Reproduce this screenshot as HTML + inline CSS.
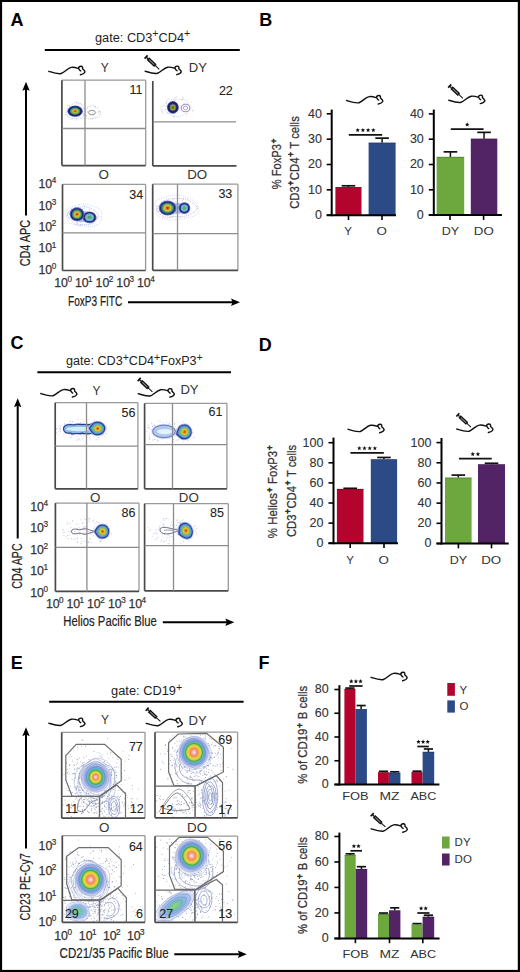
<!DOCTYPE html>
<html><head><meta charset="utf-8"><style>html,body{margin:0;padding:0;background:#fff;overflow:hidden;}svg{display:block;}</style></head>
<body><svg width="520" height="972" viewBox="0 0 520 972" font-family="'Liberation Sans', sans-serif">
<rect x="0" y="0" width="520" height="972" fill="#fff" />
<rect x="0" y="0" width="520" height="2" fill="#000" />
<rect x="0" y="0" width="2.1" height="972" fill="#000" />
<rect x="517.8" y="0" width="2.2" height="972" fill="#000" />
<rect x="0" y="969.9" width="520" height="2.1" fill="#000" />
<text x="10.6" y="25.8" font-size="18" text-anchor="start" fill="#000" font-weight="bold" >A</text>
<text x="259.2" y="25.8" font-size="18" text-anchor="start" fill="#000" font-weight="bold" >B</text>
<text x="10.6" y="349.2" font-size="18" text-anchor="start" fill="#000" font-weight="bold" >C</text>
<text x="258.8" y="351" font-size="18" text-anchor="start" fill="#000" font-weight="bold" >D</text>
<text x="10.8" y="669.3" font-size="18" text-anchor="start" fill="#000" font-weight="bold" >E</text>
<text x="258.6" y="669.3" font-size="18" text-anchor="start" fill="#000" font-weight="bold" >F</text>
<defs>
<radialGradient id="gE">
<stop offset="0" stop-color="#fff4f6"/>
<stop offset="0.08" stop-color="#f6b4c0"/>
<stop offset="0.16" stop-color="#f08c50"/>
<stop offset="0.27" stop-color="#eed448"/>
<stop offset="0.35" stop-color="#b4d040"/>
<stop offset="0.41" stop-color="#48a848"/>
<stop offset="0.49" stop-color="#58c0c8"/>
<stop offset="0.58" stop-color="#7898d8"/>
<stop offset="0.72" stop-color="#b0bee8"/>
<stop offset="0.88" stop-color="#d8def4"/>
<stop offset="1" stop-color="#eef0fa" stop-opacity="0"/>
</radialGradient>
<radialGradient id="gE2">
<stop offset="0" stop-color="#fff4f6"/>
<stop offset="0.1" stop-color="#f6b4c0"/>
<stop offset="0.22" stop-color="#f08c50"/>
<stop offset="0.37" stop-color="#eed448"/>
<stop offset="0.45" stop-color="#b4d040"/>
<stop offset="0.51" stop-color="#48a848"/>
<stop offset="0.59" stop-color="#58c0c8"/>
<stop offset="0.67" stop-color="#7898d8"/>
<stop offset="0.8" stop-color="#b0bee8"/>
<stop offset="0.92" stop-color="#d8def4"/>
<stop offset="1" stop-color="#eef0fa" stop-opacity="0"/>
</radialGradient>
<radialGradient id="gEc">
<stop offset="0" stop-color="#a8d060"/>
<stop offset="0.25" stop-color="#70c4a8"/>
<stop offset="0.5" stop-color="#88b8e0"/>
<stop offset="0.75" stop-color="#b8c8ee"/>
<stop offset="1" stop-color="#e0e4f6" stop-opacity="0"/>
</radialGradient>
</defs>
<circle cx="84.7" cy="115.2" r="0.6" fill="#f0d8e0"/><circle cx="69.5" cy="105.8" r="0.6" fill="#c8d0f0"/><circle cx="78.1" cy="104.9" r="0.6" fill="#c8e8f0"/><circle cx="79.6" cy="116.5" r="0.6" fill="#d0d0d0"/><circle cx="87.7" cy="111.8" r="0.6" fill="#c8e8f0"/><circle cx="76.1" cy="118.2" r="0.6" fill="#c8d0f0"/><circle cx="72.5" cy="118.8" r="0.6" fill="#c8e8f0"/><circle cx="74.0" cy="117.9" r="0.6" fill="#e0f0d0"/><circle cx="77.6" cy="106.3" r="0.6" fill="#c8d0f0"/><circle cx="67.6" cy="105.1" r="0.6" fill="#d0d0d0"/><circle cx="76.3" cy="120.0" r="0.6" fill="#d0d0d0"/><circle cx="83.7" cy="115.2" r="0.6" fill="#f0d8e0"/><circle cx="83.5" cy="108.4" r="0.6" fill="#c8e8f0"/><circle cx="67.2" cy="115.6" r="0.6" fill="#c8e8f0"/><circle cx="80.0" cy="106.5" r="0.6" fill="#f0d8e0"/><circle cx="87.0" cy="111.0" r="0.6" fill="#f0d8e0"/><circle cx="80.2" cy="110.2" r="0.6" fill="#c8e8f0"/><circle cx="72.1" cy="115.1" r="0.6" fill="#d0d0d0"/><circle cx="81.8" cy="110.8" r="0.6" fill="#e0f0d0"/><circle cx="79.0" cy="115.9" r="0.6" fill="#c8e8f0"/><circle cx="71.0" cy="119.2" r="0.6" fill="#d0d0d0"/><circle cx="77.6" cy="111.1" r="0.6" fill="#d0d0d0"/><circle cx="78.3" cy="107.6" r="0.6" fill="#e0f0d0"/><circle cx="75.7" cy="108.6" r="0.6" fill="#d0d0d0"/><circle cx="85.9" cy="116.1" r="0.6" fill="#f0d8e0"/><circle cx="81.9" cy="118.3" r="0.6" fill="#e0f0d0"/><circle cx="77.9" cy="102.9" r="0.6" fill="#d0d0d0"/><circle cx="68.9" cy="117.8" r="0.6" fill="#c8d0f0"/><circle cx="82.6" cy="104.5" r="0.6" fill="#f0d8e0"/><circle cx="69.4" cy="105.8" r="0.6" fill="#c8d0f0"/><circle cx="74.0" cy="114.9" r="0.6" fill="#c8d0f0"/><circle cx="64.5" cy="108.5" r="0.6" fill="#e0f0d0"/><circle cx="80.5" cy="103.5" r="0.6" fill="#c8d0f0"/><circle cx="84.1" cy="104.8" r="0.6" fill="#e0f0d0"/><circle cx="76.6" cy="102.0" r="0.6" fill="#d0d0d0"/><circle cx="71.9" cy="113.1" r="0.6" fill="#c8d0f0"/><circle cx="70.4" cy="110.8" r="0.6" fill="#f0d8e0"/><circle cx="74.7" cy="115.8" r="0.6" fill="#c8d0f0"/><circle cx="86.5" cy="115.6" r="0.6" fill="#d0d0d0"/><circle cx="81.3" cy="110.5" r="0.6" fill="#e0f0d0"/><circle cx="65.4" cy="114.4" r="0.6" fill="#c8d0f0"/><circle cx="87.7" cy="111.3" r="0.6" fill="#c8e8f0"/><circle cx="75.7" cy="107.9" r="0.6" fill="#f0d8e0"/><circle cx="69.7" cy="112.9" r="0.6" fill="#c8e8f0"/><circle cx="80.0" cy="114.6" r="0.6" fill="#e0f0d0"/>
<circle cx="87.3" cy="112.6" r="0.5" fill="#d0d0e0"/><circle cx="99.5" cy="111.6" r="0.5" fill="#c8c8d0"/><circle cx="93.9" cy="117.7" r="0.5" fill="#d0d0e0"/><circle cx="87.7" cy="108.3" r="0.5" fill="#d0d0e0"/><circle cx="92.7" cy="112.7" r="0.5" fill="#d0d0e0"/><circle cx="94.5" cy="107.1" r="0.5" fill="#c8c8d0"/><circle cx="98.6" cy="112.3" r="0.5" fill="#c8c8d0"/><circle cx="95.1" cy="105.9" r="0.5" fill="#c8c8d0"/><circle cx="98.6" cy="111.6" r="0.5" fill="#d0d0e0"/><circle cx="95.9" cy="117.9" r="0.5" fill="#d0d0e0"/><circle cx="96.1" cy="113.1" r="0.5" fill="#c8c8d0"/><circle cx="85.4" cy="108.0" r="0.5" fill="#d0d0e0"/><circle cx="97.0" cy="117.0" r="0.5" fill="#d0d0e0"/><circle cx="92.1" cy="110.4" r="0.5" fill="#d0d0e0"/><circle cx="92.6" cy="110.7" r="0.5" fill="#c8c8d0"/><circle cx="99.3" cy="114.5" r="0.5" fill="#c8c8d0"/><circle cx="95.1" cy="107.3" r="0.5" fill="#d0d0e0"/><circle cx="93.2" cy="115.0" r="0.5" fill="#c8c8d0"/><circle cx="87.8" cy="106.7" r="0.5" fill="#d0d0e0"/><circle cx="90.4" cy="107.1" r="0.5" fill="#d0d0e0"/><circle cx="90.7" cy="110.8" r="0.5" fill="#c8c8d0"/><circle cx="83.8" cy="113.6" r="0.5" fill="#c8c8d0"/><circle cx="89.8" cy="113.2" r="0.5" fill="#d0d0e0"/><circle cx="92.1" cy="119.0" r="0.5" fill="#d0d0e0"/><circle cx="92.6" cy="118.3" r="0.5" fill="#d0d0e0"/>
<path d="M85.35,111.50 C85.55,112.79 86.15,114.55 85.43,115.65 C84.70,116.74 82.56,117.54 80.99,118.08 C79.41,118.62 77.64,118.92 76.00,118.89 C74.36,118.87 72.62,118.50 71.14,117.92 C69.66,117.34 67.89,116.47 67.12,115.40 C66.36,114.33 66.50,112.78 66.55,111.50 C66.61,110.22 66.70,108.83 67.45,107.74 C68.21,106.65 69.64,105.82 71.06,104.98 C72.49,104.15 74.33,102.78 76.00,102.75 C77.67,102.72 79.71,103.94 81.08,104.79 C82.45,105.65 83.49,106.78 84.20,107.89 C84.91,109.01 85.14,110.21 85.35,111.50 Z" fill="none" stroke="#a0a8e0" stroke-width="0.7" opacity="0.9" stroke-dasharray="0.8 1.1"/>
<ellipse cx="75.1" cy="111.2" rx="7.7" ry="5.6" fill="#4850b8" />
<ellipse cx="75.1" cy="111.2" rx="6.776" ry="4.928" fill="#1c2264" />
<ellipse cx="75.1" cy="111.2" rx="5.082000000000001" ry="3.6959999999999997" fill="#3e8a86" />
<ellipse cx="75.1" cy="111.2" rx="3.85" ry="2.8" fill="#88b848" />
<ellipse cx="75.1" cy="111.2" rx="2.6180000000000003" ry="1.904" fill="#d0b030" />
<ellipse cx="75.1" cy="111.2" rx="1.386" ry="1.008" fill="#c85a22" />
<path d="M100.51,112.40 C100.65,113.55 100.56,115.17 99.77,116.04 C98.97,116.92 97.03,117.22 95.74,117.66 C94.45,118.11 93.37,118.52 92.00,118.70 C90.63,118.87 88.84,119.14 87.52,118.71 C86.19,118.28 84.76,117.18 84.05,116.13 C83.33,115.08 82.89,113.49 83.21,112.40 C83.54,111.31 85.20,110.52 86.00,109.58 C86.80,108.65 87.01,107.56 88.01,106.79 C89.01,106.02 90.67,104.98 92.00,104.97 C93.33,104.97 94.86,106.06 96.01,106.75 C97.16,107.45 98.16,108.22 98.91,109.16 C99.66,110.10 100.37,111.25 100.51,112.40 Z" fill="none" stroke="#a0a0a8" stroke-width="0.6" opacity="0.9" stroke-dasharray="0.8 1.1"/>
<ellipse cx="92" cy="112.6" rx="3.4" ry="2.3" fill="none" stroke="#8a8a8a" stroke-width="0.9"/>
<circle cx="168.0" cy="98.3" r="0.6" fill="#c8e8f0"/><circle cx="176.3" cy="98.0" r="0.6" fill="#c8d0f0"/><circle cx="173.7" cy="116.2" r="0.6" fill="#c8d0f0"/><circle cx="167.5" cy="107.8" r="0.6" fill="#f0d8e0"/><circle cx="186.5" cy="114.2" r="0.6" fill="#f0d8e0"/><circle cx="188.2" cy="113.7" r="0.6" fill="#f0d8e0"/><circle cx="166.6" cy="102.8" r="0.6" fill="#c0c0d0"/><circle cx="188.8" cy="104.2" r="0.6" fill="#d0d0d0"/><circle cx="171.5" cy="104.5" r="0.6" fill="#e0f0d0"/><circle cx="166.0" cy="106.4" r="0.6" fill="#c8d0f0"/><circle cx="184.0" cy="102.9" r="0.6" fill="#d0d0d0"/><circle cx="166.6" cy="105.3" r="0.6" fill="#f0d8e0"/><circle cx="174.7" cy="99.5" r="0.6" fill="#f0d8e0"/><circle cx="168.8" cy="113.5" r="0.6" fill="#c8d0f0"/><circle cx="161.6" cy="109.8" r="0.6" fill="#f0d8e0"/><circle cx="177.6" cy="110.3" r="0.6" fill="#c0c0d0"/><circle cx="166.6" cy="105.1" r="0.6" fill="#e0f0d0"/><circle cx="181.6" cy="105.7" r="0.6" fill="#e0f0d0"/><circle cx="172.1" cy="112.4" r="0.6" fill="#f0d8e0"/><circle cx="181.6" cy="100.4" r="0.6" fill="#f0d8e0"/><circle cx="167.8" cy="112.8" r="0.6" fill="#d0d0d0"/><circle cx="191.8" cy="102.4" r="0.6" fill="#c8d0f0"/><circle cx="161.5" cy="111.3" r="0.6" fill="#f0d8e0"/><circle cx="174.0" cy="116.8" r="0.6" fill="#d0d0d0"/><circle cx="183.1" cy="97.7" r="0.6" fill="#d0d0d0"/><circle cx="166.5" cy="105.8" r="0.6" fill="#e0f0d0"/><circle cx="168.5" cy="109.2" r="0.6" fill="#e0f0d0"/><circle cx="186.6" cy="104.0" r="0.6" fill="#f0d8e0"/><circle cx="179.4" cy="105.7" r="0.6" fill="#e0f0d0"/><circle cx="174.4" cy="100.6" r="0.6" fill="#c8d0f0"/><circle cx="162.1" cy="112.2" r="0.6" fill="#d0d0d0"/><circle cx="183.0" cy="99.3" r="0.6" fill="#c8d0f0"/><circle cx="178.6" cy="108.8" r="0.6" fill="#f0d8e0"/><circle cx="178.0" cy="113.0" r="0.6" fill="#c8e8f0"/><circle cx="182.2" cy="100.4" r="0.6" fill="#e0f0d0"/><circle cx="168.2" cy="105.0" r="0.6" fill="#c8d0f0"/><circle cx="167.4" cy="105.8" r="0.6" fill="#c0c0d0"/><circle cx="177.0" cy="96.7" r="0.6" fill="#f0d8e0"/><circle cx="168.6" cy="107.6" r="0.6" fill="#e0f0d0"/><circle cx="174.2" cy="101.8" r="0.6" fill="#f0d8e0"/><circle cx="179.2" cy="117.8" r="0.6" fill="#c8e8f0"/><circle cx="192.7" cy="110.4" r="0.6" fill="#c0c0d0"/><circle cx="185.3" cy="106.9" r="0.6" fill="#c8d0f0"/><circle cx="174.6" cy="116.5" r="0.6" fill="#d0d0d0"/><circle cx="171.4" cy="110.5" r="0.6" fill="#c0c0d0"/><circle cx="170.7" cy="105.2" r="0.6" fill="#e0f0d0"/><circle cx="182.3" cy="111.1" r="0.6" fill="#f0d8e0"/><circle cx="171.5" cy="104.6" r="0.6" fill="#c8e8f0"/><circle cx="192.7" cy="110.7" r="0.6" fill="#c8d0f0"/><circle cx="173.4" cy="109.6" r="0.6" fill="#f0d8e0"/><circle cx="182.7" cy="97.3" r="0.6" fill="#e0f0d0"/><circle cx="183.4" cy="106.2" r="0.6" fill="#c8e8f0"/><circle cx="185.4" cy="116.4" r="0.6" fill="#e0f0d0"/><circle cx="187.1" cy="100.6" r="0.6" fill="#e0f0d0"/><circle cx="163.9" cy="113.8" r="0.6" fill="#c8e8f0"/><circle cx="189.8" cy="108.1" r="0.6" fill="#e0f0d0"/><circle cx="165.5" cy="109.4" r="0.6" fill="#d0d0d0"/><circle cx="186.3" cy="106.4" r="0.6" fill="#d0d0d0"/><circle cx="174.9" cy="97.7" r="0.6" fill="#c0c0d0"/><circle cx="180.2" cy="106.8" r="0.6" fill="#f0d8e0"/>
<path d="M190.77,107.80 C190.64,109.20 188.85,110.61 187.57,111.85 C186.29,113.10 185.01,114.45 183.08,115.25 C181.15,116.04 178.22,116.75 176.00,116.60 C173.78,116.46 171.57,115.19 169.76,114.36 C167.96,113.52 166.78,112.68 165.19,111.59 C163.59,110.50 160.13,109.04 160.20,107.80 C160.26,106.56 164.22,105.51 165.55,104.14 C166.88,102.77 166.44,100.32 168.18,99.58 C169.93,98.84 173.38,99.70 176.00,99.69 C178.62,99.68 181.82,98.89 183.88,99.51 C185.94,100.14 187.23,102.08 188.38,103.46 C189.53,104.84 190.91,106.40 190.77,107.80 Z" fill="none" stroke="#a8a8c8" stroke-width="0.6" opacity="0.9" stroke-dasharray="0.8 1.1"/>
<ellipse cx="172.9" cy="107.4" rx="5.9" ry="6.3" fill="#5050b8" />
<ellipse cx="172.9" cy="107.4" rx="5.192" ry="5.544" fill="#1c2060" />
<ellipse cx="172.9" cy="107.4" rx="3.54" ry="3.78" fill="#2c4a8a" />
<ellipse cx="172.9" cy="107.4" rx="2.6550000000000002" ry="2.835" fill="#a8a830" />
<ellipse cx="172.9" cy="107.4" rx="1.475" ry="1.575" fill="#706818" />
<ellipse cx="185.5" cy="108" rx="4.3" ry="3.8" fill="none" stroke="#9a90c8" stroke-width="1.1"/>
<ellipse cx="185.5" cy="108" rx="2.2" ry="1.8" fill="none" stroke="#a8a0d0" stroke-width="0.9"/>
<circle cx="85.9" cy="220.8" r="0.6" fill="#c0c0d0"/><circle cx="80.9" cy="224.9" r="0.6" fill="#c0c0d0"/><circle cx="77.9" cy="223.4" r="0.6" fill="#c8e8f0"/><circle cx="83.4" cy="217.5" r="0.6" fill="#c8d0f0"/><circle cx="89.4" cy="214.2" r="0.6" fill="#e0f0d0"/><circle cx="95.3" cy="221.3" r="0.6" fill="#e0f0d0"/><circle cx="85.8" cy="214.9" r="0.6" fill="#e0f0d0"/><circle cx="72.7" cy="210.3" r="0.6" fill="#e0f0d0"/><circle cx="93.9" cy="211.8" r="0.6" fill="#e0f0d0"/><circle cx="83.3" cy="219.6" r="0.6" fill="#e0f0d0"/><circle cx="78.3" cy="206.4" r="0.6" fill="#c8e8f0"/><circle cx="71.3" cy="208.9" r="0.6" fill="#c8d0f0"/><circle cx="76.6" cy="222.3" r="0.6" fill="#d0d0d0"/><circle cx="76.8" cy="212.2" r="0.6" fill="#f0d8e0"/><circle cx="81.4" cy="212.3" r="0.6" fill="#c8e8f0"/><circle cx="81.1" cy="209.5" r="0.6" fill="#f0d8e0"/><circle cx="90.0" cy="222.9" r="0.6" fill="#c8d0f0"/><circle cx="83.6" cy="214.4" r="0.6" fill="#c8e8f0"/><circle cx="84.5" cy="206.2" r="0.6" fill="#c8d0f0"/><circle cx="88.6" cy="218.5" r="0.6" fill="#e0f0d0"/><circle cx="69.8" cy="210.9" r="0.6" fill="#c8e8f0"/><circle cx="77.0" cy="213.1" r="0.6" fill="#d0d0d0"/><circle cx="74.0" cy="215.3" r="0.6" fill="#d0d0d0"/><circle cx="89.9" cy="221.9" r="0.6" fill="#f0d8e0"/><circle cx="68.9" cy="212.8" r="0.6" fill="#d0d0d0"/><circle cx="77.6" cy="209.0" r="0.6" fill="#f0d8e0"/><circle cx="95.6" cy="216.9" r="0.6" fill="#f0d8e0"/><circle cx="88.0" cy="212.1" r="0.6" fill="#c8d0f0"/><circle cx="86.1" cy="220.4" r="0.6" fill="#f0d8e0"/><circle cx="83.1" cy="214.1" r="0.6" fill="#e0f0d0"/><circle cx="89.7" cy="212.9" r="0.6" fill="#f0d8e0"/><circle cx="80.6" cy="214.4" r="0.6" fill="#c8d0f0"/><circle cx="97.3" cy="218.8" r="0.6" fill="#c8e8f0"/><circle cx="76.7" cy="210.1" r="0.6" fill="#c0c0d0"/><circle cx="84.0" cy="208.7" r="0.6" fill="#c8e8f0"/><circle cx="69.4" cy="214.7" r="0.6" fill="#e0f0d0"/><circle cx="67.9" cy="214.4" r="0.6" fill="#e0f0d0"/><circle cx="80.5" cy="215.8" r="0.6" fill="#c0c0d0"/><circle cx="76.2" cy="211.5" r="0.6" fill="#c8e8f0"/><circle cx="78.9" cy="208.9" r="0.6" fill="#c8e8f0"/><circle cx="92.3" cy="216.6" r="0.6" fill="#e0f0d0"/><circle cx="86.1" cy="216.0" r="0.6" fill="#f0d8e0"/><circle cx="71.8" cy="215.8" r="0.6" fill="#d0d0d0"/><circle cx="91.0" cy="223.3" r="0.6" fill="#f0d8e0"/><circle cx="77.4" cy="217.7" r="0.6" fill="#c8d0f0"/><circle cx="90.3" cy="213.3" r="0.6" fill="#c0c0d0"/><circle cx="87.4" cy="222.7" r="0.6" fill="#f0d8e0"/><circle cx="90.6" cy="219.8" r="0.6" fill="#f0d8e0"/><circle cx="96.6" cy="212.8" r="0.6" fill="#e0f0d0"/><circle cx="84.6" cy="206.2" r="0.6" fill="#d0d0d0"/><circle cx="90.8" cy="212.5" r="0.6" fill="#f0d8e0"/><circle cx="80.8" cy="222.3" r="0.6" fill="#c0c0d0"/><circle cx="87.6" cy="213.1" r="0.6" fill="#f0d8e0"/><circle cx="86.6" cy="220.8" r="0.6" fill="#c8e8f0"/><circle cx="77.2" cy="222.9" r="0.6" fill="#c0c0d0"/><circle cx="80.4" cy="213.3" r="0.6" fill="#f0d8e0"/><circle cx="82.6" cy="216.6" r="0.6" fill="#e0f0d0"/><circle cx="72.4" cy="213.2" r="0.6" fill="#c8e8f0"/><circle cx="75.1" cy="207.6" r="0.6" fill="#c0c0d0"/><circle cx="89.4" cy="209.4" r="0.6" fill="#d0d0d0"/>
<path d="M98.25,216.00 C98.19,217.45 97.03,218.95 95.85,220.28 C94.67,221.60 93.21,223.20 91.15,223.95 C89.09,224.70 86.10,224.70 83.50,224.75 C80.90,224.81 77.58,225.03 75.53,224.28 C73.49,223.53 72.54,221.63 71.24,220.25 C69.94,218.87 68.10,217.54 67.73,216.00 C67.37,214.46 67.62,212.24 69.05,210.99 C70.48,209.75 73.91,209.26 76.32,208.54 C78.73,207.83 81.09,206.72 83.50,206.70 C85.91,206.68 88.68,207.60 90.80,208.41 C92.92,209.23 94.97,210.33 96.21,211.60 C97.45,212.86 98.31,214.55 98.25,216.00 Z" fill="none" stroke="#8890d0" stroke-width="0.8" opacity="0.9" stroke-dasharray="0.8 1.1"/>
<path d="M101.32,216.00 C101.32,218.01 101.97,220.32 100.63,222.04 C99.29,223.77 96.15,225.70 93.29,226.36 C90.44,227.03 86.51,226.29 83.50,226.03 C80.49,225.77 77.81,225.54 75.20,224.78 C72.59,224.03 69.27,222.99 67.84,221.52 C66.42,220.06 66.81,217.90 66.65,216.00 C66.49,214.10 65.63,211.79 66.87,210.13 C68.11,208.48 71.33,207.09 74.10,206.05 C76.88,205.02 80.42,203.90 83.50,203.95 C86.58,204.00 89.76,205.35 92.61,206.36 C95.46,207.36 99.17,208.35 100.62,209.96 C102.07,211.57 101.31,213.99 101.32,216.00 Z" fill="none" stroke="#b0b8e0" stroke-width="0.7" opacity="0.9" stroke-dasharray="0.8 1.1"/>
<ellipse cx="83" cy="216.5" rx="11" ry="5.5" fill="#a8c0ec" />
<ellipse cx="89.5" cy="217.3" rx="7.0" ry="5.9" fill="#5a5ac8" />
<ellipse cx="89.5" cy="217.3" rx="6.02" ry="5.074" fill="#1c2264" />
<ellipse cx="89.5" cy="217.3" rx="4.760000000000001" ry="4.0120000000000005" fill="#6a98d8" />
<ellipse cx="89.5" cy="217.3" rx="3.5" ry="2.95" fill="#70c8c8" />
<ellipse cx="89.5" cy="217.3" rx="2.1" ry="1.77" fill="#5aa860" />
<ellipse cx="77" cy="214.3" rx="7.3" ry="7.0" fill="#5a5ac8" />
<ellipse cx="77" cy="214.3" rx="6.351" ry="6.09" fill="#1c2264" />
<ellipse cx="77" cy="214.3" rx="5.255999999999999" ry="5.04" fill="#2a7a88" />
<ellipse cx="77" cy="214.3" rx="4.088" ry="3.9200000000000004" fill="#7ab850" />
<ellipse cx="77" cy="214.3" rx="2.92" ry="2.8000000000000003" fill="#d8c030" />
<ellipse cx="77" cy="214.3" rx="1.752" ry="1.68" fill="#e07020" />
<ellipse cx="77" cy="214.3" rx="0.73" ry="0.7000000000000001" fill="#c02a18" />
<circle cx="185.6" cy="214.4" r="0.6" fill="#c8e8f0"/><circle cx="162.2" cy="209.7" r="0.6" fill="#c0c0d0"/><circle cx="170.4" cy="213.4" r="0.6" fill="#f0d8e0"/><circle cx="174.6" cy="202.0" r="0.6" fill="#c8e8f0"/><circle cx="189.8" cy="208.8" r="0.6" fill="#c8d0f0"/><circle cx="163.9" cy="209.1" r="0.6" fill="#c0c0d0"/><circle cx="166.6" cy="214.1" r="0.6" fill="#c0c0d0"/><circle cx="160.2" cy="206.5" r="0.6" fill="#c8d0f0"/><circle cx="170.0" cy="206.2" r="0.6" fill="#f0d8e0"/><circle cx="173.0" cy="199.9" r="0.6" fill="#e0f0d0"/><circle cx="182.2" cy="213.9" r="0.6" fill="#c8d0f0"/><circle cx="191.2" cy="209.8" r="0.6" fill="#e0f0d0"/><circle cx="174.5" cy="214.7" r="0.6" fill="#e0f0d0"/><circle cx="175.5" cy="210.9" r="0.6" fill="#c0c0d0"/><circle cx="189.1" cy="208.1" r="0.6" fill="#c8d0f0"/><circle cx="179.8" cy="202.9" r="0.6" fill="#c8e8f0"/><circle cx="168.0" cy="209.8" r="0.6" fill="#c8d0f0"/><circle cx="175.0" cy="211.6" r="0.6" fill="#e0f0d0"/><circle cx="161.2" cy="211.3" r="0.6" fill="#f0d8e0"/><circle cx="182.9" cy="205.6" r="0.6" fill="#e0f0d0"/><circle cx="162.0" cy="202.2" r="0.6" fill="#c0c0d0"/><circle cx="175.8" cy="201.8" r="0.6" fill="#e0f0d0"/><circle cx="189.6" cy="210.4" r="0.6" fill="#f0d8e0"/><circle cx="170.5" cy="208.5" r="0.6" fill="#f0d8e0"/><circle cx="158.9" cy="206.5" r="0.6" fill="#c0c0d0"/><circle cx="172.9" cy="214.1" r="0.6" fill="#c8d0f0"/><circle cx="189.1" cy="211.4" r="0.6" fill="#c8e8f0"/><circle cx="173.1" cy="214.6" r="0.6" fill="#c8d0f0"/><circle cx="175.6" cy="207.4" r="0.6" fill="#c0c0d0"/><circle cx="163.9" cy="211.6" r="0.6" fill="#c8e8f0"/><circle cx="174.6" cy="213.7" r="0.6" fill="#e0f0d0"/><circle cx="157.7" cy="208.8" r="0.6" fill="#f0d8e0"/><circle cx="178.2" cy="205.2" r="0.6" fill="#f0d8e0"/><circle cx="175.1" cy="204.6" r="0.6" fill="#d0d0d0"/><circle cx="166.2" cy="206.2" r="0.6" fill="#c8e8f0"/><circle cx="179.0" cy="203.4" r="0.6" fill="#c8e8f0"/><circle cx="180.6" cy="207.8" r="0.6" fill="#c0c0d0"/><circle cx="170.6" cy="204.1" r="0.6" fill="#c8e8f0"/><circle cx="168.6" cy="211.2" r="0.6" fill="#d0d0d0"/><circle cx="170.5" cy="210.1" r="0.6" fill="#f0d8e0"/><circle cx="180.3" cy="217.5" r="0.6" fill="#c0c0d0"/><circle cx="173.2" cy="199.1" r="0.6" fill="#c8d0f0"/><circle cx="179.0" cy="209.4" r="0.6" fill="#c0c0d0"/><circle cx="182.9" cy="205.2" r="0.6" fill="#c8e8f0"/><circle cx="179.1" cy="206.4" r="0.6" fill="#d0d0d0"/><circle cx="174.7" cy="207.4" r="0.6" fill="#c8d0f0"/><circle cx="170.4" cy="217.2" r="0.6" fill="#c0c0d0"/><circle cx="179.5" cy="210.1" r="0.6" fill="#e0f0d0"/><circle cx="158.4" cy="211.4" r="0.6" fill="#c0c0d0"/><circle cx="160.8" cy="210.9" r="0.6" fill="#c8e8f0"/><circle cx="183.1" cy="199.4" r="0.6" fill="#c8d0f0"/><circle cx="182.2" cy="200.5" r="0.6" fill="#c8d0f0"/><circle cx="162.8" cy="210.6" r="0.6" fill="#f0d8e0"/><circle cx="173.3" cy="211.9" r="0.6" fill="#c0c0d0"/><circle cx="189.7" cy="206.8" r="0.6" fill="#c8e8f0"/><circle cx="173.1" cy="203.5" r="0.6" fill="#c0c0d0"/><circle cx="177.9" cy="214.6" r="0.6" fill="#f0d8e0"/><circle cx="187.9" cy="203.6" r="0.6" fill="#c8e8f0"/><circle cx="172.5" cy="216.4" r="0.6" fill="#c8d0f0"/><circle cx="182.7" cy="203.0" r="0.6" fill="#d0d0d0"/>
<path d="M197.21,208.00 C197.25,209.63 195.02,211.58 193.03,212.92 C191.04,214.26 188.11,215.43 185.27,216.03 C182.43,216.63 179.29,216.34 176.00,216.51 C172.71,216.68 168.40,217.65 165.54,217.06 C162.68,216.47 160.28,214.47 158.83,212.96 C157.39,211.45 156.54,209.56 156.85,208.00 C157.17,206.44 159.14,204.97 160.74,203.60 C162.34,202.22 163.91,200.59 166.45,199.73 C169.00,198.88 172.73,198.55 176.00,198.47 C179.27,198.39 183.28,198.48 186.09,199.26 C188.90,200.04 190.99,201.68 192.84,203.14 C194.70,204.59 197.18,206.37 197.21,208.00 Z" fill="none" stroke="#8890d0" stroke-width="0.8" opacity="0.9" stroke-dasharray="0.8 1.1"/>
<path d="M198.14,208.00 C198.40,210.10 198.77,212.91 196.83,214.56 C194.89,216.21 189.97,216.98 186.50,217.92 C183.03,218.86 179.64,220.04 176.00,220.17 C172.36,220.31 167.83,219.76 164.63,218.74 C161.43,217.72 158.16,215.84 156.80,214.05 C155.45,212.26 156.71,210.08 156.51,208.00 C156.30,205.92 154.22,203.35 155.58,201.57 C156.94,199.79 161.27,198.41 164.67,197.30 C168.07,196.18 172.27,194.82 176.00,194.86 C179.73,194.91 183.84,196.38 187.05,197.56 C190.26,198.74 193.41,200.20 195.26,201.94 C197.11,203.68 197.88,205.90 198.14,208.00 Z" fill="none" stroke="#b0b8e0" stroke-width="0.7" opacity="0.9" stroke-dasharray="0.8 1.1"/>
<ellipse cx="176" cy="208.3" rx="10" ry="5.5" fill="#a8c0ec" />
<ellipse cx="184.4" cy="208.1" rx="5.9" ry="5.9" fill="#5a5ac8" />
<ellipse cx="184.4" cy="208.1" rx="4.956" ry="4.956" fill="#1c2264" />
<ellipse cx="184.4" cy="208.1" rx="3.7760000000000002" ry="3.7760000000000002" fill="#6a98d8" />
<ellipse cx="184.4" cy="208.1" rx="2.7140000000000004" ry="2.7140000000000004" fill="#70c8c8" />
<ellipse cx="184.4" cy="208.1" rx="1.6520000000000004" ry="1.6520000000000004" fill="#5aa860" />
<ellipse cx="167.6" cy="208" rx="8.9" ry="7.5" fill="#7060c8" />
<ellipse cx="167.6" cy="208" rx="7.832000000000001" ry="6.6" fill="#1c2a70" />
<ellipse cx="167.6" cy="208" rx="6.586" ry="5.55" fill="#2a7a88" />
<ellipse cx="167.6" cy="208" rx="5.162" ry="4.35" fill="#7ab850" />
<ellipse cx="167.6" cy="208" rx="3.738" ry="3.15" fill="#d8c030" />
<ellipse cx="167.6" cy="208" rx="2.314" ry="1.9500000000000002" fill="#e07020" />
<ellipse cx="167.6" cy="208" rx="1.068" ry="0.8999999999999999" fill="#c02a18" />
<circle cx="72.5" cy="421.6" r="0.55" fill="#b8c0e8"/><circle cx="58.9" cy="430.9" r="0.55" fill="#d8d8ec"/><circle cx="86.5" cy="439.8" r="0.55" fill="#c8d0f0"/><circle cx="57.0" cy="428.4" r="0.55" fill="#b8c0e8"/><circle cx="68.0" cy="431.2" r="0.55" fill="#b8c0e8"/><circle cx="99.7" cy="421.0" r="0.55" fill="#c8d0f0"/><circle cx="89.1" cy="432.0" r="0.55" fill="#b8c0e8"/><circle cx="86.2" cy="427.5" r="0.55" fill="#c8d0f0"/><circle cx="70.6" cy="421.5" r="0.55" fill="#b8c0e8"/><circle cx="85.8" cy="431.4" r="0.55" fill="#c8d0f0"/><circle cx="60.6" cy="431.7" r="0.55" fill="#c8d0f0"/><circle cx="75.1" cy="431.1" r="0.55" fill="#b8c0e8"/><circle cx="85.5" cy="432.9" r="0.55" fill="#b8d0ec"/><circle cx="91.7" cy="428.3" r="0.55" fill="#d8d8ec"/><circle cx="80.1" cy="440.2" r="0.55" fill="#d8d8ec"/><circle cx="71.2" cy="437.1" r="0.55" fill="#c8d0f0"/><circle cx="59.4" cy="425.2" r="0.55" fill="#b8d0ec"/><circle cx="102.3" cy="435.5" r="0.55" fill="#d8d8ec"/><circle cx="87.9" cy="419.8" r="0.55" fill="#e0c8e0"/><circle cx="77.6" cy="436.2" r="0.55" fill="#c8d0f0"/><circle cx="105.4" cy="428.1" r="0.55" fill="#b8c0e8"/><circle cx="96.3" cy="431.8" r="0.55" fill="#d8d8ec"/><circle cx="73.4" cy="426.4" r="0.55" fill="#b8d0ec"/><circle cx="86.3" cy="428.9" r="0.55" fill="#b8c0e8"/><circle cx="106.0" cy="429.4" r="0.55" fill="#b8c0e8"/><circle cx="58.3" cy="434.8" r="0.55" fill="#e0c8e0"/><circle cx="70.4" cy="427.3" r="0.55" fill="#d8d8ec"/><circle cx="56.2" cy="429.1" r="0.55" fill="#c8d0f0"/><circle cx="88.0" cy="429.8" r="0.55" fill="#c8d0f0"/><circle cx="96.5" cy="421.1" r="0.55" fill="#c8d0f0"/><circle cx="76.5" cy="440.0" r="0.55" fill="#b8d0ec"/><circle cx="59.4" cy="428.8" r="0.55" fill="#e0c8e0"/><circle cx="70.0" cy="421.3" r="0.55" fill="#b8d0ec"/><circle cx="101.7" cy="424.7" r="0.55" fill="#b8d0ec"/><circle cx="75.5" cy="423.5" r="0.55" fill="#b8c0e8"/><circle cx="64.5" cy="423.6" r="0.55" fill="#c8d0f0"/><circle cx="64.8" cy="424.8" r="0.55" fill="#c8d0f0"/><circle cx="77.6" cy="426.9" r="0.55" fill="#e0c8e0"/><circle cx="72.2" cy="421.0" r="0.55" fill="#e0c8e0"/><circle cx="106.3" cy="433.7" r="0.55" fill="#b8c0e8"/><circle cx="79.7" cy="438.9" r="0.55" fill="#e0c8e0"/><circle cx="76.2" cy="427.6" r="0.55" fill="#b8c0e8"/><circle cx="81.0" cy="427.6" r="0.55" fill="#c8d0f0"/><circle cx="63.8" cy="426.2" r="0.55" fill="#b8c0e8"/><circle cx="60.5" cy="431.6" r="0.55" fill="#e0c8e0"/><circle cx="60.5" cy="426.7" r="0.55" fill="#b8c0e8"/><circle cx="75.3" cy="433.2" r="0.55" fill="#d8d8ec"/><circle cx="87.5" cy="429.4" r="0.55" fill="#b8c0e8"/><circle cx="80.2" cy="429.6" r="0.55" fill="#b8c0e8"/><circle cx="62.8" cy="436.0" r="0.55" fill="#d8d8ec"/><circle cx="80.8" cy="434.6" r="0.55" fill="#e0c8e0"/><circle cx="83.5" cy="421.5" r="0.55" fill="#e0c8e0"/><circle cx="104.4" cy="436.2" r="0.55" fill="#d8d8ec"/><circle cx="92.6" cy="424.3" r="0.55" fill="#d8d8ec"/><circle cx="104.0" cy="426.5" r="0.55" fill="#c8d0f0"/><circle cx="83.8" cy="436.7" r="0.55" fill="#d8d8ec"/><circle cx="89.4" cy="432.7" r="0.55" fill="#c8d0f0"/><circle cx="98.5" cy="437.6" r="0.55" fill="#c8d0f0"/><circle cx="65.8" cy="429.8" r="0.55" fill="#b8c0e8"/><circle cx="80.5" cy="422.6" r="0.55" fill="#e0c8e0"/><circle cx="106.7" cy="428.7" r="0.55" fill="#d8d8ec"/><circle cx="106.6" cy="426.8" r="0.55" fill="#c8d0f0"/><circle cx="60.5" cy="429.3" r="0.55" fill="#d8d8ec"/><circle cx="66.0" cy="433.0" r="0.55" fill="#e0c8e0"/><circle cx="100.4" cy="429.5" r="0.55" fill="#d8d8ec"/><circle cx="90.7" cy="439.8" r="0.55" fill="#c8d0f0"/><circle cx="80.8" cy="422.3" r="0.55" fill="#d8d8ec"/><circle cx="94.0" cy="429.1" r="0.55" fill="#b8c0e8"/><circle cx="94.1" cy="422.1" r="0.55" fill="#c8d0f0"/><circle cx="56.5" cy="432.2" r="0.55" fill="#b8d0ec"/><circle cx="98.6" cy="421.5" r="0.55" fill="#e0c8e0"/><circle cx="73.9" cy="431.2" r="0.55" fill="#c8d0f0"/><circle cx="94.2" cy="420.5" r="0.55" fill="#c8d0f0"/><circle cx="78.4" cy="438.9" r="0.55" fill="#c8d0f0"/><circle cx="82.1" cy="436.3" r="0.55" fill="#d8d8ec"/><circle cx="69.0" cy="428.1" r="0.55" fill="#c8d0f0"/><circle cx="103.5" cy="433.9" r="0.55" fill="#e0c8e0"/><circle cx="77.7" cy="440.0" r="0.55" fill="#e0c8e0"/><circle cx="82.6" cy="438.9" r="0.55" fill="#c8d0f0"/><circle cx="87.9" cy="436.6" r="0.55" fill="#c8d0f0"/><circle cx="64.3" cy="429.4" r="0.55" fill="#b8c0e8"/><circle cx="85.0" cy="425.8" r="0.55" fill="#e0c8e0"/><circle cx="83.7" cy="429.6" r="0.55" fill="#b8c0e8"/><circle cx="60.3" cy="428.9" r="0.55" fill="#b8c0e8"/><circle cx="96.0" cy="439.9" r="0.55" fill="#b8d0ec"/><circle cx="87.7" cy="422.8" r="0.55" fill="#d8d8ec"/><circle cx="79.4" cy="430.8" r="0.55" fill="#b8d0ec"/><circle cx="82.4" cy="423.9" r="0.55" fill="#e0c8e0"/><circle cx="69.0" cy="431.4" r="0.55" fill="#c8d0f0"/><circle cx="100.4" cy="421.3" r="0.55" fill="#b8c0e8"/><circle cx="76.2" cy="425.6" r="0.55" fill="#c8d0f0"/><circle cx="78.1" cy="423.1" r="0.55" fill="#d8d8ec"/><circle cx="97.3" cy="439.5" r="0.55" fill="#c8d0f0"/><circle cx="105.7" cy="433.4" r="0.55" fill="#d8d8ec"/><circle cx="106.4" cy="427.6" r="0.55" fill="#b8d0ec"/><circle cx="63.8" cy="434.0" r="0.55" fill="#c8d0f0"/><circle cx="63.7" cy="428.4" r="0.55" fill="#e0c8e0"/><circle cx="76.8" cy="428.1" r="0.55" fill="#d8d8ec"/><circle cx="72.2" cy="435.3" r="0.55" fill="#b8c0e8"/><circle cx="73.3" cy="429.0" r="0.55" fill="#b8c0e8"/><circle cx="75.8" cy="430.4" r="0.55" fill="#d8d8ec"/><circle cx="82.7" cy="419.5" r="0.55" fill="#c8d0f0"/><circle cx="97.1" cy="424.5" r="0.55" fill="#c8d0f0"/><circle cx="99.3" cy="438.4" r="0.55" fill="#d8d8ec"/><circle cx="76.9" cy="430.9" r="0.55" fill="#e0c8e0"/><circle cx="85.8" cy="434.8" r="0.55" fill="#b8c0e8"/><circle cx="70.1" cy="437.2" r="0.55" fill="#c8d0f0"/><circle cx="78.0" cy="419.7" r="0.55" fill="#b8c0e8"/><circle cx="89.3" cy="437.2" r="0.55" fill="#b8c0e8"/><circle cx="87.8" cy="423.3" r="0.55" fill="#d8d8ec"/>
<path d="M63.50,429.00 C63.50,424.68 66.50,423.60 70.50,423.60 Q72.89,423.74 75.28,423.91 Q77.66,422.98 80.05,423.55 Q82.44,423.31 84.82,423.67 Q87.21,423.12 89.60,423.87 C91.40,422.64 93.80,422.00 95.00,422.00 C98.60,422.00 101.00,424.88 101.00,428.40 C101.00,431.92 98.60,434.80 95.00,434.80 C93.80,434.80 91.40,434.16 89.60,434.40 Q87.21,434.21 84.82,434.02 Q82.44,435.10 80.05,434.26 Q77.66,435.01 75.28,434.00 Q72.89,434.63 70.50,434.43 C66.50,434.40 63.50,433.32 63.50,429.00 Z" fill="#b8c4ee"/>
<path d="M63.50,429.00 C63.50,425.40 66.50,424.50 70.50,424.50 Q72.50,424.64 74.50,424.81 Q76.50,423.88 78.50,424.45 Q80.50,424.21 82.50,424.57 Q84.50,424.02 86.50,424.77 Q88.50,424.69 90.50,424.32 C92.00,423.45 94.00,422.90 95.00,422.90 C98.00,422.90 100.00,425.38 100.00,428.40 C100.00,431.42 98.00,433.90 95.00,433.90 C94.00,433.90 92.00,433.35 90.50,433.50 Q88.50,434.20 86.50,433.36 Q84.50,434.11 82.50,433.10 Q80.50,433.73 78.50,433.53 Q76.50,433.47 74.50,433.67 Q72.50,434.28 70.50,433.12 C66.50,433.50 63.50,432.60 63.50,429.00 Z" fill="#8cbce6" stroke="#2c3e88" stroke-width="1.2"/>
<ellipse cx="79" cy="429" rx="13" ry="2.2" fill="#d4eef6" />
<path transform="translate(97.8,428.5) rotate(0)" d="M-10.08,0 C-5.54,-7.13 -3.73,-7.50 0,-7.50 A8.29,7.50 0 1 1 0,7.50 C-3.73,7.50 -5.54,7.13 -10.08,0 Z" fill="#a8b4ec"/>
<path transform="translate(97.8,428.5) rotate(0)" d="M-9.00,0 C-4.95,-6.37 -3.33,-6.70 0,-6.70 A7.40,6.70 0 1 1 0,6.70 C-3.33,6.70 -4.95,6.37 -9.00,0 Z" fill="#24358c"/>
<path transform="translate(97.8,428.5) rotate(0)" d="M-7.83,0 C-4.31,-5.54 -2.90,-5.83 0,-5.83 A6.44,5.83 0 1 1 0,5.83 C-2.90,5.83 -4.31,5.54 -7.83,0 Z" fill="#5a86cc"/>
<path transform="translate(97.8,428.5) rotate(0)" d="M-6.48,0 C-3.56,-4.58 -2.40,-4.82 0,-4.82 A5.33,4.82 0 1 1 0,4.82 C-2.40,4.82 -3.56,4.58 -6.48,0 Z" fill="#5cb4c8"/>
<path transform="translate(97.8,428.5) rotate(0)" d="M-5.13,0 C-2.82,-3.63 -1.90,-3.82 0,-3.82 A4.22,3.82 0 1 1 0,3.82 C-1.90,3.82 -2.82,3.63 -5.13,0 Z" fill="#84be50"/>
<path transform="translate(97.8,428.5) rotate(0)" d="M-3.78,0 C-2.08,-2.67 -1.40,-2.81 0,-2.81 A3.11,2.81 0 1 1 0,2.81 C-1.40,2.81 -2.08,2.67 -3.78,0 Z" fill="#e6c830"/>
<path transform="translate(97.8,428.5) rotate(0)" d="M-2.34,0 C-1.29,-1.65 -0.87,-1.74 0,-1.74 A1.92,1.74 0 1 1 0,1.74 C-0.87,1.74 -1.29,1.65 -2.34,0 Z" fill="#e88020"/>
<path transform="translate(97.8,428.5) rotate(0)" d="M-0.99,0 C-0.54,-0.70 -0.37,-0.74 0,-0.74 A0.81,0.74 0 1 1 0,0.74 C-0.37,0.74 -0.54,0.70 -0.99,0 Z" fill="#d04818"/>
<circle cx="149.1" cy="436.9" r="0.55" fill="#b8c0e8"/><circle cx="149.7" cy="439.5" r="0.55" fill="#e0c8e0"/><circle cx="153.7" cy="435.4" r="0.55" fill="#b8d0ec"/><circle cx="169.3" cy="429.4" r="0.55" fill="#e0c8e0"/><circle cx="152.8" cy="439.9" r="0.55" fill="#b8c0e8"/><circle cx="169.2" cy="438.2" r="0.55" fill="#d8d8ec"/><circle cx="171.1" cy="431.4" r="0.55" fill="#b8d0ec"/><circle cx="182.7" cy="435.9" r="0.55" fill="#b8c0e8"/><circle cx="176.7" cy="429.1" r="0.55" fill="#b8c0e8"/><circle cx="161.0" cy="436.6" r="0.55" fill="#b8d0ec"/><circle cx="192.6" cy="432.4" r="0.55" fill="#c8d0f0"/><circle cx="174.6" cy="423.4" r="0.55" fill="#b8c0e8"/><circle cx="172.2" cy="420.9" r="0.55" fill="#c8d0f0"/><circle cx="167.6" cy="434.0" r="0.55" fill="#b8d0ec"/><circle cx="158.0" cy="428.6" r="0.55" fill="#b8d0ec"/><circle cx="149.6" cy="438.3" r="0.55" fill="#b8c0e8"/><circle cx="171.8" cy="427.5" r="0.55" fill="#d8d8ec"/><circle cx="170.2" cy="424.7" r="0.55" fill="#c8d0f0"/><circle cx="161.9" cy="426.8" r="0.55" fill="#b8c0e8"/><circle cx="187.3" cy="440.6" r="0.55" fill="#e0c8e0"/><circle cx="154.3" cy="425.9" r="0.55" fill="#b8c0e8"/><circle cx="158.6" cy="425.3" r="0.55" fill="#b8c0e8"/><circle cx="165.7" cy="429.0" r="0.55" fill="#b8d0ec"/><circle cx="151.8" cy="429.5" r="0.55" fill="#c8d0f0"/><circle cx="186.6" cy="429.1" r="0.55" fill="#c8d0f0"/><circle cx="173.9" cy="441.7" r="0.55" fill="#c8d0f0"/><circle cx="165.0" cy="430.7" r="0.55" fill="#b8d0ec"/><circle cx="179.1" cy="438.3" r="0.55" fill="#e0c8e0"/><circle cx="162.2" cy="439.4" r="0.55" fill="#e0c8e0"/><circle cx="169.3" cy="423.6" r="0.55" fill="#e0c8e0"/><circle cx="149.9" cy="429.3" r="0.55" fill="#e0c8e0"/><circle cx="148.8" cy="427.2" r="0.55" fill="#d8d8ec"/><circle cx="188.8" cy="425.0" r="0.55" fill="#e0c8e0"/><circle cx="174.5" cy="424.3" r="0.55" fill="#b8d0ec"/><circle cx="166.7" cy="422.0" r="0.55" fill="#e0c8e0"/><circle cx="154.5" cy="439.5" r="0.55" fill="#c8d0f0"/><circle cx="163.3" cy="422.6" r="0.55" fill="#b8d0ec"/><circle cx="178.3" cy="437.3" r="0.55" fill="#e0c8e0"/><circle cx="182.6" cy="437.2" r="0.55" fill="#b8d0ec"/><circle cx="173.6" cy="439.6" r="0.55" fill="#b8d0ec"/><circle cx="154.6" cy="424.7" r="0.55" fill="#b8d0ec"/><circle cx="148.2" cy="425.1" r="0.55" fill="#b8c0e8"/><circle cx="181.7" cy="434.7" r="0.55" fill="#b8c0e8"/><circle cx="178.7" cy="439.9" r="0.55" fill="#e0c8e0"/><circle cx="184.3" cy="432.1" r="0.55" fill="#e0c8e0"/><circle cx="153.2" cy="425.5" r="0.55" fill="#e0c8e0"/><circle cx="163.5" cy="432.5" r="0.55" fill="#c8d0f0"/><circle cx="192.9" cy="437.8" r="0.55" fill="#b8d0ec"/><circle cx="154.5" cy="427.1" r="0.55" fill="#e0c8e0"/><circle cx="165.5" cy="437.9" r="0.55" fill="#d8d8ec"/><circle cx="170.9" cy="435.0" r="0.55" fill="#d8d8ec"/><circle cx="185.9" cy="427.1" r="0.55" fill="#b8c0e8"/><circle cx="153.0" cy="428.9" r="0.55" fill="#e0c8e0"/><circle cx="189.4" cy="427.5" r="0.55" fill="#d8d8ec"/><circle cx="164.2" cy="429.2" r="0.55" fill="#e0c8e0"/><circle cx="194.4" cy="437.5" r="0.55" fill="#e0c8e0"/><circle cx="174.8" cy="436.2" r="0.55" fill="#c8d0f0"/><circle cx="169.4" cy="432.7" r="0.55" fill="#b8c0e8"/><circle cx="157.1" cy="421.6" r="0.55" fill="#d8d8ec"/><circle cx="177.0" cy="439.8" r="0.55" fill="#d8d8ec"/><circle cx="157.3" cy="439.8" r="0.55" fill="#d8d8ec"/><circle cx="157.5" cy="441.3" r="0.55" fill="#b8d0ec"/><circle cx="155.7" cy="425.9" r="0.55" fill="#c8d0f0"/><circle cx="186.2" cy="437.9" r="0.55" fill="#c8d0f0"/><circle cx="155.1" cy="439.5" r="0.55" fill="#e0c8e0"/><circle cx="188.5" cy="428.8" r="0.55" fill="#b8c0e8"/><circle cx="186.4" cy="429.3" r="0.55" fill="#c8d0f0"/><circle cx="149.7" cy="434.6" r="0.55" fill="#d8d8ec"/><circle cx="146.9" cy="431.1" r="0.55" fill="#d8d8ec"/><circle cx="176.0" cy="440.8" r="0.55" fill="#b8c0e8"/><circle cx="159.9" cy="420.9" r="0.55" fill="#b8c0e8"/><circle cx="190.1" cy="435.7" r="0.55" fill="#d8d8ec"/><circle cx="186.3" cy="425.3" r="0.55" fill="#d8d8ec"/><circle cx="176.1" cy="430.4" r="0.55" fill="#c8d0f0"/><circle cx="156.3" cy="429.3" r="0.55" fill="#b8d0ec"/><circle cx="182.8" cy="421.6" r="0.55" fill="#e0c8e0"/><circle cx="154.5" cy="427.0" r="0.55" fill="#c8d0f0"/><circle cx="160.9" cy="424.8" r="0.55" fill="#b8c0e8"/><circle cx="152.0" cy="424.1" r="0.55" fill="#d8d8ec"/><circle cx="158.5" cy="425.8" r="0.55" fill="#e0c8e0"/><circle cx="168.8" cy="433.5" r="0.55" fill="#b8c0e8"/><circle cx="149.4" cy="427.8" r="0.55" fill="#b8d0ec"/><circle cx="151.7" cy="423.2" r="0.55" fill="#b8d0ec"/><circle cx="174.8" cy="434.7" r="0.55" fill="#b8d0ec"/><circle cx="187.6" cy="430.5" r="0.55" fill="#d8d8ec"/><circle cx="169.4" cy="428.8" r="0.55" fill="#e0c8e0"/><circle cx="152.5" cy="426.4" r="0.55" fill="#b8d0ec"/><circle cx="188.6" cy="440.1" r="0.55" fill="#d8d8ec"/><circle cx="170.0" cy="443.3" r="0.55" fill="#e0c8e0"/><circle cx="186.2" cy="432.3" r="0.55" fill="#c8d0f0"/><circle cx="173.8" cy="429.4" r="0.55" fill="#c8d0f0"/><circle cx="188.2" cy="435.5" r="0.55" fill="#b8c0e8"/><circle cx="190.7" cy="432.2" r="0.55" fill="#d8d8ec"/><circle cx="161.4" cy="436.8" r="0.55" fill="#e0c8e0"/><circle cx="167.1" cy="442.7" r="0.55" fill="#b8d0ec"/><circle cx="173.6" cy="433.9" r="0.55" fill="#b8c0e8"/><circle cx="162.9" cy="432.1" r="0.55" fill="#e0c8e0"/><circle cx="182.1" cy="428.8" r="0.55" fill="#d8d8ec"/><circle cx="148.0" cy="427.7" r="0.55" fill="#b8c0e8"/><circle cx="168.7" cy="424.1" r="0.55" fill="#c8d0f0"/><circle cx="168.7" cy="433.8" r="0.55" fill="#d8d8ec"/><circle cx="184.2" cy="430.3" r="0.55" fill="#b8c0e8"/><circle cx="183.1" cy="442.3" r="0.55" fill="#d8d8ec"/><circle cx="170.6" cy="431.6" r="0.55" fill="#b8d0ec"/><circle cx="173.4" cy="427.2" r="0.55" fill="#d8d8ec"/><circle cx="186.0" cy="438.8" r="0.55" fill="#d8d8ec"/><circle cx="174.7" cy="426.3" r="0.55" fill="#d8d8ec"/><circle cx="158.2" cy="440.6" r="0.55" fill="#b8d0ec"/><circle cx="178.8" cy="422.1" r="0.55" fill="#b8d0ec"/><circle cx="161.1" cy="433.9" r="0.55" fill="#b8c0e8"/>
<ellipse cx="164" cy="431.4" rx="12.5" ry="7.4" fill="#c4ccf0" />
<ellipse cx="164" cy="431.4" rx="11.3" ry="6.2" fill="#b0c8ec" stroke="#6878c0" stroke-width="1.0"/>
<ellipse cx="165" cy="431.6" rx="8" ry="2.6" fill="#e0f2fa" />
<path transform="translate(184.8,431.8) rotate(-15)" d="M-10.08,0 C-5.54,-7.87 -3.43,-8.29 0,-8.29 A7.62,8.29 0 1 1 0,8.29 C-3.43,8.29 -5.54,7.87 -10.08,0 Z" fill="#a8b4ec"/>
<path transform="translate(184.8,431.8) rotate(-15)" d="M-9.00,0 C-4.95,-7.03 -3.06,-7.40 0,-7.40 A6.80,7.40 0 1 1 0,7.40 C-3.06,7.40 -4.95,7.03 -9.00,0 Z" fill="#24358c"/>
<path transform="translate(184.8,431.8) rotate(-15)" d="M-7.83,0 C-4.31,-6.12 -2.66,-6.44 0,-6.44 A5.92,6.44 0 1 1 0,6.44 C-2.66,6.44 -4.31,6.12 -7.83,0 Z" fill="#5a86cc"/>
<path transform="translate(184.8,431.8) rotate(-15)" d="M-6.48,0 C-3.56,-5.06 -2.20,-5.33 0,-5.33 A4.90,5.33 0 1 1 0,5.33 C-2.20,5.33 -3.56,5.06 -6.48,0 Z" fill="#5cb4c8"/>
<path transform="translate(184.8,431.8) rotate(-15)" d="M-5.13,0 C-2.82,-4.01 -1.74,-4.22 0,-4.22 A3.88,4.22 0 1 1 0,4.22 C-1.74,4.22 -2.82,4.01 -5.13,0 Z" fill="#84be50"/>
<path transform="translate(184.8,431.8) rotate(-15)" d="M-3.78,0 C-2.08,-2.95 -1.29,-3.11 0,-3.11 A2.86,3.11 0 1 1 0,3.11 C-1.29,3.11 -2.08,2.95 -3.78,0 Z" fill="#e6c830"/>
<path transform="translate(184.8,431.8) rotate(-15)" d="M-2.34,0 C-1.29,-1.83 -0.80,-1.92 0,-1.92 A1.77,1.92 0 1 1 0,1.92 C-0.80,1.92 -1.29,1.83 -2.34,0 Z" fill="#e88020"/>
<path transform="translate(184.8,431.8) rotate(-15)" d="M-0.99,0 C-0.54,-0.77 -0.34,-0.81 0,-0.81 A0.75,0.81 0 1 1 0,0.81 C-0.34,0.81 -0.54,0.77 -0.99,0 Z" fill="#d04818"/>
<circle cx="84.1" cy="527.7" r="0.55" fill="#c8d0f0"/><circle cx="69.7" cy="535.6" r="0.55" fill="#d8d8e0"/><circle cx="86.1" cy="541.4" r="0.55" fill="#b8c0e8"/><circle cx="77.4" cy="542.3" r="0.55" fill="#b8c0e8"/><circle cx="97.9" cy="522.4" r="0.55" fill="#c0c8e0"/><circle cx="109.5" cy="529.0" r="0.55" fill="#c8d0f0"/><circle cx="72.4" cy="520.9" r="0.55" fill="#b8c0e8"/><circle cx="100.3" cy="528.0" r="0.55" fill="#b8c0e8"/><circle cx="71.7" cy="538.6" r="0.55" fill="#b8c0e8"/><circle cx="100.2" cy="541.7" r="0.55" fill="#c0c8e0"/><circle cx="74.6" cy="539.0" r="0.55" fill="#c8d0f0"/><circle cx="81.4" cy="541.3" r="0.55" fill="#c0c8e0"/><circle cx="67.2" cy="524.2" r="0.55" fill="#b8c0e8"/><circle cx="99.7" cy="523.1" r="0.55" fill="#c8d0f0"/><circle cx="77.2" cy="541.2" r="0.55" fill="#c8d0f0"/><circle cx="88.1" cy="518.5" r="0.55" fill="#b8c0e8"/><circle cx="89.8" cy="532.0" r="0.55" fill="#c8d0f0"/><circle cx="81.8" cy="528.4" r="0.55" fill="#b8c0e8"/><circle cx="96.4" cy="521.8" r="0.55" fill="#b8c0e8"/><circle cx="62.8" cy="532.4" r="0.55" fill="#c8d0f0"/><circle cx="98.7" cy="537.2" r="0.55" fill="#b8c0e8"/><circle cx="66.3" cy="536.3" r="0.55" fill="#c8d0f0"/><circle cx="68.4" cy="531.1" r="0.55" fill="#d8d8e0"/><circle cx="104.0" cy="531.6" r="0.55" fill="#b8c0e8"/><circle cx="105.8" cy="527.5" r="0.55" fill="#c8d0f0"/><circle cx="80.9" cy="543.6" r="0.55" fill="#b8c0e8"/><circle cx="79.7" cy="533.8" r="0.55" fill="#b8c0e8"/><circle cx="82.5" cy="523.5" r="0.55" fill="#c0c8e0"/><circle cx="74.0" cy="539.2" r="0.55" fill="#d8d8e0"/><circle cx="92.7" cy="520.7" r="0.55" fill="#b8c0e8"/><circle cx="102.0" cy="530.9" r="0.55" fill="#c8d0f0"/><circle cx="89.4" cy="519.7" r="0.55" fill="#c8d0f0"/><circle cx="65.0" cy="537.8" r="0.55" fill="#d8d8e0"/><circle cx="109.7" cy="532.6" r="0.55" fill="#c8d0f0"/><circle cx="94.7" cy="522.4" r="0.55" fill="#d8d8e0"/><circle cx="102.1" cy="524.8" r="0.55" fill="#c8d0f0"/><circle cx="111.3" cy="533.8" r="0.55" fill="#b8c0e8"/><circle cx="62.5" cy="529.7" r="0.55" fill="#c0c8e0"/><circle cx="101.5" cy="525.4" r="0.55" fill="#c0c8e0"/><circle cx="89.2" cy="521.6" r="0.55" fill="#b8c0e8"/><circle cx="98.9" cy="525.7" r="0.55" fill="#b8c0e8"/><circle cx="63.4" cy="529.7" r="0.55" fill="#c0c8e0"/><circle cx="90.6" cy="538.9" r="0.55" fill="#d8d8e0"/><circle cx="100.1" cy="540.9" r="0.55" fill="#c0c8e0"/><circle cx="78.1" cy="542.0" r="0.55" fill="#d8d8e0"/><circle cx="87.5" cy="522.5" r="0.55" fill="#b8c0e8"/><circle cx="68.4" cy="538.5" r="0.55" fill="#b8c0e8"/><circle cx="70.6" cy="530.3" r="0.55" fill="#c0c8e0"/><circle cx="64.3" cy="532.3" r="0.55" fill="#d8d8e0"/><circle cx="87.8" cy="542.5" r="0.55" fill="#b8c0e8"/><circle cx="90.2" cy="533.2" r="0.55" fill="#c0c8e0"/><circle cx="88.3" cy="531.6" r="0.55" fill="#b8c0e8"/><circle cx="105.6" cy="532.9" r="0.55" fill="#d8d8e0"/><circle cx="85.6" cy="519.6" r="0.55" fill="#b8c0e8"/><circle cx="72.7" cy="529.9" r="0.55" fill="#d8d8e0"/><circle cx="102.8" cy="537.0" r="0.55" fill="#c0c8e0"/><circle cx="91.0" cy="533.9" r="0.55" fill="#c0c8e0"/><circle cx="81.1" cy="519.8" r="0.55" fill="#c8d0f0"/><circle cx="92.5" cy="532.2" r="0.55" fill="#c0c8e0"/><circle cx="77.4" cy="538.4" r="0.55" fill="#b8c0e8"/><circle cx="84.1" cy="529.7" r="0.55" fill="#c8d0f0"/><circle cx="78.1" cy="524.0" r="0.55" fill="#c8d0f0"/><circle cx="70.0" cy="523.8" r="0.55" fill="#b8c0e8"/><circle cx="93.6" cy="520.1" r="0.55" fill="#b8c0e8"/><circle cx="98.5" cy="530.2" r="0.55" fill="#c8d0f0"/><circle cx="79.2" cy="534.5" r="0.55" fill="#c8d0f0"/><circle cx="73.2" cy="533.9" r="0.55" fill="#b8c0e8"/><circle cx="87.0" cy="528.8" r="0.55" fill="#d8d8e0"/><circle cx="84.7" cy="526.2" r="0.55" fill="#c8d0f0"/><circle cx="93.2" cy="535.7" r="0.55" fill="#c8d0f0"/><circle cx="75.6" cy="538.8" r="0.55" fill="#d8d8e0"/><circle cx="100.9" cy="541.4" r="0.55" fill="#b8c0e8"/><circle cx="76.5" cy="524.4" r="0.55" fill="#d8d8e0"/><circle cx="85.6" cy="527.0" r="0.55" fill="#c0c8e0"/><circle cx="82.4" cy="520.0" r="0.55" fill="#d8d8e0"/><circle cx="84.0" cy="533.9" r="0.55" fill="#c0c8e0"/><circle cx="82.9" cy="522.8" r="0.55" fill="#c0c8e0"/><circle cx="71.0" cy="527.5" r="0.55" fill="#c8d0f0"/><circle cx="91.2" cy="542.5" r="0.55" fill="#c0c8e0"/><circle cx="71.0" cy="532.1" r="0.55" fill="#d8d8e0"/><circle cx="63.9" cy="535.4" r="0.55" fill="#c0c8e0"/><circle cx="84.5" cy="540.5" r="0.55" fill="#d8d8e0"/><circle cx="99.7" cy="538.8" r="0.55" fill="#b8c0e8"/><circle cx="84.1" cy="518.1" r="0.55" fill="#c8d0f0"/><circle cx="67.8" cy="522.2" r="0.55" fill="#b8c0e8"/><circle cx="86.5" cy="538.5" r="0.55" fill="#c0c8e0"/><circle cx="93.8" cy="528.3" r="0.55" fill="#c8d0f0"/><circle cx="86.5" cy="527.3" r="0.55" fill="#d8d8e0"/><circle cx="89.5" cy="538.8" r="0.55" fill="#c8d0f0"/><circle cx="89.7" cy="518.2" r="0.55" fill="#b8c0e8"/><circle cx="74.5" cy="531.6" r="0.55" fill="#c0c8e0"/><circle cx="107.2" cy="537.6" r="0.55" fill="#d8d8e0"/><circle cx="74.8" cy="531.4" r="0.55" fill="#c0c8e0"/><circle cx="95.3" cy="524.0" r="0.55" fill="#d8d8e0"/><circle cx="67.6" cy="535.6" r="0.55" fill="#b8c0e8"/><circle cx="88.4" cy="542.2" r="0.55" fill="#b8c0e8"/><circle cx="90.1" cy="532.0" r="0.55" fill="#b8c0e8"/><circle cx="83.6" cy="526.9" r="0.55" fill="#c8d0f0"/><circle cx="106.9" cy="523.6" r="0.55" fill="#c8d0f0"/><circle cx="103.6" cy="532.8" r="0.55" fill="#b8c0e8"/><circle cx="108.7" cy="536.6" r="0.55" fill="#c0c8e0"/><circle cx="79.3" cy="527.7" r="0.55" fill="#c0c8e0"/><circle cx="106.1" cy="529.4" r="0.55" fill="#c8d0f0"/><circle cx="88.9" cy="541.9" r="0.55" fill="#b8c0e8"/><circle cx="106.3" cy="524.8" r="0.55" fill="#c8d0f0"/><circle cx="69.7" cy="531.8" r="0.55" fill="#d8d8e0"/><circle cx="104.4" cy="533.1" r="0.55" fill="#c8d0f0"/><circle cx="94.2" cy="526.8" r="0.55" fill="#c8d0f0"/><circle cx="77.2" cy="528.3" r="0.55" fill="#b8c0e8"/><circle cx="81.1" cy="538.3" r="0.55" fill="#c0c8e0"/>
<path d="M71.5,531.5 C71.5,529 75,528.6 78,529.6 C80.5,530.4 82,528.8 85,528.8 C88,528.8 90,530.6 96,531.4 C90,532.3 88,534.2 85,534.2 C82,534.2 80.5,532.5 78,533.3 C75,534.3 71.5,534 71.5,531.5 Z" fill="none" stroke="#5a5a6a" stroke-width="0.9"/>
<path transform="translate(102.7,531.5) rotate(0)" d="M-9.52,0 C-5.24,-7.45 -3.28,-7.84 0,-7.84 A7.28,7.84 0 1 1 0,7.84 C-3.28,7.84 -5.24,7.45 -9.52,0 Z" fill="#a8b4ec"/>
<path transform="translate(102.7,531.5) rotate(0)" d="M-8.50,0 C-4.68,-6.65 -2.93,-7.00 0,-7.00 A6.50,7.00 0 1 1 0,7.00 C-2.93,7.00 -4.68,6.65 -8.50,0 Z" fill="#24358c"/>
<path transform="translate(102.7,531.5) rotate(0)" d="M-7.39,0 C-4.07,-5.79 -2.54,-6.09 0,-6.09 A5.66,6.09 0 1 1 0,6.09 C-2.54,6.09 -4.07,5.79 -7.39,0 Z" fill="#5a86cc"/>
<path transform="translate(102.7,531.5) rotate(0)" d="M-6.12,0 C-3.37,-4.79 -2.11,-5.04 0,-5.04 A4.68,5.04 0 1 1 0,5.04 C-2.11,5.04 -3.37,4.79 -6.12,0 Z" fill="#5cb4c8"/>
<path transform="translate(102.7,531.5) rotate(0)" d="M-4.84,0 C-2.66,-3.79 -1.67,-3.99 0,-3.99 A3.70,3.99 0 1 1 0,3.99 C-1.67,3.99 -2.66,3.79 -4.84,0 Z" fill="#84be50"/>
<path transform="translate(102.7,531.5) rotate(0)" d="M-3.57,0 C-1.96,-2.79 -1.23,-2.94 0,-2.94 A2.73,2.94 0 1 1 0,2.94 C-1.23,2.94 -1.96,2.79 -3.57,0 Z" fill="#e6c830"/>
<path transform="translate(102.7,531.5) rotate(0)" d="M-2.21,0 C-1.22,-1.73 -0.76,-1.82 0,-1.82 A1.69,1.82 0 1 1 0,1.82 C-0.76,1.82 -1.22,1.73 -2.21,0 Z" fill="#e88020"/>
<path transform="translate(102.7,531.5) rotate(0)" d="M-0.94,0 C-0.51,-0.73 -0.32,-0.77 0,-0.77 A0.71,0.77 0 1 1 0,0.77 C-0.32,0.77 -0.51,0.73 -0.94,0 Z" fill="#d04818"/>
<circle cx="175.7" cy="529.2" r="0.55" fill="#b8c0e8"/><circle cx="156.7" cy="539.1" r="0.55" fill="#d8d8e0"/><circle cx="180.0" cy="522.2" r="0.55" fill="#c0c8e0"/><circle cx="163.0" cy="524.5" r="0.55" fill="#d8d8e0"/><circle cx="177.4" cy="527.9" r="0.55" fill="#d8d8e0"/><circle cx="189.0" cy="524.8" r="0.55" fill="#c8d0f0"/><circle cx="181.7" cy="535.2" r="0.55" fill="#c8d0f0"/><circle cx="169.8" cy="540.4" r="0.55" fill="#c8d0f0"/><circle cx="196.4" cy="533.9" r="0.55" fill="#b8c0e8"/><circle cx="176.3" cy="524.1" r="0.55" fill="#c8d0f0"/><circle cx="194.9" cy="525.9" r="0.55" fill="#d8d8e0"/><circle cx="186.1" cy="524.2" r="0.55" fill="#c0c8e0"/><circle cx="168.7" cy="519.7" r="0.55" fill="#d8d8e0"/><circle cx="189.9" cy="522.1" r="0.55" fill="#c8d0f0"/><circle cx="177.5" cy="519.9" r="0.55" fill="#b8c0e8"/><circle cx="153.8" cy="532.7" r="0.55" fill="#d8d8e0"/><circle cx="169.0" cy="543.5" r="0.55" fill="#c8d0f0"/><circle cx="195.3" cy="529.3" r="0.55" fill="#c0c8e0"/><circle cx="169.2" cy="535.7" r="0.55" fill="#c8d0f0"/><circle cx="178.1" cy="522.6" r="0.55" fill="#b8c0e8"/><circle cx="159.9" cy="525.9" r="0.55" fill="#c8d0f0"/><circle cx="186.4" cy="530.5" r="0.55" fill="#d8d8e0"/><circle cx="163.1" cy="523.8" r="0.55" fill="#b8c0e8"/><circle cx="163.2" cy="526.3" r="0.55" fill="#b8c0e8"/><circle cx="159.6" cy="528.5" r="0.55" fill="#c8d0f0"/><circle cx="166.3" cy="540.6" r="0.55" fill="#c8d0f0"/><circle cx="160.1" cy="530.5" r="0.55" fill="#c0c8e0"/><circle cx="149.3" cy="530.7" r="0.55" fill="#c0c8e0"/><circle cx="174.1" cy="527.1" r="0.55" fill="#c0c8e0"/><circle cx="171.5" cy="522.3" r="0.55" fill="#c0c8e0"/><circle cx="189.1" cy="540.7" r="0.55" fill="#c0c8e0"/><circle cx="173.8" cy="519.3" r="0.55" fill="#b8c0e8"/><circle cx="153.9" cy="533.8" r="0.55" fill="#c0c8e0"/><circle cx="163.8" cy="524.7" r="0.55" fill="#c0c8e0"/><circle cx="168.0" cy="534.9" r="0.55" fill="#c8d0f0"/><circle cx="184.5" cy="526.4" r="0.55" fill="#b8c0e8"/><circle cx="181.7" cy="534.7" r="0.55" fill="#c0c8e0"/><circle cx="161.4" cy="540.1" r="0.55" fill="#c8d0f0"/><circle cx="183.3" cy="541.1" r="0.55" fill="#b8c0e8"/><circle cx="177.1" cy="532.3" r="0.55" fill="#b8c0e8"/><circle cx="180.8" cy="521.7" r="0.55" fill="#c0c8e0"/><circle cx="164.2" cy="520.1" r="0.55" fill="#c8d0f0"/><circle cx="168.2" cy="543.6" r="0.55" fill="#d8d8e0"/><circle cx="192.2" cy="530.1" r="0.55" fill="#c0c8e0"/><circle cx="169.3" cy="537.3" r="0.55" fill="#c8d0f0"/><circle cx="159.8" cy="527.5" r="0.55" fill="#b8c0e8"/><circle cx="156.9" cy="533.9" r="0.55" fill="#c0c8e0"/><circle cx="191.3" cy="535.0" r="0.55" fill="#b8c0e8"/><circle cx="186.2" cy="538.7" r="0.55" fill="#b8c0e8"/><circle cx="164.1" cy="527.4" r="0.55" fill="#c0c8e0"/><circle cx="185.5" cy="534.3" r="0.55" fill="#d8d8e0"/><circle cx="170.3" cy="525.6" r="0.55" fill="#c0c8e0"/><circle cx="172.4" cy="524.9" r="0.55" fill="#c0c8e0"/><circle cx="179.3" cy="527.1" r="0.55" fill="#d8d8e0"/><circle cx="171.1" cy="529.6" r="0.55" fill="#c0c8e0"/><circle cx="176.5" cy="520.2" r="0.55" fill="#d8d8e0"/><circle cx="187.7" cy="528.5" r="0.55" fill="#c8d0f0"/><circle cx="183.5" cy="519.7" r="0.55" fill="#d8d8e0"/><circle cx="162.7" cy="537.3" r="0.55" fill="#d8d8e0"/><circle cx="160.7" cy="522.8" r="0.55" fill="#c8d0f0"/><circle cx="162.0" cy="532.5" r="0.55" fill="#b8c0e8"/><circle cx="157.4" cy="537.4" r="0.55" fill="#c0c8e0"/><circle cx="156.0" cy="532.9" r="0.55" fill="#c0c8e0"/><circle cx="176.9" cy="528.2" r="0.55" fill="#d8d8e0"/><circle cx="190.1" cy="532.9" r="0.55" fill="#d8d8e0"/><circle cx="191.3" cy="535.1" r="0.55" fill="#b8c0e8"/><circle cx="147.9" cy="527.5" r="0.55" fill="#c0c8e0"/><circle cx="162.9" cy="534.6" r="0.55" fill="#c8d0f0"/><circle cx="152.1" cy="538.5" r="0.55" fill="#d8d8e0"/><circle cx="193.9" cy="531.3" r="0.55" fill="#d8d8e0"/><circle cx="150.6" cy="529.4" r="0.55" fill="#d8d8e0"/><circle cx="169.1" cy="530.2" r="0.55" fill="#c0c8e0"/><circle cx="155.1" cy="539.4" r="0.55" fill="#d8d8e0"/><circle cx="195.7" cy="531.3" r="0.55" fill="#c0c8e0"/><circle cx="156.1" cy="529.3" r="0.55" fill="#c8d0f0"/><circle cx="179.3" cy="522.9" r="0.55" fill="#c0c8e0"/><circle cx="164.7" cy="527.8" r="0.55" fill="#b8c0e8"/><circle cx="177.5" cy="522.3" r="0.55" fill="#c8d0f0"/><circle cx="179.1" cy="527.4" r="0.55" fill="#c8d0f0"/><circle cx="161.7" cy="540.1" r="0.55" fill="#c0c8e0"/><circle cx="177.1" cy="529.1" r="0.55" fill="#d8d8e0"/><circle cx="185.5" cy="530.8" r="0.55" fill="#c8d0f0"/><circle cx="167.1" cy="537.6" r="0.55" fill="#c0c8e0"/><circle cx="194.9" cy="526.5" r="0.55" fill="#b8c0e8"/><circle cx="176.2" cy="528.9" r="0.55" fill="#c0c8e0"/><circle cx="196.4" cy="528.3" r="0.55" fill="#b8c0e8"/><circle cx="158.2" cy="529.0" r="0.55" fill="#d8d8e0"/><circle cx="183.6" cy="531.9" r="0.55" fill="#b8c0e8"/><circle cx="164.0" cy="541.6" r="0.55" fill="#c0c8e0"/><circle cx="177.6" cy="531.8" r="0.55" fill="#b8c0e8"/><circle cx="180.6" cy="543.1" r="0.55" fill="#c0c8e0"/><circle cx="182.1" cy="520.5" r="0.55" fill="#c0c8e0"/><circle cx="176.3" cy="525.5" r="0.55" fill="#b8c0e8"/><circle cx="190.8" cy="531.8" r="0.55" fill="#b8c0e8"/><circle cx="166.8" cy="518.8" r="0.55" fill="#c0c8e0"/><circle cx="163.6" cy="541.9" r="0.55" fill="#b8c0e8"/><circle cx="164.6" cy="534.3" r="0.55" fill="#c8d0f0"/><circle cx="193.1" cy="528.0" r="0.55" fill="#c0c8e0"/><circle cx="191.4" cy="537.8" r="0.55" fill="#c8d0f0"/><circle cx="166.0" cy="518.4" r="0.55" fill="#c0c8e0"/><circle cx="184.4" cy="522.8" r="0.55" fill="#c0c8e0"/><circle cx="192.9" cy="532.3" r="0.55" fill="#b8c0e8"/><circle cx="182.5" cy="533.0" r="0.55" fill="#c0c8e0"/><circle cx="163.5" cy="518.9" r="0.55" fill="#c0c8e0"/><circle cx="171.4" cy="536.4" r="0.55" fill="#d8d8e0"/><circle cx="180.6" cy="521.6" r="0.55" fill="#d8d8e0"/><circle cx="155.2" cy="530.0" r="0.55" fill="#c8d0f0"/><circle cx="160.5" cy="541.7" r="0.55" fill="#d8d8e0"/><circle cx="152.3" cy="536.3" r="0.55" fill="#d8d8e0"/><circle cx="188.1" cy="533.0" r="0.55" fill="#c0c8e0"/>
<path d="M160,530 C160,527.3 164,526.8 168,527.8 C172,528.8 175,529.3 180,530.5 C175,531.6 172,533.6 168,533.9 C164,534.1 160,533 160,530 Z" fill="none" stroke="#5a5a7a" stroke-width="0.9"/>
<path d="M164,530.5 C166,529.5 170,530 174,531" fill="none" stroke="#8a8aa8" stroke-width="0.8"/>
<path transform="translate(186.1,530.6) rotate(-25)" d="M-9.52,0 C-5.24,-8.72 -3.23,-9.18 0,-9.18 A7.17,9.18 0 1 1 0,9.18 C-3.23,9.18 -5.24,8.72 -9.52,0 Z" fill="#a8b4ec"/>
<path transform="translate(186.1,530.6) rotate(-25)" d="M-8.50,0 C-4.68,-7.79 -2.88,-8.20 0,-8.20 A6.40,8.20 0 1 1 0,8.20 C-2.88,8.20 -4.68,7.79 -8.50,0 Z" fill="#24358c"/>
<path transform="translate(186.1,530.6) rotate(-25)" d="M-7.39,0 C-4.07,-6.78 -2.51,-7.13 0,-7.13 A5.57,7.13 0 1 1 0,7.13 C-2.51,7.13 -4.07,6.78 -7.39,0 Z" fill="#5a86cc"/>
<path transform="translate(186.1,530.6) rotate(-25)" d="M-6.12,0 C-3.37,-5.61 -2.07,-5.90 0,-5.90 A4.61,5.90 0 1 1 0,5.90 C-2.07,5.90 -3.37,5.61 -6.12,0 Z" fill="#5cb4c8"/>
<path transform="translate(186.1,530.6) rotate(-25)" d="M-4.84,0 C-2.66,-4.44 -1.64,-4.67 0,-4.67 A3.65,4.67 0 1 1 0,4.67 C-1.64,4.67 -2.66,4.44 -4.84,0 Z" fill="#84be50"/>
<path transform="translate(186.1,530.6) rotate(-25)" d="M-3.57,0 C-1.96,-3.27 -1.21,-3.44 0,-3.44 A2.69,3.44 0 1 1 0,3.44 C-1.21,3.44 -1.96,3.27 -3.57,0 Z" fill="#e6c830"/>
<path transform="translate(186.1,530.6) rotate(-25)" d="M-2.21,0 C-1.22,-2.03 -0.75,-2.13 0,-2.13 A1.66,2.13 0 1 1 0,2.13 C-0.75,2.13 -1.22,2.03 -2.21,0 Z" fill="#e88020"/>
<path transform="translate(186.1,530.6) rotate(-25)" d="M-0.94,0 C-0.51,-0.86 -0.32,-0.90 0,-0.90 A0.70,0.90 0 1 1 0,0.90 C-0.32,0.90 -0.51,0.86 -0.94,0 Z" fill="#d04818"/>
<circle cx="76.6" cy="785.7" r="0.5" fill="#b4b8d0"/><circle cx="66.9" cy="788.8" r="0.5" fill="#a0a8d0"/><circle cx="102.2" cy="796.5" r="0.5" fill="#a8a8b8"/><circle cx="87.7" cy="773.7" r="0.5" fill="#b4b8d0"/><circle cx="92.8" cy="786.2" r="0.5" fill="#a8a8b8"/><circle cx="81.6" cy="764.9" r="0.5" fill="#b4b8d0"/><circle cx="116.3" cy="775.2" r="0.5" fill="#8088b8"/><circle cx="82.7" cy="763.0" r="0.5" fill="#8088b8"/><circle cx="98.7" cy="781.6" r="0.5" fill="#a0a8d0"/><circle cx="73.9" cy="764.8" r="0.5" fill="#9a9ab0"/><circle cx="68.2" cy="790.5" r="0.5" fill="#8088b8"/><circle cx="96.3" cy="792.5" r="0.5" fill="#8c94c4"/><circle cx="86.3" cy="765.9" r="0.5" fill="#9a9ab0"/><circle cx="79.2" cy="790.5" r="0.5" fill="#8c94c4"/><circle cx="91.6" cy="767.4" r="0.5" fill="#a0a8d0"/><circle cx="91.3" cy="779.7" r="0.5" fill="#8088b8"/><circle cx="96.5" cy="764.9" r="0.5" fill="#9a9ab0"/><circle cx="66.4" cy="804.7" r="0.5" fill="#a8a8b8"/><circle cx="105.3" cy="780.0" r="0.5" fill="#8c94c4"/><circle cx="90.3" cy="783.5" r="0.5" fill="#a8a8b8"/><circle cx="102.2" cy="801.3" r="0.5" fill="#9a9ab0"/><circle cx="106.5" cy="787.0" r="0.5" fill="#b4b8d0"/><circle cx="95.4" cy="772.5" r="0.5" fill="#a0a8d0"/><circle cx="94.4" cy="777.9" r="0.5" fill="#b4b8d0"/><circle cx="97.7" cy="771.0" r="0.5" fill="#8088b8"/><circle cx="101.8" cy="796.6" r="0.5" fill="#a8a8b8"/><circle cx="96.9" cy="764.5" r="0.5" fill="#b4b8d0"/><circle cx="106.7" cy="790.5" r="0.5" fill="#a0a8d0"/><circle cx="125.0" cy="780.1" r="0.5" fill="#8088b8"/><circle cx="84.6" cy="809.4" r="0.5" fill="#a0a8d0"/><circle cx="79.2" cy="768.2" r="0.5" fill="#8c94c4"/><circle cx="105.4" cy="779.3" r="0.5" fill="#9a9ab0"/><circle cx="115.6" cy="781.2" r="0.5" fill="#9a9ab0"/><circle cx="90.6" cy="783.9" r="0.5" fill="#a0a8d0"/><circle cx="85.3" cy="774.4" r="0.5" fill="#8088b8"/><circle cx="80.8" cy="795.4" r="0.5" fill="#a0a8d0"/><circle cx="111.7" cy="775.6" r="0.5" fill="#8088b8"/><circle cx="104.7" cy="791.2" r="0.5" fill="#a8a8b8"/><circle cx="113.6" cy="807.0" r="0.5" fill="#8088b8"/><circle cx="95.0" cy="789.7" r="0.5" fill="#a8a8b8"/><circle cx="81.9" cy="766.2" r="0.5" fill="#a8a8b8"/><circle cx="124.5" cy="770.4" r="0.5" fill="#8088b8"/><circle cx="99.1" cy="782.2" r="0.5" fill="#8c94c4"/><circle cx="132.3" cy="789.3" r="0.5" fill="#a0a8d0"/><circle cx="94.0" cy="765.1" r="0.5" fill="#b4b8d0"/><circle cx="104.0" cy="761.9" r="0.5" fill="#9a9ab0"/><circle cx="102.7" cy="778.9" r="0.5" fill="#b4b8d0"/><circle cx="67.7" cy="769.3" r="0.5" fill="#8088b8"/><circle cx="104.3" cy="784.7" r="0.5" fill="#a0a8d0"/><circle cx="95.0" cy="774.3" r="0.5" fill="#b4b8d0"/><circle cx="90.0" cy="781.8" r="0.5" fill="#a0a8d0"/><circle cx="91.3" cy="798.1" r="0.5" fill="#a0a8d0"/><circle cx="101.9" cy="784.5" r="0.5" fill="#b4b8d0"/><circle cx="116.8" cy="777.3" r="0.5" fill="#a8a8b8"/><circle cx="66.3" cy="761.8" r="0.5" fill="#b4b8d0"/><circle cx="114.7" cy="767.5" r="0.5" fill="#8c94c4"/><circle cx="116.1" cy="782.8" r="0.5" fill="#b4b8d0"/><circle cx="106.8" cy="785.3" r="0.5" fill="#a0a8d0"/><circle cx="100.9" cy="780.0" r="0.5" fill="#8088b8"/><circle cx="91.9" cy="783.3" r="0.5" fill="#a8a8b8"/><circle cx="94.4" cy="772.1" r="0.5" fill="#9a9ab0"/><circle cx="81.4" cy="798.3" r="0.5" fill="#8c94c4"/><circle cx="105.7" cy="768.7" r="0.5" fill="#8c94c4"/><circle cx="107.8" cy="765.2" r="0.5" fill="#8088b8"/><circle cx="87.3" cy="767.5" r="0.5" fill="#8c94c4"/><circle cx="90.2" cy="776.1" r="0.5" fill="#a8a8b8"/><circle cx="103.6" cy="787.7" r="0.5" fill="#b4b8d0"/><circle cx="93.0" cy="765.3" r="0.5" fill="#a8a8b8"/><circle cx="89.3" cy="764.4" r="0.5" fill="#b4b8d0"/><circle cx="98.3" cy="774.7" r="0.5" fill="#8088b8"/><circle cx="115.0" cy="783.8" r="0.5" fill="#b4b8d0"/><circle cx="132.3" cy="785.3" r="0.5" fill="#8c94c4"/><circle cx="74.3" cy="780.4" r="0.5" fill="#b4b8d0"/><circle cx="94.9" cy="782.3" r="0.5" fill="#9a9ab0"/><circle cx="107.8" cy="796.2" r="0.5" fill="#8088b8"/><circle cx="110.8" cy="808.5" r="0.5" fill="#a8a8b8"/><circle cx="111.0" cy="772.5" r="0.5" fill="#a0a8d0"/><circle cx="84.7" cy="799.7" r="0.5" fill="#a0a8d0"/><circle cx="77.0" cy="759.8" r="0.5" fill="#a0a8d0"/><circle cx="105.8" cy="769.9" r="0.5" fill="#8088b8"/><circle cx="104.0" cy="775.1" r="0.5" fill="#a0a8d0"/><circle cx="66.4" cy="780.6" r="0.5" fill="#8c94c4"/><circle cx="86.1" cy="744.4" r="0.5" fill="#9a9ab0"/><circle cx="98.2" cy="773.4" r="0.5" fill="#b4b8d0"/><circle cx="93.4" cy="790.3" r="0.5" fill="#b4b8d0"/><circle cx="81.6" cy="792.2" r="0.5" fill="#a8a8b8"/><circle cx="83.6" cy="806.3" r="0.5" fill="#8088b8"/><circle cx="89.4" cy="781.7" r="0.5" fill="#8c94c4"/><circle cx="91.4" cy="800.2" r="0.5" fill="#a8a8b8"/><circle cx="90.0" cy="761.2" r="0.5" fill="#9a9ab0"/><circle cx="83.6" cy="764.4" r="0.5" fill="#a8a8b8"/><circle cx="105.9" cy="792.5" r="0.5" fill="#8c94c4"/><circle cx="96.4" cy="768.3" r="0.5" fill="#a0a8d0"/><circle cx="107.5" cy="738.7" r="0.5" fill="#8c94c4"/><circle cx="75.0" cy="787.0" r="0.5" fill="#a8a8b8"/><circle cx="85.8" cy="768.9" r="0.5" fill="#8c94c4"/><circle cx="91.0" cy="770.8" r="0.5" fill="#b4b8d0"/><circle cx="94.1" cy="803.7" r="0.5" fill="#b4b8d0"/><circle cx="91.0" cy="779.1" r="0.5" fill="#a0a8d0"/><circle cx="93.1" cy="793.7" r="0.5" fill="#a8a8b8"/><circle cx="111.7" cy="774.2" r="0.5" fill="#a0a8d0"/><circle cx="74.2" cy="796.5" r="0.5" fill="#a0a8d0"/><circle cx="124.7" cy="798.1" r="0.5" fill="#a8a8b8"/><circle cx="82.5" cy="790.6" r="0.5" fill="#a0a8d0"/><circle cx="71.8" cy="756.6" r="0.5" fill="#b4b8d0"/><circle cx="74.3" cy="773.3" r="0.5" fill="#8088b8"/><circle cx="105.4" cy="745.5" r="0.5" fill="#b4b8d0"/><circle cx="119.5" cy="797.5" r="0.5" fill="#a8a8b8"/><circle cx="101.8" cy="776.5" r="0.5" fill="#a0a8d0"/><circle cx="129.0" cy="755.3" r="0.5" fill="#9a9ab0"/><circle cx="69.2" cy="773.9" r="0.5" fill="#9a9ab0"/><circle cx="93.2" cy="803.8" r="0.5" fill="#8c94c4"/><circle cx="91.4" cy="785.1" r="0.5" fill="#b4b8d0"/><circle cx="86.4" cy="793.1" r="0.5" fill="#9a9ab0"/><circle cx="91.4" cy="780.3" r="0.5" fill="#8c94c4"/><circle cx="91.4" cy="781.7" r="0.5" fill="#8088b8"/><circle cx="81.6" cy="802.7" r="0.5" fill="#a0a8d0"/><circle cx="109.7" cy="769.4" r="0.5" fill="#a8a8b8"/><circle cx="81.5" cy="746.4" r="0.5" fill="#b4b8d0"/><circle cx="74.8" cy="769.1" r="0.5" fill="#a0a8d0"/><circle cx="77.2" cy="787.1" r="0.5" fill="#a8a8b8"/><circle cx="86.7" cy="776.6" r="0.5" fill="#8088b8"/><circle cx="105.7" cy="764.0" r="0.5" fill="#9a9ab0"/><circle cx="77.3" cy="747.1" r="0.5" fill="#8088b8"/><circle cx="102.6" cy="808.3" r="0.5" fill="#8088b8"/><circle cx="75.7" cy="777.0" r="0.5" fill="#a0a8d0"/><circle cx="88.7" cy="783.9" r="0.5" fill="#8c94c4"/><circle cx="92.2" cy="777.8" r="0.5" fill="#8c94c4"/><circle cx="79.9" cy="778.5" r="0.5" fill="#8088b8"/><circle cx="99.8" cy="784.6" r="0.5" fill="#a0a8d0"/><circle cx="112.1" cy="787.5" r="0.5" fill="#b4b8d0"/><circle cx="118.7" cy="767.1" r="0.5" fill="#b4b8d0"/><circle cx="93.0" cy="796.9" r="0.5" fill="#a0a8d0"/><circle cx="77.8" cy="807.3" r="0.5" fill="#b4b8d0"/><circle cx="87.9" cy="778.9" r="0.5" fill="#b4b8d0"/><circle cx="69.8" cy="756.9" r="0.5" fill="#a0a8d0"/><circle cx="82.8" cy="740.6" r="0.5" fill="#8c94c4"/><circle cx="98.7" cy="790.1" r="0.5" fill="#a8a8b8"/><circle cx="89.9" cy="803.5" r="0.5" fill="#a0a8d0"/><circle cx="89.8" cy="775.2" r="0.5" fill="#a8a8b8"/><circle cx="69.5" cy="765.5" r="0.5" fill="#8088b8"/><circle cx="95.0" cy="790.0" r="0.5" fill="#8088b8"/><circle cx="97.4" cy="777.8" r="0.5" fill="#a8a8b8"/><circle cx="79.2" cy="789.5" r="0.5" fill="#a0a8d0"/><circle cx="65.9" cy="772.9" r="0.5" fill="#8088b8"/><circle cx="83.1" cy="765.9" r="0.5" fill="#8088b8"/><circle cx="72.4" cy="760.9" r="0.5" fill="#a0a8d0"/><circle cx="113.1" cy="769.2" r="0.5" fill="#9a9ab0"/><circle cx="105.7" cy="772.5" r="0.5" fill="#9a9ab0"/><circle cx="102.6" cy="773.7" r="0.5" fill="#a0a8d0"/><circle cx="101.1" cy="774.8" r="0.5" fill="#a0a8d0"/><circle cx="99.3" cy="784.8" r="0.5" fill="#b4b8d0"/><circle cx="118.2" cy="796.2" r="0.5" fill="#b4b8d0"/><circle cx="72.4" cy="773.7" r="0.5" fill="#a0a8d0"/><circle cx="76.3" cy="793.1" r="0.5" fill="#8c94c4"/><circle cx="111.0" cy="791.1" r="0.5" fill="#9a9ab0"/><circle cx="128.5" cy="759.2" r="0.5" fill="#8c94c4"/><circle cx="89.0" cy="759.6" r="0.5" fill="#9a9ab0"/><circle cx="72.2" cy="779.6" r="0.5" fill="#a0a8d0"/><circle cx="100.6" cy="763.7" r="0.5" fill="#8c94c4"/><circle cx="113.5" cy="784.4" r="0.5" fill="#8088b8"/><circle cx="109.2" cy="770.3" r="0.5" fill="#a0a8d0"/><circle cx="99.1" cy="789.3" r="0.5" fill="#a0a8d0"/><circle cx="129.2" cy="777.9" r="0.5" fill="#8c94c4"/><circle cx="87.9" cy="776.1" r="0.5" fill="#a8a8b8"/><circle cx="70.2" cy="786.0" r="0.5" fill="#9a9ab0"/><circle cx="82.8" cy="790.0" r="0.5" fill="#9a9ab0"/><circle cx="76.6" cy="788.6" r="0.5" fill="#8c94c4"/><circle cx="92.1" cy="776.8" r="0.5" fill="#a0a8d0"/><circle cx="101.9" cy="795.0" r="0.5" fill="#a8a8b8"/><circle cx="71.8" cy="804.7" r="0.5" fill="#8088b8"/><circle cx="104.1" cy="795.5" r="0.5" fill="#8c94c4"/><circle cx="92.2" cy="785.7" r="0.5" fill="#a8a8b8"/><circle cx="118.3" cy="756.9" r="0.5" fill="#b4b8d0"/><circle cx="86.2" cy="775.9" r="0.5" fill="#8088b8"/><circle cx="122.0" cy="777.1" r="0.5" fill="#9a9ab0"/><circle cx="93.6" cy="787.3" r="0.5" fill="#a8a8b8"/><circle cx="99.8" cy="752.9" r="0.5" fill="#b4b8d0"/><circle cx="104.0" cy="790.0" r="0.5" fill="#8088b8"/><circle cx="86.3" cy="755.9" r="0.5" fill="#a0a8d0"/><circle cx="75.1" cy="793.4" r="0.5" fill="#8c94c4"/><circle cx="98.7" cy="767.8" r="0.5" fill="#8c94c4"/><circle cx="109.0" cy="780.9" r="0.5" fill="#a8a8b8"/><circle cx="98.9" cy="777.3" r="0.5" fill="#9a9ab0"/><circle cx="115.9" cy="772.4" r="0.5" fill="#9a9ab0"/><circle cx="98.2" cy="795.0" r="0.5" fill="#a0a8d0"/><circle cx="80.4" cy="776.9" r="0.5" fill="#b4b8d0"/><circle cx="80.4" cy="761.8" r="0.5" fill="#b4b8d0"/><circle cx="98.2" cy="779.6" r="0.5" fill="#8088b8"/><circle cx="103.6" cy="786.9" r="0.5" fill="#b4b8d0"/><circle cx="91.1" cy="782.8" r="0.5" fill="#a0a8d0"/><circle cx="93.7" cy="778.2" r="0.5" fill="#9a9ab0"/><circle cx="94.8" cy="812.6" r="0.5" fill="#8088b8"/><circle cx="80.0" cy="776.1" r="0.5" fill="#8088b8"/><circle cx="77.3" cy="759.2" r="0.5" fill="#8c94c4"/><circle cx="73.8" cy="773.2" r="0.5" fill="#8c94c4"/><circle cx="68.2" cy="803.2" r="0.5" fill="#b4b8d0"/><circle cx="86.0" cy="781.6" r="0.5" fill="#b4b8d0"/><circle cx="75.5" cy="774.7" r="0.5" fill="#b4b8d0"/><circle cx="109.8" cy="774.7" r="0.5" fill="#8088b8"/><circle cx="84.6" cy="787.7" r="0.5" fill="#8088b8"/><circle cx="90.1" cy="801.3" r="0.5" fill="#8088b8"/><circle cx="115.0" cy="770.5" r="0.5" fill="#a8a8b8"/><circle cx="94.3" cy="782.4" r="0.5" fill="#a0a8d0"/><circle cx="76.8" cy="769.1" r="0.5" fill="#b4b8d0"/><circle cx="95.4" cy="765.1" r="0.5" fill="#9a9ab0"/><circle cx="95.0" cy="775.2" r="0.5" fill="#a8a8b8"/><circle cx="100.5" cy="778.0" r="0.5" fill="#a0a8d0"/><circle cx="79.6" cy="787.3" r="0.5" fill="#a0a8d0"/><circle cx="101.6" cy="781.9" r="0.5" fill="#a8a8b8"/><circle cx="102.1" cy="775.5" r="0.5" fill="#a0a8d0"/><circle cx="89.1" cy="775.5" r="0.5" fill="#8088b8"/><circle cx="88.5" cy="783.7" r="0.5" fill="#8c94c4"/><circle cx="89.6" cy="786.8" r="0.5" fill="#9a9ab0"/><circle cx="74.1" cy="787.8" r="0.5" fill="#b4b8d0"/><circle cx="77.7" cy="767.3" r="0.5" fill="#a8a8b8"/><circle cx="72.2" cy="792.6" r="0.5" fill="#8088b8"/><circle cx="98.2" cy="772.5" r="0.5" fill="#9a9ab0"/><circle cx="93.9" cy="769.0" r="0.5" fill="#8c94c4"/><circle cx="82.1" cy="779.8" r="0.5" fill="#8088b8"/><circle cx="85.0" cy="770.0" r="0.5" fill="#9a9ab0"/><circle cx="76.4" cy="764.7" r="0.5" fill="#a8a8b8"/><circle cx="77.2" cy="768.4" r="0.5" fill="#a0a8d0"/><circle cx="99.2" cy="790.5" r="0.5" fill="#a8a8b8"/><circle cx="121.6" cy="764.4" r="0.5" fill="#8c94c4"/><circle cx="93.6" cy="778.5" r="0.5" fill="#9a9ab0"/><circle cx="76.3" cy="789.5" r="0.5" fill="#8c94c4"/><circle cx="97.1" cy="791.9" r="0.5" fill="#8c94c4"/><circle cx="102.6" cy="775.4" r="0.5" fill="#a0a8d0"/><circle cx="85.1" cy="769.4" r="0.5" fill="#b4b8d0"/><circle cx="86.7" cy="790.8" r="0.5" fill="#b4b8d0"/><circle cx="94.1" cy="751.4" r="0.5" fill="#8c94c4"/><circle cx="100.3" cy="764.5" r="0.5" fill="#8088b8"/><circle cx="108.5" cy="758.1" r="0.5" fill="#b4b8d0"/><circle cx="84.7" cy="785.3" r="0.5" fill="#a0a8d0"/><circle cx="80.2" cy="796.0" r="0.5" fill="#8088b8"/><circle cx="86.4" cy="796.8" r="0.5" fill="#a8a8b8"/><circle cx="99.4" cy="771.5" r="0.5" fill="#a8a8b8"/><circle cx="90.4" cy="785.0" r="0.5" fill="#9a9ab0"/><circle cx="100.5" cy="783.0" r="0.5" fill="#8088b8"/><circle cx="69.9" cy="768.6" r="0.5" fill="#b4b8d0"/><circle cx="87.2" cy="804.7" r="0.5" fill="#8c94c4"/><circle cx="82.8" cy="810.6" r="0.5" fill="#8088b8"/><circle cx="106.1" cy="786.3" r="0.5" fill="#a8a8b8"/><circle cx="96.2" cy="766.7" r="0.5" fill="#a0a8d0"/><circle cx="99.3" cy="801.5" r="0.5" fill="#9a9ab0"/><circle cx="90.0" cy="785.6" r="0.5" fill="#a8a8b8"/><circle cx="76.2" cy="787.3" r="0.5" fill="#a8a8b8"/><circle cx="108.8" cy="771.7" r="0.5" fill="#9a9ab0"/><circle cx="84.8" cy="782.7" r="0.5" fill="#a8a8b8"/><circle cx="103.9" cy="773.0" r="0.5" fill="#9a9ab0"/><circle cx="96.6" cy="777.1" r="0.5" fill="#a8a8b8"/><circle cx="83.2" cy="789.1" r="0.5" fill="#a0a8d0"/><circle cx="94.0" cy="765.7" r="0.5" fill="#b4b8d0"/><circle cx="67.4" cy="772.8" r="0.5" fill="#8088b8"/><circle cx="97.9" cy="785.8" r="0.5" fill="#b4b8d0"/><circle cx="103.9" cy="771.7" r="0.5" fill="#8c94c4"/><circle cx="95.9" cy="785.1" r="0.5" fill="#a0a8d0"/><circle cx="79.2" cy="758.0" r="0.5" fill="#8c94c4"/><circle cx="83.9" cy="773.7" r="0.5" fill="#8088b8"/><circle cx="100.3" cy="783.1" r="0.5" fill="#a8a8b8"/><circle cx="105.3" cy="788.0" r="0.5" fill="#8c94c4"/><circle cx="89.4" cy="773.8" r="0.5" fill="#a8a8b8"/><circle cx="101.4" cy="765.6" r="0.5" fill="#a8a8b8"/><circle cx="99.7" cy="805.1" r="0.5" fill="#8088b8"/><circle cx="86.3" cy="794.1" r="0.5" fill="#9a9ab0"/><circle cx="74.3" cy="813.6" r="0.5" fill="#a8a8b8"/><circle cx="106.3" cy="793.1" r="0.5" fill="#a8a8b8"/><circle cx="113.7" cy="789.2" r="0.5" fill="#8c94c4"/><circle cx="71.2" cy="794.9" r="0.5" fill="#a8a8b8"/><circle cx="94.2" cy="781.1" r="0.5" fill="#b4b8d0"/><circle cx="110.8" cy="752.8" r="0.5" fill="#8088b8"/><circle cx="83.4" cy="765.9" r="0.5" fill="#a8a8b8"/><circle cx="102.2" cy="780.5" r="0.5" fill="#b4b8d0"/><circle cx="104.7" cy="774.3" r="0.5" fill="#a0a8d0"/><circle cx="109.5" cy="779.2" r="0.5" fill="#a0a8d0"/><circle cx="88.6" cy="793.4" r="0.5" fill="#8088b8"/><circle cx="107.0" cy="784.7" r="0.5" fill="#8c94c4"/><circle cx="92.1" cy="788.2" r="0.5" fill="#a0a8d0"/><circle cx="116.4" cy="766.8" r="0.5" fill="#8c94c4"/><circle cx="66.6" cy="763.4" r="0.5" fill="#8c94c4"/><circle cx="91.2" cy="789.2" r="0.5" fill="#9a9ab0"/><circle cx="97.2" cy="790.8" r="0.5" fill="#a8a8b8"/><circle cx="77.4" cy="783.1" r="0.5" fill="#b4b8d0"/><circle cx="99.8" cy="791.2" r="0.5" fill="#a0a8d0"/><circle cx="124.9" cy="761.2" r="0.5" fill="#a8a8b8"/><circle cx="68.6" cy="771.7" r="0.5" fill="#b4b8d0"/><circle cx="105.4" cy="766.2" r="0.5" fill="#b4b8d0"/><circle cx="106.8" cy="773.0" r="0.5" fill="#8088b8"/><circle cx="95.9" cy="773.5" r="0.5" fill="#a0a8d0"/><circle cx="86.5" cy="786.2" r="0.5" fill="#a0a8d0"/><circle cx="99.7" cy="766.0" r="0.5" fill="#8088b8"/><circle cx="102.2" cy="755.1" r="0.5" fill="#8c94c4"/><circle cx="88.9" cy="770.8" r="0.5" fill="#8c94c4"/><circle cx="117.9" cy="756.8" r="0.5" fill="#b4b8d0"/><circle cx="101.9" cy="757.3" r="0.5" fill="#8088b8"/><circle cx="106.0" cy="769.0" r="0.5" fill="#9a9ab0"/><circle cx="115.1" cy="805.9" r="0.5" fill="#8088b8"/><circle cx="111.8" cy="798.1" r="0.5" fill="#8088b8"/><circle cx="93.1" cy="798.5" r="0.5" fill="#a0a8d0"/><circle cx="86.5" cy="775.9" r="0.5" fill="#a0a8d0"/><circle cx="107.6" cy="753.8" r="0.5" fill="#a0a8d0"/><circle cx="105.3" cy="785.9" r="0.5" fill="#a8a8b8"/><circle cx="64.0" cy="774.5" r="0.5" fill="#a8a8b8"/><circle cx="69.7" cy="764.7" r="0.5" fill="#9a9ab0"/><circle cx="104.6" cy="781.2" r="0.5" fill="#a0a8d0"/><circle cx="100.7" cy="776.7" r="0.5" fill="#b4b8d0"/><circle cx="99.9" cy="798.1" r="0.5" fill="#8088b8"/><circle cx="107.7" cy="777.1" r="0.5" fill="#b4b8d0"/><circle cx="106.4" cy="785.9" r="0.5" fill="#b4b8d0"/><circle cx="92.2" cy="775.2" r="0.5" fill="#8c94c4"/><circle cx="92.3" cy="773.5" r="0.5" fill="#b4b8d0"/><circle cx="83.8" cy="757.8" r="0.5" fill="#8c94c4"/><circle cx="93.7" cy="778.1" r="0.5" fill="#b4b8d0"/><circle cx="90.9" cy="763.5" r="0.5" fill="#9a9ab0"/><circle cx="79.7" cy="773.5" r="0.5" fill="#8c94c4"/><circle cx="112.9" cy="757.3" r="0.5" fill="#a8a8b8"/><circle cx="100.6" cy="800.0" r="0.5" fill="#9a9ab0"/><circle cx="70.5" cy="754.6" r="0.5" fill="#a8a8b8"/><circle cx="90.9" cy="793.0" r="0.5" fill="#b4b8d0"/><circle cx="89.0" cy="777.8" r="0.5" fill="#a0a8d0"/><circle cx="102.5" cy="803.1" r="0.5" fill="#9a9ab0"/><circle cx="90.6" cy="791.2" r="0.5" fill="#b4b8d0"/><circle cx="92.8" cy="766.7" r="0.5" fill="#b4b8d0"/><circle cx="101.9" cy="784.5" r="0.5" fill="#8c94c4"/><circle cx="109.3" cy="795.6" r="0.5" fill="#a0a8d0"/><circle cx="101.5" cy="793.8" r="0.5" fill="#b4b8d0"/><circle cx="89.6" cy="776.4" r="0.5" fill="#a0a8d0"/><circle cx="138.5" cy="789.0" r="0.5" fill="#b4b8d0"/><circle cx="90.1" cy="783.2" r="0.5" fill="#b4b8d0"/><circle cx="102.4" cy="776.4" r="0.5" fill="#a0a8d0"/><circle cx="97.9" cy="752.3" r="0.5" fill="#b4b8d0"/><circle cx="77.7" cy="763.1" r="0.5" fill="#8088b8"/><circle cx="81.8" cy="739.6" r="0.5" fill="#a0a8d0"/><circle cx="84.0" cy="762.6" r="0.5" fill="#8c94c4"/><circle cx="94.3" cy="789.7" r="0.5" fill="#9a9ab0"/><circle cx="90.8" cy="774.2" r="0.5" fill="#b4b8d0"/><circle cx="98.8" cy="793.0" r="0.5" fill="#9a9ab0"/><circle cx="104.4" cy="761.6" r="0.5" fill="#a0a8d0"/><circle cx="94.5" cy="798.7" r="0.5" fill="#9a9ab0"/><circle cx="81.7" cy="775.8" r="0.5" fill="#8088b8"/><circle cx="75.5" cy="778.3" r="0.5" fill="#a0a8d0"/><circle cx="113.0" cy="778.5" r="0.5" fill="#a8a8b8"/><circle cx="85.6" cy="746.1" r="0.5" fill="#8088b8"/><circle cx="114.8" cy="772.8" r="0.5" fill="#a0a8d0"/><circle cx="96.4" cy="772.0" r="0.5" fill="#b4b8d0"/><circle cx="74.4" cy="769.3" r="0.5" fill="#9a9ab0"/><circle cx="120.5" cy="796.6" r="0.5" fill="#9a9ab0"/><circle cx="87.5" cy="781.8" r="0.5" fill="#a8a8b8"/><circle cx="116.4" cy="804.4" r="0.5" fill="#8088b8"/><circle cx="89.8" cy="778.4" r="0.5" fill="#9a9ab0"/><circle cx="107.2" cy="801.6" r="0.5" fill="#9a9ab0"/><circle cx="88.8" cy="775.4" r="0.5" fill="#8c94c4"/><circle cx="87.3" cy="811.0" r="0.5" fill="#a0a8d0"/><circle cx="95.7" cy="765.8" r="0.5" fill="#a0a8d0"/><circle cx="102.4" cy="797.4" r="0.5" fill="#8c94c4"/><circle cx="80.4" cy="784.3" r="0.5" fill="#a8a8b8"/><circle cx="111.3" cy="799.2" r="0.5" fill="#a8a8b8"/><circle cx="112.3" cy="768.5" r="0.5" fill="#a8a8b8"/><circle cx="95.9" cy="777.4" r="0.5" fill="#a0a8d0"/><circle cx="91.7" cy="782.0" r="0.5" fill="#8088b8"/><circle cx="80.3" cy="792.8" r="0.5" fill="#a0a8d0"/><circle cx="90.9" cy="786.8" r="0.5" fill="#a0a8d0"/><circle cx="82.7" cy="774.4" r="0.5" fill="#a8a8b8"/><circle cx="100.1" cy="756.6" r="0.5" fill="#a0a8d0"/><circle cx="80.6" cy="790.1" r="0.5" fill="#8c94c4"/><circle cx="79.8" cy="782.9" r="0.5" fill="#8088b8"/><circle cx="111.5" cy="769.9" r="0.5" fill="#b4b8d0"/><circle cx="95.2" cy="762.7" r="0.5" fill="#b4b8d0"/><circle cx="110.5" cy="754.9" r="0.5" fill="#b4b8d0"/><circle cx="98.4" cy="773.3" r="0.5" fill="#8c94c4"/><circle cx="110.2" cy="769.7" r="0.5" fill="#8088b8"/><circle cx="79.5" cy="778.0" r="0.5" fill="#8c94c4"/><circle cx="92.8" cy="784.5" r="0.5" fill="#a8a8b8"/><circle cx="83.1" cy="769.3" r="0.5" fill="#b4b8d0"/><circle cx="74.5" cy="765.6" r="0.5" fill="#9a9ab0"/><circle cx="117.7" cy="759.3" r="0.5" fill="#a0a8d0"/><circle cx="106.6" cy="791.5" r="0.5" fill="#8088b8"/><circle cx="123.1" cy="751.2" r="0.5" fill="#b4b8d0"/><circle cx="88.8" cy="762.8" r="0.5" fill="#a0a8d0"/><circle cx="73.9" cy="773.9" r="0.5" fill="#a0a8d0"/><circle cx="136.5" cy="740.9" r="0.5" fill="#a8a8b8"/><circle cx="116.7" cy="775.4" r="0.5" fill="#8088b8"/><circle cx="71.1" cy="792.9" r="0.5" fill="#a0a8d0"/><circle cx="85.7" cy="767.3" r="0.5" fill="#8c94c4"/><circle cx="100.6" cy="776.1" r="0.5" fill="#a0a8d0"/><circle cx="108.3" cy="793.1" r="0.5" fill="#b4b8d0"/><circle cx="106.2" cy="780.0" r="0.5" fill="#9a9ab0"/><circle cx="104.1" cy="781.4" r="0.5" fill="#b4b8d0"/><circle cx="116.8" cy="763.1" r="0.5" fill="#b4b8d0"/><circle cx="109.5" cy="797.9" r="0.5" fill="#a0a8d0"/><circle cx="98.6" cy="781.1" r="0.5" fill="#9a9ab0"/><circle cx="88.7" cy="796.5" r="0.5" fill="#b4b8d0"/><circle cx="102.3" cy="773.0" r="0.5" fill="#a8a8b8"/><circle cx="102.9" cy="774.0" r="0.5" fill="#9a9ab0"/><circle cx="97.2" cy="778.4" r="0.5" fill="#a8a8b8"/><circle cx="130.8" cy="746.2" r="0.5" fill="#a0a8d0"/><circle cx="84.2" cy="777.7" r="0.5" fill="#8c94c4"/><circle cx="87.5" cy="769.6" r="0.5" fill="#9a9ab0"/><circle cx="106.6" cy="777.1" r="0.5" fill="#b4b8d0"/><circle cx="93.1" cy="772.1" r="0.5" fill="#a8a8b8"/><circle cx="120.1" cy="773.0" r="0.5" fill="#b4b8d0"/><circle cx="104.4" cy="785.1" r="0.5" fill="#9a9ab0"/><circle cx="111.7" cy="795.8" r="0.5" fill="#9a9ab0"/><circle cx="99.6" cy="790.0" r="0.5" fill="#a8a8b8"/><circle cx="91.6" cy="791.5" r="0.5" fill="#a8a8b8"/><circle cx="87.6" cy="778.9" r="0.5" fill="#8088b8"/><circle cx="96.7" cy="792.6" r="0.5" fill="#a0a8d0"/><circle cx="89.0" cy="769.5" r="0.5" fill="#a8a8b8"/><circle cx="86.7" cy="765.5" r="0.5" fill="#8c94c4"/><circle cx="77.9" cy="786.7" r="0.5" fill="#8088b8"/><circle cx="96.5" cy="779.0" r="0.5" fill="#8088b8"/><circle cx="92.5" cy="791.1" r="0.5" fill="#8088b8"/><circle cx="105.5" cy="786.4" r="0.5" fill="#a0a8d0"/><circle cx="95.3" cy="792.1" r="0.5" fill="#8088b8"/><circle cx="121.1" cy="784.8" r="0.5" fill="#a0a8d0"/><circle cx="98.9" cy="779.7" r="0.5" fill="#b4b8d0"/><circle cx="112.2" cy="770.0" r="0.5" fill="#8c94c4"/><circle cx="110.9" cy="772.4" r="0.5" fill="#a0a8d0"/><circle cx="118.9" cy="790.2" r="0.5" fill="#9a9ab0"/>
<circle cx="71.1" cy="807.9" r="0.5" fill="#a8a8b8"/><circle cx="88.5" cy="812.4" r="0.5" fill="#9a9ab0"/><circle cx="71.5" cy="807.3" r="0.5" fill="#b4b8d0"/><circle cx="90.1" cy="795.9" r="0.5" fill="#8088b8"/><circle cx="128.0" cy="806.1" r="0.5" fill="#b4b8d0"/><circle cx="87.7" cy="811.4" r="0.5" fill="#a0a8d0"/><circle cx="134.5" cy="811.3" r="0.5" fill="#8c94c4"/><circle cx="63.1" cy="804.7" r="0.5" fill="#a8a8b8"/><circle cx="68.3" cy="814.7" r="0.5" fill="#8c94c4"/><circle cx="132.3" cy="798.8" r="0.5" fill="#a8a8b8"/><circle cx="91.3" cy="805.8" r="0.5" fill="#b4b8d0"/><circle cx="109.2" cy="804.7" r="0.5" fill="#b4b8d0"/><circle cx="124.5" cy="804.2" r="0.5" fill="#8088b8"/><circle cx="119.2" cy="799.3" r="0.5" fill="#8088b8"/><circle cx="108.1" cy="798.6" r="0.5" fill="#b4b8d0"/><circle cx="88.9" cy="798.2" r="0.5" fill="#8088b8"/><circle cx="96.3" cy="807.3" r="0.5" fill="#a8a8b8"/><circle cx="111.3" cy="808.6" r="0.5" fill="#a8a8b8"/><circle cx="113.2" cy="800.1" r="0.5" fill="#9a9ab0"/><circle cx="111.1" cy="809.8" r="0.5" fill="#9a9ab0"/><circle cx="82.0" cy="813.6" r="0.5" fill="#8088b8"/><circle cx="108.4" cy="813.1" r="0.5" fill="#b4b8d0"/><circle cx="104.5" cy="806.4" r="0.5" fill="#a8a8b8"/><circle cx="82.2" cy="809.5" r="0.5" fill="#8088b8"/><circle cx="120.2" cy="812.1" r="0.5" fill="#a0a8d0"/><circle cx="114.1" cy="809.0" r="0.5" fill="#b4b8d0"/><circle cx="96.9" cy="813.2" r="0.5" fill="#a8a8b8"/><circle cx="96.4" cy="796.5" r="0.5" fill="#9a9ab0"/><circle cx="104.2" cy="812.3" r="0.5" fill="#b4b8d0"/><circle cx="87.1" cy="791.1" r="0.5" fill="#a0a8d0"/><circle cx="111.7" cy="804.7" r="0.5" fill="#8088b8"/><circle cx="91.5" cy="809.9" r="0.5" fill="#a8a8b8"/><circle cx="105.1" cy="816.7" r="0.5" fill="#9a9ab0"/><circle cx="131.0" cy="798.7" r="0.5" fill="#a0a8d0"/><circle cx="100.1" cy="807.1" r="0.5" fill="#8c94c4"/><circle cx="100.2" cy="810.0" r="0.5" fill="#9a9ab0"/><circle cx="123.7" cy="805.9" r="0.5" fill="#8c94c4"/><circle cx="137.1" cy="798.7" r="0.5" fill="#a8a8b8"/><circle cx="114.1" cy="796.1" r="0.5" fill="#a0a8d0"/><circle cx="105.0" cy="796.8" r="0.5" fill="#b4b8d0"/><circle cx="89.1" cy="801.5" r="0.5" fill="#b4b8d0"/><circle cx="109.4" cy="803.1" r="0.5" fill="#9a9ab0"/><circle cx="95.4" cy="804.4" r="0.5" fill="#9a9ab0"/><circle cx="122.6" cy="802.7" r="0.5" fill="#a8a8b8"/><circle cx="66.6" cy="810.8" r="0.5" fill="#a8a8b8"/><circle cx="96.7" cy="812.0" r="0.5" fill="#a8a8b8"/><circle cx="104.7" cy="806.0" r="0.5" fill="#8088b8"/><circle cx="115.8" cy="800.5" r="0.5" fill="#a0a8d0"/><circle cx="106.9" cy="814.6" r="0.5" fill="#8c94c4"/><circle cx="74.0" cy="801.9" r="0.5" fill="#9a9ab0"/><circle cx="101.4" cy="797.7" r="0.5" fill="#8088b8"/><circle cx="117.0" cy="810.5" r="0.5" fill="#a0a8d0"/><circle cx="83.8" cy="802.4" r="0.5" fill="#9a9ab0"/><circle cx="87.2" cy="800.0" r="0.5" fill="#a0a8d0"/><circle cx="131.3" cy="807.4" r="0.5" fill="#8c94c4"/><circle cx="112.6" cy="789.7" r="0.5" fill="#b4b8d0"/><circle cx="65.6" cy="802.9" r="0.5" fill="#b4b8d0"/><circle cx="108.3" cy="793.9" r="0.5" fill="#a0a8d0"/><circle cx="90.7" cy="796.7" r="0.5" fill="#8088b8"/><circle cx="89.4" cy="802.5" r="0.5" fill="#8088b8"/><circle cx="93.9" cy="798.4" r="0.5" fill="#a0a8d0"/><circle cx="116.9" cy="809.3" r="0.5" fill="#8c94c4"/><circle cx="95.6" cy="801.9" r="0.5" fill="#8c94c4"/><circle cx="96.8" cy="799.2" r="0.5" fill="#a0a8d0"/><circle cx="101.8" cy="794.3" r="0.5" fill="#b4b8d0"/><circle cx="96.7" cy="807.5" r="0.5" fill="#b4b8d0"/><circle cx="83.5" cy="799.6" r="0.5" fill="#8c94c4"/><circle cx="90.9" cy="799.7" r="0.5" fill="#a0a8d0"/><circle cx="106.7" cy="803.6" r="0.5" fill="#a0a8d0"/><circle cx="118.9" cy="806.4" r="0.5" fill="#9a9ab0"/><circle cx="117.8" cy="796.1" r="0.5" fill="#9a9ab0"/><circle cx="69.0" cy="805.9" r="0.5" fill="#a0a8d0"/><circle cx="80.2" cy="806.0" r="0.5" fill="#8088b8"/><circle cx="108.4" cy="800.9" r="0.5" fill="#b4b8d0"/><circle cx="101.4" cy="803.5" r="0.5" fill="#a0a8d0"/><circle cx="74.1" cy="812.8" r="0.5" fill="#b4b8d0"/><circle cx="78.7" cy="804.8" r="0.5" fill="#8c94c4"/><circle cx="125.0" cy="804.2" r="0.5" fill="#a8a8b8"/><circle cx="134.4" cy="807.5" r="0.5" fill="#9a9ab0"/><circle cx="91.8" cy="802.4" r="0.5" fill="#b4b8d0"/><circle cx="103.8" cy="815.9" r="0.5" fill="#9a9ab0"/><circle cx="78.8" cy="806.3" r="0.5" fill="#9a9ab0"/><circle cx="83.8" cy="801.4" r="0.5" fill="#8088b8"/><circle cx="95.5" cy="809.7" r="0.5" fill="#a8a8b8"/><circle cx="128.7" cy="808.4" r="0.5" fill="#b4b8d0"/><circle cx="76.4" cy="811.8" r="0.5" fill="#9a9ab0"/><circle cx="105.0" cy="801.3" r="0.5" fill="#a0a8d0"/><circle cx="104.9" cy="802.7" r="0.5" fill="#9a9ab0"/><circle cx="93.5" cy="805.6" r="0.5" fill="#a8a8b8"/><circle cx="126.0" cy="795.4" r="0.5" fill="#9a9ab0"/><circle cx="105.2" cy="790.3" r="0.5" fill="#9a9ab0"/><circle cx="106.9" cy="801.2" r="0.5" fill="#8c94c4"/><circle cx="94.5" cy="805.2" r="0.5" fill="#a0a8d0"/><circle cx="104.5" cy="811.0" r="0.5" fill="#9a9ab0"/><circle cx="103.7" cy="796.1" r="0.5" fill="#8c94c4"/><circle cx="92.7" cy="803.7" r="0.5" fill="#a8a8b8"/><circle cx="86.6" cy="806.1" r="0.5" fill="#8c94c4"/><circle cx="71.4" cy="804.0" r="0.5" fill="#b4b8d0"/><circle cx="71.6" cy="805.6" r="0.5" fill="#b4b8d0"/><circle cx="125.4" cy="792.5" r="0.5" fill="#8c94c4"/><circle cx="96.5" cy="799.7" r="0.5" fill="#a0a8d0"/><circle cx="81.7" cy="787.4" r="0.5" fill="#a8a8b8"/><circle cx="107.2" cy="796.3" r="0.5" fill="#8088b8"/><circle cx="94.5" cy="808.2" r="0.5" fill="#a0a8d0"/><circle cx="91.6" cy="810.7" r="0.5" fill="#b4b8d0"/><circle cx="105.9" cy="807.4" r="0.5" fill="#8c94c4"/><circle cx="104.6" cy="805.2" r="0.5" fill="#a8a8b8"/><circle cx="89.1" cy="795.8" r="0.5" fill="#a8a8b8"/><circle cx="132.1" cy="802.7" r="0.5" fill="#8c94c4"/><circle cx="77.8" cy="800.1" r="0.5" fill="#b4b8d0"/><circle cx="84.7" cy="799.5" r="0.5" fill="#9a9ab0"/><circle cx="77.8" cy="810.6" r="0.5" fill="#9a9ab0"/><circle cx="106.2" cy="798.4" r="0.5" fill="#a8a8b8"/><circle cx="133.9" cy="804.9" r="0.5" fill="#9a9ab0"/><circle cx="106.4" cy="809.2" r="0.5" fill="#b4b8d0"/><circle cx="75.9" cy="799.0" r="0.5" fill="#8c94c4"/><circle cx="103.3" cy="809.9" r="0.5" fill="#b4b8d0"/><circle cx="95.5" cy="791.2" r="0.5" fill="#9a9ab0"/><circle cx="89.5" cy="812.6" r="0.5" fill="#b4b8d0"/><circle cx="81.7" cy="797.6" r="0.5" fill="#8c94c4"/><circle cx="102.4" cy="813.8" r="0.5" fill="#8088b8"/><circle cx="64.9" cy="800.0" r="0.5" fill="#a8a8b8"/><circle cx="131.6" cy="802.1" r="0.5" fill="#9a9ab0"/><circle cx="119.5" cy="813.2" r="0.5" fill="#b4b8d0"/><circle cx="111.7" cy="814.9" r="0.5" fill="#8088b8"/><circle cx="88.3" cy="801.6" r="0.5" fill="#9a9ab0"/><circle cx="93.1" cy="813.0" r="0.5" fill="#9a9ab0"/><circle cx="125.3" cy="802.2" r="0.5" fill="#8c94c4"/><circle cx="109.4" cy="813.2" r="0.5" fill="#a0a8d0"/><circle cx="125.9" cy="801.9" r="0.5" fill="#8088b8"/><circle cx="94.8" cy="812.9" r="0.5" fill="#a8a8b8"/><circle cx="96.3" cy="804.2" r="0.5" fill="#9a9ab0"/><circle cx="95.3" cy="803.5" r="0.5" fill="#a8a8b8"/><circle cx="111.9" cy="813.9" r="0.5" fill="#8c94c4"/><circle cx="94.3" cy="801.6" r="0.5" fill="#b4b8d0"/><circle cx="101.0" cy="809.0" r="0.5" fill="#a8a8b8"/><circle cx="101.4" cy="811.3" r="0.5" fill="#a8a8b8"/><circle cx="109.9" cy="809.8" r="0.5" fill="#a0a8d0"/><circle cx="82.6" cy="811.6" r="0.5" fill="#9a9ab0"/><circle cx="108.8" cy="816.1" r="0.5" fill="#a8a8b8"/><circle cx="70.8" cy="807.1" r="0.5" fill="#a8a8b8"/><circle cx="76.4" cy="797.6" r="0.5" fill="#9a9ab0"/><circle cx="91.3" cy="808.6" r="0.5" fill="#8c94c4"/><circle cx="127.3" cy="797.0" r="0.5" fill="#b4b8d0"/><circle cx="92.2" cy="800.2" r="0.5" fill="#b4b8d0"/><circle cx="84.7" cy="809.3" r="0.5" fill="#9a9ab0"/><circle cx="66.7" cy="813.0" r="0.5" fill="#a0a8d0"/><circle cx="109.5" cy="807.2" r="0.5" fill="#9a9ab0"/><circle cx="100.4" cy="811.5" r="0.5" fill="#8088b8"/><circle cx="83.1" cy="812.4" r="0.5" fill="#8088b8"/><circle cx="110.9" cy="808.9" r="0.5" fill="#a0a8d0"/><circle cx="82.1" cy="812.7" r="0.5" fill="#9a9ab0"/><circle cx="122.3" cy="801.9" r="0.5" fill="#9a9ab0"/><circle cx="102.3" cy="802.0" r="0.5" fill="#a0a8d0"/><circle cx="102.4" cy="795.9" r="0.5" fill="#a0a8d0"/><circle cx="98.3" cy="815.9" r="0.5" fill="#b4b8d0"/><circle cx="121.5" cy="813.0" r="0.5" fill="#a0a8d0"/><circle cx="125.3" cy="803.7" r="0.5" fill="#a8a8b8"/><circle cx="115.8" cy="808.4" r="0.5" fill="#b4b8d0"/><circle cx="71.4" cy="816.2" r="0.5" fill="#8c94c4"/>
<ellipse cx="95.6" cy="777.2" rx="16" ry="16.8" fill="url(#gE)" />
<path d="M105.60,777.20 C105.67,778.66 105.09,780.31 104.46,781.68 C103.83,783.05 102.96,784.53 101.84,785.42 C100.72,786.31 99.15,786.61 97.73,787.00 C96.31,787.38 94.74,787.96 93.31,787.74 C91.88,787.51 90.31,786.65 89.17,785.66 C88.04,784.67 87.01,783.21 86.50,781.80 C85.98,780.39 86.06,778.72 86.08,777.20 C86.11,775.68 86.06,774.00 86.64,772.67 C87.22,771.34 88.41,770.11 89.54,769.22 C90.68,768.34 92.06,767.81 93.46,767.35 C94.86,766.89 96.48,766.29 97.93,766.49 C99.38,766.70 101.13,767.50 102.15,768.57 C103.17,769.64 103.47,771.49 104.05,772.93 C104.62,774.37 105.54,775.74 105.60,777.20 Z" fill="none" stroke="#7888c8" stroke-width="0.6" opacity="0.6"/>
<path d="M107.05,777.80 C107.00,779.59 106.70,781.43 106.05,783.09 C105.40,784.74 104.47,786.66 103.15,787.74 C101.83,788.81 99.84,789.23 98.15,789.54 C96.47,789.86 94.67,789.97 93.03,789.60 C91.40,789.24 89.58,788.48 88.34,787.36 C87.11,786.23 86.33,784.44 85.61,782.85 C84.90,781.26 84.16,779.53 84.06,777.80 C83.97,776.07 84.38,774.10 85.06,772.47 C85.74,770.84 86.81,768.99 88.16,768.01 C89.52,767.03 91.51,766.87 93.16,766.58 C94.82,766.29 96.56,765.91 98.10,766.29 C99.65,766.66 101.05,767.80 102.43,768.81 C103.81,769.82 105.59,770.86 106.36,772.36 C107.14,773.86 107.11,776.01 107.05,777.80 Z" fill="none" stroke="#7888c8" stroke-width="0.6" opacity="0.6"/>
<path d="M108.68,778.40 C108.73,780.40 108.43,782.66 107.64,784.49 C106.85,786.32 105.49,788.26 103.94,789.39 C102.40,790.51 100.24,790.98 98.39,791.25 C96.55,791.53 94.66,791.42 92.85,791.04 C91.04,790.67 89.00,790.15 87.54,789.01 C86.08,787.87 85.03,785.98 84.10,784.22 C83.17,782.45 82.09,780.39 81.99,778.40 C81.89,776.41 82.62,774.10 83.51,772.29 C84.40,770.47 85.80,768.73 87.32,767.50 C88.85,766.26 90.78,765.34 92.66,764.88 C94.54,764.41 96.78,764.17 98.58,764.71 C100.37,765.24 101.97,766.80 103.43,768.09 C104.89,769.38 106.46,770.75 107.34,772.47 C108.21,774.18 108.63,776.40 108.68,778.40 Z" fill="none" stroke="#7888c8" stroke-width="0.6" opacity="0.6"/>
<path d="M109.89,779.00 C109.96,781.25 109.98,783.80 109.16,785.86 C108.34,787.91 106.67,789.88 104.98,791.35 C103.29,792.83 101.10,794.34 99.01,794.70 C96.92,795.06 94.50,794.17 92.45,793.50 C90.40,792.83 88.31,792.04 86.72,790.69 C85.13,789.35 83.79,787.37 82.90,785.42 C82.01,783.47 81.52,781.22 81.37,779.00 C81.21,776.78 81.05,774.03 81.97,772.11 C82.88,770.18 85.11,768.82 86.83,767.45 C88.55,766.08 90.32,764.38 92.31,763.87 C94.30,763.37 96.72,763.89 98.76,764.45 C100.80,765.01 102.89,765.90 104.55,767.21 C106.22,768.53 107.86,770.38 108.75,772.35 C109.64,774.31 109.83,776.75 109.89,779.00 Z" fill="none" stroke="#7888c8" stroke-width="0.6" opacity="0.6"/>
<path d="M111.15,779.60 C111.29,782.07 111.53,784.94 110.66,787.22 C109.80,789.49 107.83,791.58 105.96,793.24 C104.09,794.90 101.74,796.75 99.42,797.19 C97.11,797.62 94.35,796.61 92.07,795.85 C89.78,795.08 87.65,794.04 85.72,792.60 C83.79,791.17 81.61,789.41 80.48,787.24 C79.36,785.08 78.84,782.08 78.97,779.60 C79.10,777.12 80.21,774.62 81.24,772.34 C82.28,770.06 83.40,767.45 85.20,765.91 C86.99,764.37 89.65,763.70 92.01,763.10 C94.37,762.51 97.14,761.72 99.35,762.34 C101.57,762.96 103.57,765.14 105.31,766.82 C107.05,768.50 108.84,770.28 109.82,772.41 C110.79,774.54 111.01,777.13 111.15,779.60 Z" fill="none" stroke="#7888c8" stroke-width="0.6" opacity="0.6"/>
<path d="M110.61,779.20 C110.38,782.38 110.54,785.50 109.46,788.30 C108.38,791.09 106.42,794.29 104.11,795.96 C101.80,797.63 98.43,798.34 95.60,798.31 C92.77,798.29 89.45,797.51 87.15,795.84 C84.85,794.16 83.24,791.03 81.80,788.26 C80.35,785.48 78.53,782.25 78.48,779.20 C78.43,776.15 79.90,772.39 81.52,769.96 C83.14,767.53 85.86,766.13 88.20,764.63 C90.55,763.14 93.14,760.98 95.60,761.00 C98.06,761.02 100.41,763.37 102.94,764.74 C105.48,766.11 109.52,766.81 110.80,769.23 C112.07,771.64 110.83,776.02 110.61,779.20 Z" fill="none" stroke="#7080b8" stroke-width="0.7" opacity="0.55"/>
<path d="M114.43,780.70 C114.01,784.27 112.11,787.26 110.66,790.59 C109.21,793.91 108.23,798.48 105.72,800.64 C103.21,802.80 98.82,803.85 95.60,803.55 C92.38,803.24 89.16,800.81 86.40,798.82 C83.64,796.82 80.41,794.59 79.03,791.57 C77.65,788.55 77.90,784.17 78.13,780.70 C78.37,777.23 79.02,773.67 80.45,770.76 C81.88,767.84 84.20,765.22 86.73,763.23 C89.25,761.25 92.67,758.78 95.60,758.83 C98.53,758.88 101.40,761.79 104.33,763.51 C107.26,765.24 111.47,766.31 113.15,769.18 C114.84,772.04 114.84,777.13 114.43,780.70 Z" fill="none" stroke="#7080b8" stroke-width="0.7" opacity="0.55"/>
<path d="M115.03,782.20 C115.09,786.21 115.73,791.15 114.12,794.36 C112.51,797.56 108.45,799.32 105.36,801.42 C102.27,803.52 99.01,806.67 95.60,806.97 C92.19,807.27 87.87,805.41 84.92,803.22 C81.98,801.03 79.70,797.31 77.92,793.81 C76.13,790.30 74.32,786.14 74.21,782.20 C74.10,778.26 75.28,773.28 77.26,770.16 C79.24,767.05 83.05,765.48 86.10,763.50 C89.16,761.53 92.23,758.69 95.60,758.30 C98.97,757.90 103.27,759.13 106.30,761.13 C109.33,763.13 112.32,766.76 113.77,770.27 C115.23,773.78 114.97,778.19 115.03,782.20 Z" fill="none" stroke="#7080b8" stroke-width="0.7" opacity="0.55"/>
<path d="M80.2,798.5 C78,802 76.5,808 78,810.6 C80,812 83,811.8 85,810 C87,808 88,805 91,802.5 C93.5,800.8 95.5,800 98,799.8" fill="none" stroke="#6a6a7a" stroke-width="0.8"/>
<path d="M119.69,806.50 C119.71,808.65 119.46,811.26 118.79,813.03 C118.13,814.81 116.86,816.55 115.72,817.14 C114.58,817.74 113.06,817.39 111.97,816.62 C110.89,815.84 109.82,814.20 109.20,812.51 C108.58,810.83 108.28,808.52 108.26,806.50 C108.25,804.48 108.47,801.95 109.11,800.37 C109.75,798.78 111.01,797.57 112.08,796.98 C113.16,796.39 114.45,796.31 115.55,796.83 C116.65,797.35 117.99,798.50 118.69,800.11 C119.38,801.72 119.67,804.35 119.69,806.50 Z" fill="none" stroke="#7a88c0" stroke-width="0.75" opacity="0.9"/>
<path d="M118.12,806.50 C118.18,807.99 117.88,809.89 117.39,811.19 C116.90,812.50 116.02,813.92 115.21,814.31 C114.40,814.71 113.31,814.15 112.52,813.57 C111.74,812.98 111.02,812.00 110.50,810.82 C109.97,809.64 109.38,807.96 109.36,806.50 C109.34,805.04 109.88,803.31 110.39,802.04 C110.90,800.77 111.62,799.43 112.42,798.87 C113.23,798.32 114.44,798.13 115.21,798.69 C115.98,799.25 116.56,800.95 117.05,802.25 C117.53,803.55 118.07,805.01 118.12,806.50 Z" fill="none" stroke="#7a88c0" stroke-width="0.75" opacity="0.9"/>
<path d="M116.46,806.50 C116.46,807.39 116.14,808.39 115.84,809.17 C115.54,809.95 115.12,810.90 114.65,811.18 C114.17,811.46 113.52,811.16 113.01,810.85 C112.51,810.54 111.93,810.07 111.62,809.35 C111.31,808.62 111.18,807.47 111.17,806.50 C111.16,805.53 111.24,804.28 111.55,803.55 C111.85,802.83 112.49,802.47 113.01,802.13 C113.54,801.79 114.23,801.25 114.70,801.53 C115.17,801.82 115.54,803.01 115.83,803.84 C116.13,804.67 116.45,805.61 116.46,806.50 Z" fill="none" stroke="#7a88c0" stroke-width="0.75" opacity="0.9"/>
<circle cx="192.7" cy="780.8" r="0.5" fill="#a8a8b8"/><circle cx="181.2" cy="739.9" r="0.5" fill="#a0a8d0"/><circle cx="187.9" cy="750.5" r="0.5" fill="#8c94c4"/><circle cx="183.8" cy="756.0" r="0.5" fill="#9a9ab0"/><circle cx="201.7" cy="759.5" r="0.5" fill="#a8a8b8"/><circle cx="192.0" cy="756.4" r="0.5" fill="#9a9ab0"/><circle cx="197.2" cy="752.5" r="0.5" fill="#9a9ab0"/><circle cx="205.4" cy="736.0" r="0.5" fill="#a0a8d0"/><circle cx="197.1" cy="746.9" r="0.5" fill="#a0a8d0"/><circle cx="168.9" cy="760.1" r="0.5" fill="#8088b8"/><circle cx="216.2" cy="755.4" r="0.5" fill="#b4b8d0"/><circle cx="179.9" cy="741.3" r="0.5" fill="#9a9ab0"/><circle cx="205.4" cy="733.7" r="0.5" fill="#9a9ab0"/><circle cx="187.1" cy="740.2" r="0.5" fill="#a8a8b8"/><circle cx="210.1" cy="756.7" r="0.5" fill="#a8a8b8"/><circle cx="185.2" cy="761.3" r="0.5" fill="#a0a8d0"/><circle cx="200.0" cy="770.7" r="0.5" fill="#9a9ab0"/><circle cx="174.2" cy="763.2" r="0.5" fill="#b4b8d0"/><circle cx="209.1" cy="745.4" r="0.5" fill="#8088b8"/><circle cx="195.0" cy="769.0" r="0.5" fill="#a0a8d0"/><circle cx="191.6" cy="750.4" r="0.5" fill="#b4b8d0"/><circle cx="175.6" cy="773.3" r="0.5" fill="#8c94c4"/><circle cx="196.8" cy="775.4" r="0.5" fill="#a8a8b8"/><circle cx="205.3" cy="739.8" r="0.5" fill="#a0a8d0"/><circle cx="191.4" cy="733.6" r="0.5" fill="#9a9ab0"/><circle cx="214.4" cy="740.3" r="0.5" fill="#a0a8d0"/><circle cx="188.1" cy="737.7" r="0.5" fill="#8088b8"/><circle cx="192.3" cy="750.0" r="0.5" fill="#a8a8b8"/><circle cx="174.9" cy="743.5" r="0.5" fill="#a0a8d0"/><circle cx="196.9" cy="754.6" r="0.5" fill="#a8a8b8"/><circle cx="182.1" cy="750.3" r="0.5" fill="#a8a8b8"/><circle cx="185.4" cy="754.0" r="0.5" fill="#a0a8d0"/><circle cx="205.7" cy="777.6" r="0.5" fill="#8c94c4"/><circle cx="201.4" cy="752.7" r="0.5" fill="#b4b8d0"/><circle cx="182.1" cy="743.0" r="0.5" fill="#8088b8"/><circle cx="203.8" cy="738.8" r="0.5" fill="#8088b8"/><circle cx="203.2" cy="766.8" r="0.5" fill="#9a9ab0"/><circle cx="172.7" cy="748.8" r="0.5" fill="#b4b8d0"/><circle cx="165.0" cy="754.0" r="0.5" fill="#8c94c4"/><circle cx="207.5" cy="758.5" r="0.5" fill="#b4b8d0"/><circle cx="176.8" cy="751.2" r="0.5" fill="#b4b8d0"/><circle cx="195.7" cy="768.1" r="0.5" fill="#8c94c4"/><circle cx="177.1" cy="774.7" r="0.5" fill="#a0a8d0"/><circle cx="193.2" cy="746.4" r="0.5" fill="#a8a8b8"/><circle cx="198.7" cy="748.7" r="0.5" fill="#b4b8d0"/><circle cx="182.0" cy="750.6" r="0.5" fill="#a0a8d0"/><circle cx="180.7" cy="749.3" r="0.5" fill="#a8a8b8"/><circle cx="191.5" cy="761.4" r="0.5" fill="#b4b8d0"/><circle cx="188.5" cy="759.4" r="0.5" fill="#8c94c4"/><circle cx="192.9" cy="757.2" r="0.5" fill="#9a9ab0"/><circle cx="200.3" cy="774.0" r="0.5" fill="#8088b8"/><circle cx="189.9" cy="761.4" r="0.5" fill="#8088b8"/><circle cx="186.5" cy="761.2" r="0.5" fill="#8c94c4"/><circle cx="215.3" cy="776.1" r="0.5" fill="#a0a8d0"/><circle cx="186.7" cy="777.1" r="0.5" fill="#9a9ab0"/><circle cx="201.7" cy="759.6" r="0.5" fill="#9a9ab0"/><circle cx="174.1" cy="759.1" r="0.5" fill="#8088b8"/><circle cx="198.5" cy="757.7" r="0.5" fill="#8088b8"/><circle cx="182.9" cy="795.7" r="0.5" fill="#8c94c4"/><circle cx="180.0" cy="786.5" r="0.5" fill="#8088b8"/><circle cx="220.1" cy="737.6" r="0.5" fill="#a8a8b8"/><circle cx="204.1" cy="771.8" r="0.5" fill="#9a9ab0"/><circle cx="204.6" cy="763.0" r="0.5" fill="#a0a8d0"/><circle cx="204.6" cy="761.2" r="0.5" fill="#a0a8d0"/><circle cx="160.5" cy="753.8" r="0.5" fill="#b4b8d0"/><circle cx="199.1" cy="772.1" r="0.5" fill="#8c94c4"/><circle cx="200.1" cy="763.4" r="0.5" fill="#8088b8"/><circle cx="194.9" cy="743.6" r="0.5" fill="#b4b8d0"/><circle cx="182.3" cy="794.5" r="0.5" fill="#9a9ab0"/><circle cx="193.0" cy="772.5" r="0.5" fill="#8c94c4"/><circle cx="195.3" cy="760.3" r="0.5" fill="#8088b8"/><circle cx="221.3" cy="757.9" r="0.5" fill="#b4b8d0"/><circle cx="216.2" cy="793.3" r="0.5" fill="#a8a8b8"/><circle cx="191.4" cy="745.9" r="0.5" fill="#8c94c4"/><circle cx="204.0" cy="766.2" r="0.5" fill="#b4b8d0"/><circle cx="182.4" cy="760.1" r="0.5" fill="#a0a8d0"/><circle cx="192.8" cy="758.4" r="0.5" fill="#8c94c4"/><circle cx="182.2" cy="755.6" r="0.5" fill="#a0a8d0"/><circle cx="204.4" cy="753.7" r="0.5" fill="#9a9ab0"/><circle cx="195.3" cy="740.8" r="0.5" fill="#9a9ab0"/><circle cx="205.1" cy="774.3" r="0.5" fill="#8088b8"/><circle cx="169.1" cy="763.9" r="0.5" fill="#a8a8b8"/><circle cx="184.4" cy="759.5" r="0.5" fill="#8088b8"/><circle cx="208.3" cy="748.4" r="0.5" fill="#8088b8"/><circle cx="197.0" cy="764.3" r="0.5" fill="#8088b8"/><circle cx="198.1" cy="762.6" r="0.5" fill="#b4b8d0"/><circle cx="172.3" cy="747.6" r="0.5" fill="#8c94c4"/><circle cx="199.5" cy="782.2" r="0.5" fill="#a8a8b8"/><circle cx="192.7" cy="754.7" r="0.5" fill="#8088b8"/><circle cx="223.6" cy="762.1" r="0.5" fill="#a0a8d0"/><circle cx="187.8" cy="777.9" r="0.5" fill="#a8a8b8"/><circle cx="210.7" cy="763.8" r="0.5" fill="#9a9ab0"/><circle cx="194.5" cy="761.1" r="0.5" fill="#8c94c4"/><circle cx="194.7" cy="776.4" r="0.5" fill="#8c94c4"/><circle cx="165.5" cy="744.3" r="0.5" fill="#9a9ab0"/><circle cx="182.2" cy="741.2" r="0.5" fill="#8088b8"/><circle cx="189.2" cy="742.9" r="0.5" fill="#8088b8"/><circle cx="193.6" cy="751.1" r="0.5" fill="#a0a8d0"/><circle cx="219.1" cy="746.5" r="0.5" fill="#a0a8d0"/><circle cx="184.0" cy="736.2" r="0.5" fill="#a8a8b8"/><circle cx="192.6" cy="764.5" r="0.5" fill="#a8a8b8"/><circle cx="210.1" cy="776.0" r="0.5" fill="#8088b8"/><circle cx="208.9" cy="769.5" r="0.5" fill="#a0a8d0"/><circle cx="180.2" cy="746.5" r="0.5" fill="#b4b8d0"/><circle cx="204.5" cy="747.7" r="0.5" fill="#8088b8"/><circle cx="174.5" cy="758.1" r="0.5" fill="#b4b8d0"/><circle cx="221.1" cy="770.2" r="0.5" fill="#8088b8"/><circle cx="207.0" cy="754.0" r="0.5" fill="#a8a8b8"/><circle cx="201.2" cy="765.2" r="0.5" fill="#9a9ab0"/><circle cx="189.7" cy="762.3" r="0.5" fill="#b4b8d0"/><circle cx="205.5" cy="752.7" r="0.5" fill="#8c94c4"/><circle cx="210.3" cy="756.6" r="0.5" fill="#b4b8d0"/><circle cx="162.4" cy="761.7" r="0.5" fill="#8c94c4"/><circle cx="203.2" cy="763.0" r="0.5" fill="#a0a8d0"/><circle cx="203.9" cy="742.4" r="0.5" fill="#b4b8d0"/><circle cx="205.5" cy="752.9" r="0.5" fill="#a0a8d0"/><circle cx="172.9" cy="735.8" r="0.5" fill="#a8a8b8"/><circle cx="200.0" cy="763.1" r="0.5" fill="#8c94c4"/><circle cx="174.1" cy="750.9" r="0.5" fill="#9a9ab0"/><circle cx="195.4" cy="760.2" r="0.5" fill="#a8a8b8"/><circle cx="196.0" cy="762.7" r="0.5" fill="#b4b8d0"/><circle cx="165.5" cy="745.6" r="0.5" fill="#a8a8b8"/><circle cx="195.9" cy="742.7" r="0.5" fill="#8c94c4"/><circle cx="196.8" cy="762.1" r="0.5" fill="#8088b8"/><circle cx="220.3" cy="766.9" r="0.5" fill="#a8a8b8"/><circle cx="204.8" cy="778.9" r="0.5" fill="#b4b8d0"/><circle cx="189.7" cy="769.9" r="0.5" fill="#9a9ab0"/><circle cx="190.1" cy="777.3" r="0.5" fill="#8088b8"/><circle cx="183.4" cy="764.0" r="0.5" fill="#a8a8b8"/><circle cx="192.5" cy="751.4" r="0.5" fill="#a8a8b8"/><circle cx="198.0" cy="760.4" r="0.5" fill="#8c94c4"/><circle cx="205.2" cy="755.5" r="0.5" fill="#a0a8d0"/><circle cx="189.1" cy="753.1" r="0.5" fill="#b4b8d0"/><circle cx="187.4" cy="760.5" r="0.5" fill="#a8a8b8"/><circle cx="208.9" cy="746.5" r="0.5" fill="#a0a8d0"/><circle cx="191.3" cy="747.4" r="0.5" fill="#9a9ab0"/><circle cx="198.2" cy="751.5" r="0.5" fill="#a8a8b8"/><circle cx="198.9" cy="753.8" r="0.5" fill="#8c94c4"/><circle cx="193.7" cy="760.6" r="0.5" fill="#a0a8d0"/><circle cx="188.2" cy="737.6" r="0.5" fill="#a0a8d0"/><circle cx="194.3" cy="766.6" r="0.5" fill="#b4b8d0"/><circle cx="208.1" cy="759.7" r="0.5" fill="#9a9ab0"/><circle cx="193.9" cy="750.9" r="0.5" fill="#a8a8b8"/><circle cx="198.9" cy="765.7" r="0.5" fill="#b4b8d0"/><circle cx="219.2" cy="748.6" r="0.5" fill="#8088b8"/><circle cx="187.0" cy="761.2" r="0.5" fill="#b4b8d0"/><circle cx="167.8" cy="749.2" r="0.5" fill="#8088b8"/><circle cx="219.6" cy="749.7" r="0.5" fill="#b4b8d0"/><circle cx="197.4" cy="744.7" r="0.5" fill="#b4b8d0"/><circle cx="189.0" cy="761.6" r="0.5" fill="#a0a8d0"/><circle cx="170.9" cy="774.6" r="0.5" fill="#8088b8"/><circle cx="194.0" cy="753.2" r="0.5" fill="#b4b8d0"/><circle cx="176.7" cy="764.8" r="0.5" fill="#8088b8"/><circle cx="189.7" cy="733.6" r="0.5" fill="#8088b8"/><circle cx="217.1" cy="764.5" r="0.5" fill="#8c94c4"/><circle cx="194.9" cy="774.0" r="0.5" fill="#b4b8d0"/><circle cx="191.7" cy="773.6" r="0.5" fill="#9a9ab0"/><circle cx="205.9" cy="788.5" r="0.5" fill="#b4b8d0"/><circle cx="199.1" cy="750.8" r="0.5" fill="#a0a8d0"/><circle cx="176.4" cy="766.1" r="0.5" fill="#8c94c4"/><circle cx="185.8" cy="764.7" r="0.5" fill="#a8a8b8"/><circle cx="192.2" cy="738.8" r="0.5" fill="#b4b8d0"/><circle cx="195.2" cy="762.0" r="0.5" fill="#8c94c4"/><circle cx="171.3" cy="766.0" r="0.5" fill="#8088b8"/><circle cx="167.9" cy="778.8" r="0.5" fill="#8088b8"/><circle cx="219.6" cy="786.0" r="0.5" fill="#8c94c4"/><circle cx="176.6" cy="758.8" r="0.5" fill="#a8a8b8"/><circle cx="160.7" cy="769.3" r="0.5" fill="#8088b8"/><circle cx="193.1" cy="755.7" r="0.5" fill="#a8a8b8"/><circle cx="200.3" cy="737.5" r="0.5" fill="#a0a8d0"/><circle cx="193.4" cy="754.5" r="0.5" fill="#a8a8b8"/><circle cx="221.9" cy="746.0" r="0.5" fill="#b4b8d0"/><circle cx="178.6" cy="759.9" r="0.5" fill="#8c94c4"/><circle cx="201.2" cy="781.2" r="0.5" fill="#b4b8d0"/><circle cx="185.6" cy="756.6" r="0.5" fill="#a0a8d0"/><circle cx="200.5" cy="735.0" r="0.5" fill="#8c94c4"/><circle cx="196.4" cy="763.0" r="0.5" fill="#a0a8d0"/><circle cx="185.2" cy="742.9" r="0.5" fill="#8088b8"/><circle cx="192.8" cy="752.5" r="0.5" fill="#8c94c4"/><circle cx="212.5" cy="766.0" r="0.5" fill="#b4b8d0"/><circle cx="184.7" cy="756.4" r="0.5" fill="#8088b8"/><circle cx="214.9" cy="745.6" r="0.5" fill="#b4b8d0"/><circle cx="177.1" cy="741.1" r="0.5" fill="#b4b8d0"/><circle cx="207.2" cy="774.5" r="0.5" fill="#a8a8b8"/><circle cx="204.5" cy="741.3" r="0.5" fill="#a8a8b8"/><circle cx="189.3" cy="739.0" r="0.5" fill="#8c94c4"/><circle cx="178.1" cy="757.6" r="0.5" fill="#a0a8d0"/><circle cx="181.5" cy="767.1" r="0.5" fill="#9a9ab0"/><circle cx="188.1" cy="783.1" r="0.5" fill="#8c94c4"/><circle cx="206.7" cy="768.1" r="0.5" fill="#a0a8d0"/><circle cx="195.2" cy="760.8" r="0.5" fill="#b4b8d0"/><circle cx="212.6" cy="753.1" r="0.5" fill="#8088b8"/><circle cx="167.6" cy="751.6" r="0.5" fill="#8088b8"/><circle cx="211.7" cy="744.8" r="0.5" fill="#8088b8"/><circle cx="203.3" cy="767.7" r="0.5" fill="#b4b8d0"/><circle cx="209.1" cy="759.7" r="0.5" fill="#8c94c4"/><circle cx="213.9" cy="781.5" r="0.5" fill="#b4b8d0"/><circle cx="222.5" cy="763.1" r="0.5" fill="#8c94c4"/><circle cx="205.0" cy="767.1" r="0.5" fill="#8088b8"/><circle cx="218.8" cy="756.7" r="0.5" fill="#b4b8d0"/><circle cx="206.2" cy="746.4" r="0.5" fill="#a8a8b8"/><circle cx="212.0" cy="758.1" r="0.5" fill="#8c94c4"/><circle cx="207.2" cy="754.4" r="0.5" fill="#a8a8b8"/><circle cx="199.9" cy="756.6" r="0.5" fill="#b4b8d0"/><circle cx="208.2" cy="743.6" r="0.5" fill="#9a9ab0"/><circle cx="205.0" cy="774.2" r="0.5" fill="#8c94c4"/><circle cx="184.5" cy="766.1" r="0.5" fill="#b4b8d0"/><circle cx="188.0" cy="784.8" r="0.5" fill="#b4b8d0"/><circle cx="201.1" cy="741.9" r="0.5" fill="#8c94c4"/><circle cx="181.0" cy="751.0" r="0.5" fill="#8c94c4"/><circle cx="208.5" cy="765.7" r="0.5" fill="#a0a8d0"/><circle cx="171.6" cy="761.9" r="0.5" fill="#b4b8d0"/><circle cx="177.2" cy="755.8" r="0.5" fill="#9a9ab0"/><circle cx="195.9" cy="765.4" r="0.5" fill="#8088b8"/><circle cx="189.1" cy="745.7" r="0.5" fill="#9a9ab0"/><circle cx="196.9" cy="757.0" r="0.5" fill="#a0a8d0"/><circle cx="189.9" cy="757.3" r="0.5" fill="#9a9ab0"/><circle cx="192.8" cy="733.3" r="0.5" fill="#b4b8d0"/><circle cx="209.7" cy="758.1" r="0.5" fill="#a8a8b8"/><circle cx="198.7" cy="756.8" r="0.5" fill="#a0a8d0"/><circle cx="201.2" cy="770.4" r="0.5" fill="#a8a8b8"/><circle cx="184.6" cy="766.4" r="0.5" fill="#a8a8b8"/><circle cx="183.8" cy="757.0" r="0.5" fill="#8c94c4"/><circle cx="190.4" cy="766.4" r="0.5" fill="#a0a8d0"/><circle cx="196.7" cy="771.8" r="0.5" fill="#8088b8"/><circle cx="192.4" cy="756.3" r="0.5" fill="#a8a8b8"/><circle cx="215.8" cy="745.3" r="0.5" fill="#9a9ab0"/><circle cx="199.4" cy="757.0" r="0.5" fill="#a8a8b8"/><circle cx="193.1" cy="749.9" r="0.5" fill="#b4b8d0"/><circle cx="205.5" cy="746.5" r="0.5" fill="#9a9ab0"/><circle cx="189.5" cy="768.6" r="0.5" fill="#a8a8b8"/><circle cx="174.7" cy="768.0" r="0.5" fill="#b4b8d0"/><circle cx="216.8" cy="780.1" r="0.5" fill="#8c94c4"/><circle cx="200.8" cy="761.0" r="0.5" fill="#a0a8d0"/><circle cx="197.2" cy="763.7" r="0.5" fill="#a8a8b8"/><circle cx="187.6" cy="767.3" r="0.5" fill="#8088b8"/><circle cx="186.3" cy="757.3" r="0.5" fill="#a8a8b8"/><circle cx="186.8" cy="771.7" r="0.5" fill="#a8a8b8"/><circle cx="180.7" cy="765.1" r="0.5" fill="#9a9ab0"/><circle cx="177.7" cy="750.6" r="0.5" fill="#9a9ab0"/><circle cx="187.4" cy="780.0" r="0.5" fill="#b4b8d0"/><circle cx="176.3" cy="752.7" r="0.5" fill="#8c94c4"/><circle cx="177.0" cy="780.5" r="0.5" fill="#8088b8"/><circle cx="207.4" cy="759.1" r="0.5" fill="#b4b8d0"/><circle cx="180.4" cy="750.5" r="0.5" fill="#8088b8"/><circle cx="187.3" cy="763.7" r="0.5" fill="#a8a8b8"/><circle cx="201.3" cy="789.6" r="0.5" fill="#b4b8d0"/><circle cx="213.0" cy="772.5" r="0.5" fill="#8c94c4"/><circle cx="183.6" cy="739.5" r="0.5" fill="#b4b8d0"/><circle cx="175.9" cy="759.2" r="0.5" fill="#a0a8d0"/><circle cx="189.2" cy="761.3" r="0.5" fill="#9a9ab0"/><circle cx="178.7" cy="763.1" r="0.5" fill="#9a9ab0"/><circle cx="206.8" cy="733.1" r="0.5" fill="#b4b8d0"/><circle cx="185.3" cy="766.7" r="0.5" fill="#9a9ab0"/><circle cx="211.4" cy="739.1" r="0.5" fill="#a0a8d0"/><circle cx="227.9" cy="767.6" r="0.5" fill="#a0a8d0"/><circle cx="218.6" cy="752.8" r="0.5" fill="#9a9ab0"/><circle cx="219.0" cy="741.6" r="0.5" fill="#9a9ab0"/><circle cx="200.4" cy="759.2" r="0.5" fill="#8088b8"/><circle cx="182.5" cy="768.8" r="0.5" fill="#b4b8d0"/><circle cx="223.7" cy="779.1" r="0.5" fill="#a0a8d0"/><circle cx="220.3" cy="754.1" r="0.5" fill="#8c94c4"/><circle cx="209.4" cy="759.6" r="0.5" fill="#a0a8d0"/><circle cx="210.5" cy="757.6" r="0.5" fill="#a8a8b8"/><circle cx="231.8" cy="748.6" r="0.5" fill="#9a9ab0"/><circle cx="214.8" cy="774.5" r="0.5" fill="#8088b8"/><circle cx="207.8" cy="765.6" r="0.5" fill="#8088b8"/><circle cx="216.7" cy="741.1" r="0.5" fill="#8c94c4"/><circle cx="182.2" cy="762.1" r="0.5" fill="#a8a8b8"/><circle cx="183.6" cy="753.1" r="0.5" fill="#8c94c4"/><circle cx="173.8" cy="760.6" r="0.5" fill="#b4b8d0"/><circle cx="206.2" cy="760.9" r="0.5" fill="#a8a8b8"/><circle cx="180.6" cy="763.1" r="0.5" fill="#a0a8d0"/><circle cx="169.6" cy="739.7" r="0.5" fill="#8088b8"/><circle cx="215.1" cy="745.8" r="0.5" fill="#9a9ab0"/><circle cx="184.6" cy="767.4" r="0.5" fill="#a8a8b8"/><circle cx="188.1" cy="756.0" r="0.5" fill="#a0a8d0"/><circle cx="206.3" cy="733.2" r="0.5" fill="#8088b8"/><circle cx="209.7" cy="738.1" r="0.5" fill="#9a9ab0"/><circle cx="182.3" cy="775.1" r="0.5" fill="#a0a8d0"/><circle cx="177.5" cy="772.1" r="0.5" fill="#8c94c4"/><circle cx="195.1" cy="742.7" r="0.5" fill="#8088b8"/><circle cx="218.3" cy="751.9" r="0.5" fill="#9a9ab0"/><circle cx="187.8" cy="792.1" r="0.5" fill="#9a9ab0"/><circle cx="208.0" cy="765.3" r="0.5" fill="#8088b8"/><circle cx="217.1" cy="766.0" r="0.5" fill="#a8a8b8"/><circle cx="196.2" cy="748.0" r="0.5" fill="#8088b8"/><circle cx="186.7" cy="760.9" r="0.5" fill="#b4b8d0"/><circle cx="195.3" cy="757.7" r="0.5" fill="#8c94c4"/><circle cx="203.3" cy="755.8" r="0.5" fill="#8c94c4"/><circle cx="181.5" cy="757.5" r="0.5" fill="#9a9ab0"/><circle cx="220.5" cy="764.4" r="0.5" fill="#a8a8b8"/><circle cx="172.3" cy="765.6" r="0.5" fill="#8c94c4"/><circle cx="190.9" cy="768.5" r="0.5" fill="#8c94c4"/><circle cx="208.7" cy="748.9" r="0.5" fill="#a8a8b8"/><circle cx="207.6" cy="745.9" r="0.5" fill="#a0a8d0"/><circle cx="195.5" cy="761.4" r="0.5" fill="#9a9ab0"/><circle cx="190.6" cy="757.0" r="0.5" fill="#9a9ab0"/><circle cx="205.5" cy="754.1" r="0.5" fill="#a8a8b8"/><circle cx="184.3" cy="746.9" r="0.5" fill="#a0a8d0"/><circle cx="198.9" cy="776.6" r="0.5" fill="#9a9ab0"/><circle cx="187.4" cy="771.1" r="0.5" fill="#8c94c4"/><circle cx="206.4" cy="771.7" r="0.5" fill="#a8a8b8"/><circle cx="182.7" cy="760.2" r="0.5" fill="#8c94c4"/><circle cx="215.1" cy="765.9" r="0.5" fill="#8c94c4"/><circle cx="211.6" cy="770.5" r="0.5" fill="#a8a8b8"/><circle cx="183.7" cy="748.8" r="0.5" fill="#b4b8d0"/><circle cx="197.1" cy="756.6" r="0.5" fill="#8088b8"/><circle cx="216.2" cy="780.8" r="0.5" fill="#9a9ab0"/><circle cx="200.8" cy="771.1" r="0.5" fill="#9a9ab0"/><circle cx="177.9" cy="767.1" r="0.5" fill="#a0a8d0"/><circle cx="195.8" cy="766.9" r="0.5" fill="#b4b8d0"/><circle cx="195.1" cy="776.1" r="0.5" fill="#b4b8d0"/><circle cx="206.5" cy="775.2" r="0.5" fill="#a0a8d0"/><circle cx="202.0" cy="760.3" r="0.5" fill="#a8a8b8"/><circle cx="190.3" cy="763.9" r="0.5" fill="#8088b8"/><circle cx="212.4" cy="743.1" r="0.5" fill="#b4b8d0"/><circle cx="211.0" cy="752.2" r="0.5" fill="#9a9ab0"/><circle cx="196.0" cy="758.0" r="0.5" fill="#8088b8"/><circle cx="193.3" cy="740.3" r="0.5" fill="#b4b8d0"/><circle cx="204.2" cy="772.9" r="0.5" fill="#8c94c4"/><circle cx="213.9" cy="757.0" r="0.5" fill="#a8a8b8"/><circle cx="198.3" cy="786.5" r="0.5" fill="#8c94c4"/><circle cx="213.5" cy="765.3" r="0.5" fill="#b4b8d0"/><circle cx="185.8" cy="737.1" r="0.5" fill="#b4b8d0"/><circle cx="204.8" cy="774.5" r="0.5" fill="#a8a8b8"/><circle cx="205.2" cy="738.0" r="0.5" fill="#8088b8"/><circle cx="172.2" cy="756.3" r="0.5" fill="#8c94c4"/><circle cx="204.1" cy="761.0" r="0.5" fill="#b4b8d0"/><circle cx="218.1" cy="758.0" r="0.5" fill="#b4b8d0"/><circle cx="190.7" cy="776.1" r="0.5" fill="#a0a8d0"/><circle cx="191.4" cy="753.4" r="0.5" fill="#b4b8d0"/><circle cx="217.3" cy="753.3" r="0.5" fill="#9a9ab0"/><circle cx="171.9" cy="756.5" r="0.5" fill="#a8a8b8"/><circle cx="186.9" cy="772.8" r="0.5" fill="#a0a8d0"/><circle cx="190.8" cy="765.2" r="0.5" fill="#a8a8b8"/><circle cx="197.4" cy="736.5" r="0.5" fill="#a0a8d0"/><circle cx="190.3" cy="766.6" r="0.5" fill="#8088b8"/><circle cx="177.3" cy="783.8" r="0.5" fill="#8c94c4"/><circle cx="204.5" cy="747.3" r="0.5" fill="#9a9ab0"/><circle cx="220.5" cy="745.2" r="0.5" fill="#b4b8d0"/><circle cx="175.6" cy="749.9" r="0.5" fill="#b4b8d0"/><circle cx="232.9" cy="769.3" r="0.5" fill="#8c94c4"/><circle cx="171.0" cy="754.5" r="0.5" fill="#8c94c4"/><circle cx="194.5" cy="762.5" r="0.5" fill="#a8a8b8"/><circle cx="178.0" cy="762.4" r="0.5" fill="#b4b8d0"/><circle cx="186.6" cy="756.0" r="0.5" fill="#8088b8"/><circle cx="207.7" cy="757.6" r="0.5" fill="#a8a8b8"/><circle cx="189.2" cy="770.6" r="0.5" fill="#8c94c4"/><circle cx="198.4" cy="746.9" r="0.5" fill="#8088b8"/><circle cx="217.4" cy="781.8" r="0.5" fill="#8088b8"/><circle cx="200.0" cy="744.0" r="0.5" fill="#a0a8d0"/><circle cx="202.8" cy="775.6" r="0.5" fill="#a8a8b8"/><circle cx="203.0" cy="750.9" r="0.5" fill="#8088b8"/><circle cx="177.7" cy="751.3" r="0.5" fill="#9a9ab0"/><circle cx="192.5" cy="778.8" r="0.5" fill="#9a9ab0"/><circle cx="198.3" cy="761.0" r="0.5" fill="#9a9ab0"/><circle cx="194.1" cy="780.5" r="0.5" fill="#8c94c4"/><circle cx="188.4" cy="766.7" r="0.5" fill="#8088b8"/><circle cx="200.3" cy="740.6" r="0.5" fill="#8c94c4"/><circle cx="192.4" cy="765.3" r="0.5" fill="#a0a8d0"/><circle cx="222.9" cy="766.2" r="0.5" fill="#a0a8d0"/><circle cx="191.2" cy="762.8" r="0.5" fill="#8088b8"/><circle cx="185.1" cy="746.1" r="0.5" fill="#8088b8"/><circle cx="198.0" cy="776.7" r="0.5" fill="#b4b8d0"/><circle cx="196.5" cy="762.0" r="0.5" fill="#9a9ab0"/><circle cx="188.4" cy="741.3" r="0.5" fill="#8c94c4"/><circle cx="198.5" cy="756.5" r="0.5" fill="#b4b8d0"/><circle cx="199.2" cy="762.2" r="0.5" fill="#9a9ab0"/><circle cx="199.6" cy="779.8" r="0.5" fill="#b4b8d0"/><circle cx="202.2" cy="755.6" r="0.5" fill="#a8a8b8"/><circle cx="213.1" cy="739.0" r="0.5" fill="#a8a8b8"/><circle cx="205.9" cy="751.0" r="0.5" fill="#8c94c4"/><circle cx="172.6" cy="764.8" r="0.5" fill="#b4b8d0"/><circle cx="184.9" cy="747.1" r="0.5" fill="#8c94c4"/><circle cx="226.7" cy="737.9" r="0.5" fill="#b4b8d0"/><circle cx="191.2" cy="777.5" r="0.5" fill="#8c94c4"/><circle cx="194.2" cy="762.9" r="0.5" fill="#a8a8b8"/><circle cx="170.7" cy="760.6" r="0.5" fill="#a0a8d0"/><circle cx="197.9" cy="740.5" r="0.5" fill="#8c94c4"/><circle cx="192.2" cy="766.4" r="0.5" fill="#8088b8"/><circle cx="203.1" cy="752.2" r="0.5" fill="#8c94c4"/><circle cx="171.8" cy="784.9" r="0.5" fill="#a0a8d0"/><circle cx="183.8" cy="737.0" r="0.5" fill="#8c94c4"/><circle cx="208.6" cy="772.3" r="0.5" fill="#8088b8"/><circle cx="212.2" cy="753.2" r="0.5" fill="#9a9ab0"/><circle cx="183.4" cy="751.2" r="0.5" fill="#b4b8d0"/><circle cx="176.7" cy="774.2" r="0.5" fill="#9a9ab0"/><circle cx="198.0" cy="750.8" r="0.5" fill="#9a9ab0"/><circle cx="196.2" cy="759.1" r="0.5" fill="#8088b8"/><circle cx="214.4" cy="757.2" r="0.5" fill="#8c94c4"/><circle cx="163.7" cy="763.3" r="0.5" fill="#a0a8d0"/><circle cx="183.0" cy="767.1" r="0.5" fill="#a8a8b8"/><circle cx="207.7" cy="734.3" r="0.5" fill="#8c94c4"/><circle cx="179.4" cy="760.0" r="0.5" fill="#9a9ab0"/><circle cx="205.8" cy="755.6" r="0.5" fill="#8088b8"/><circle cx="195.1" cy="769.6" r="0.5" fill="#a0a8d0"/><circle cx="204.1" cy="760.9" r="0.5" fill="#b4b8d0"/><circle cx="181.7" cy="752.7" r="0.5" fill="#b4b8d0"/><circle cx="209.8" cy="753.2" r="0.5" fill="#a8a8b8"/><circle cx="217.6" cy="754.2" r="0.5" fill="#a0a8d0"/><circle cx="175.8" cy="763.8" r="0.5" fill="#a0a8d0"/><circle cx="210.9" cy="779.5" r="0.5" fill="#9a9ab0"/><circle cx="190.2" cy="776.2" r="0.5" fill="#8c94c4"/><circle cx="202.1" cy="753.4" r="0.5" fill="#a0a8d0"/><circle cx="184.5" cy="749.8" r="0.5" fill="#9a9ab0"/><circle cx="215.3" cy="753.3" r="0.5" fill="#8088b8"/><circle cx="201.5" cy="742.7" r="0.5" fill="#b4b8d0"/><circle cx="196.6" cy="761.9" r="0.5" fill="#9a9ab0"/><circle cx="210.8" cy="757.7" r="0.5" fill="#9a9ab0"/><circle cx="183.5" cy="764.5" r="0.5" fill="#9a9ab0"/><circle cx="181.3" cy="770.6" r="0.5" fill="#b4b8d0"/><circle cx="191.0" cy="735.5" r="0.5" fill="#b4b8d0"/><circle cx="187.9" cy="783.3" r="0.5" fill="#8088b8"/><circle cx="213.5" cy="746.3" r="0.5" fill="#b4b8d0"/><circle cx="195.7" cy="787.2" r="0.5" fill="#8c94c4"/><circle cx="177.0" cy="745.8" r="0.5" fill="#a0a8d0"/><circle cx="184.7" cy="750.4" r="0.5" fill="#a0a8d0"/><circle cx="202.6" cy="756.9" r="0.5" fill="#a0a8d0"/><circle cx="191.4" cy="752.4" r="0.5" fill="#a0a8d0"/>
<circle cx="222.8" cy="811.7" r="0.5" fill="#a8a8b8"/><circle cx="179.7" cy="801.9" r="0.5" fill="#a8a8b8"/><circle cx="185.8" cy="796.6" r="0.5" fill="#a8a8b8"/><circle cx="211.4" cy="796.5" r="0.5" fill="#8c94c4"/><circle cx="176.1" cy="812.8" r="0.5" fill="#8088b8"/><circle cx="212.4" cy="812.2" r="0.5" fill="#a8a8b8"/><circle cx="195.5" cy="804.3" r="0.5" fill="#8c94c4"/><circle cx="210.3" cy="808.7" r="0.5" fill="#8c94c4"/><circle cx="174.5" cy="811.0" r="0.5" fill="#b4b8d0"/><circle cx="203.8" cy="800.6" r="0.5" fill="#a8a8b8"/><circle cx="191.9" cy="799.0" r="0.5" fill="#8088b8"/><circle cx="182.4" cy="796.5" r="0.5" fill="#8c94c4"/><circle cx="195.5" cy="792.6" r="0.5" fill="#a8a8b8"/><circle cx="204.3" cy="812.3" r="0.5" fill="#a0a8d0"/><circle cx="178.2" cy="803.7" r="0.5" fill="#9a9ab0"/><circle cx="228.5" cy="813.0" r="0.5" fill="#8c94c4"/><circle cx="194.0" cy="807.4" r="0.5" fill="#a0a8d0"/><circle cx="195.3" cy="798.6" r="0.5" fill="#8088b8"/><circle cx="176.1" cy="798.1" r="0.5" fill="#a8a8b8"/><circle cx="206.7" cy="810.8" r="0.5" fill="#9a9ab0"/><circle cx="172.5" cy="803.9" r="0.5" fill="#8088b8"/><circle cx="203.8" cy="796.9" r="0.5" fill="#b4b8d0"/><circle cx="203.6" cy="801.8" r="0.5" fill="#a0a8d0"/><circle cx="178.7" cy="803.5" r="0.5" fill="#b4b8d0"/><circle cx="230.1" cy="804.7" r="0.5" fill="#b4b8d0"/><circle cx="230.3" cy="804.8" r="0.5" fill="#9a9ab0"/><circle cx="212.0" cy="800.4" r="0.5" fill="#9a9ab0"/><circle cx="189.6" cy="802.5" r="0.5" fill="#8088b8"/><circle cx="179.4" cy="804.3" r="0.5" fill="#b4b8d0"/><circle cx="207.7" cy="806.4" r="0.5" fill="#8c94c4"/><circle cx="225.1" cy="801.7" r="0.5" fill="#9a9ab0"/><circle cx="156.6" cy="800.8" r="0.5" fill="#9a9ab0"/><circle cx="196.2" cy="802.5" r="0.5" fill="#9a9ab0"/><circle cx="208.0" cy="797.9" r="0.5" fill="#a0a8d0"/><circle cx="204.7" cy="816.1" r="0.5" fill="#9a9ab0"/><circle cx="176.8" cy="811.5" r="0.5" fill="#8088b8"/><circle cx="193.9" cy="787.2" r="0.5" fill="#a0a8d0"/><circle cx="181.5" cy="809.6" r="0.5" fill="#b4b8d0"/><circle cx="159.7" cy="798.6" r="0.5" fill="#9a9ab0"/><circle cx="227.0" cy="805.5" r="0.5" fill="#b4b8d0"/><circle cx="176.3" cy="804.6" r="0.5" fill="#9a9ab0"/><circle cx="200.1" cy="798.6" r="0.5" fill="#8c94c4"/><circle cx="191.7" cy="798.4" r="0.5" fill="#9a9ab0"/><circle cx="184.6" cy="803.4" r="0.5" fill="#b4b8d0"/><circle cx="205.9" cy="804.3" r="0.5" fill="#a8a8b8"/><circle cx="180.3" cy="810.0" r="0.5" fill="#a0a8d0"/><circle cx="187.0" cy="804.3" r="0.5" fill="#a8a8b8"/><circle cx="197.9" cy="804.5" r="0.5" fill="#a0a8d0"/><circle cx="226.3" cy="776.6" r="0.5" fill="#8088b8"/><circle cx="180.5" cy="793.4" r="0.5" fill="#8c94c4"/><circle cx="174.2" cy="798.2" r="0.5" fill="#b4b8d0"/><circle cx="192.1" cy="806.2" r="0.5" fill="#9a9ab0"/><circle cx="226.7" cy="808.2" r="0.5" fill="#a8a8b8"/><circle cx="186.4" cy="801.9" r="0.5" fill="#8c94c4"/><circle cx="225.1" cy="791.0" r="0.5" fill="#a0a8d0"/><circle cx="231.6" cy="809.6" r="0.5" fill="#9a9ab0"/><circle cx="205.5" cy="799.6" r="0.5" fill="#b4b8d0"/><circle cx="195.1" cy="801.2" r="0.5" fill="#8c94c4"/><circle cx="212.3" cy="801.8" r="0.5" fill="#a8a8b8"/><circle cx="174.2" cy="797.1" r="0.5" fill="#8088b8"/><circle cx="212.1" cy="802.9" r="0.5" fill="#8c94c4"/><circle cx="209.6" cy="795.8" r="0.5" fill="#b4b8d0"/><circle cx="186.5" cy="816.9" r="0.5" fill="#9a9ab0"/><circle cx="207.7" cy="803.9" r="0.5" fill="#8088b8"/><circle cx="208.0" cy="789.8" r="0.5" fill="#a0a8d0"/><circle cx="217.4" cy="807.1" r="0.5" fill="#8088b8"/><circle cx="173.7" cy="811.1" r="0.5" fill="#9a9ab0"/><circle cx="171.6" cy="781.6" r="0.5" fill="#b4b8d0"/><circle cx="233.8" cy="800.2" r="0.5" fill="#b4b8d0"/><circle cx="212.2" cy="795.2" r="0.5" fill="#b4b8d0"/><circle cx="219.3" cy="780.6" r="0.5" fill="#a0a8d0"/><circle cx="202.8" cy="797.8" r="0.5" fill="#8c94c4"/><circle cx="196.2" cy="806.9" r="0.5" fill="#a8a8b8"/><circle cx="191.1" cy="802.2" r="0.5" fill="#a8a8b8"/><circle cx="207.4" cy="791.7" r="0.5" fill="#9a9ab0"/><circle cx="199.6" cy="793.7" r="0.5" fill="#a0a8d0"/><circle cx="202.7" cy="801.0" r="0.5" fill="#8c94c4"/><circle cx="192.0" cy="797.5" r="0.5" fill="#9a9ab0"/><circle cx="181.6" cy="804.5" r="0.5" fill="#8c94c4"/><circle cx="176.1" cy="796.9" r="0.5" fill="#a8a8b8"/><circle cx="181.0" cy="811.6" r="0.5" fill="#9a9ab0"/><circle cx="224.7" cy="806.8" r="0.5" fill="#b4b8d0"/><circle cx="225.1" cy="816.2" r="0.5" fill="#9a9ab0"/><circle cx="177.5" cy="804.2" r="0.5" fill="#8c94c4"/><circle cx="211.1" cy="812.0" r="0.5" fill="#a8a8b8"/><circle cx="188.7" cy="811.0" r="0.5" fill="#9a9ab0"/><circle cx="221.9" cy="804.6" r="0.5" fill="#8c94c4"/><circle cx="213.1" cy="793.2" r="0.5" fill="#8088b8"/><circle cx="201.2" cy="797.8" r="0.5" fill="#a0a8d0"/><circle cx="213.0" cy="793.9" r="0.5" fill="#9a9ab0"/><circle cx="182.3" cy="812.4" r="0.5" fill="#b4b8d0"/><circle cx="200.8" cy="804.6" r="0.5" fill="#9a9ab0"/><circle cx="202.9" cy="808.3" r="0.5" fill="#a0a8d0"/><circle cx="228.2" cy="814.5" r="0.5" fill="#a0a8d0"/><circle cx="212.3" cy="800.0" r="0.5" fill="#b4b8d0"/><circle cx="225.0" cy="813.1" r="0.5" fill="#b4b8d0"/><circle cx="225.9" cy="802.1" r="0.5" fill="#8c94c4"/><circle cx="188.3" cy="792.2" r="0.5" fill="#a0a8d0"/><circle cx="221.7" cy="807.1" r="0.5" fill="#8088b8"/><circle cx="160.3" cy="799.4" r="0.5" fill="#b4b8d0"/><circle cx="199.1" cy="806.5" r="0.5" fill="#9a9ab0"/><circle cx="216.1" cy="793.4" r="0.5" fill="#8c94c4"/><circle cx="227.8" cy="810.2" r="0.5" fill="#8c94c4"/><circle cx="216.2" cy="794.4" r="0.5" fill="#a0a8d0"/><circle cx="204.5" cy="800.5" r="0.5" fill="#b4b8d0"/><circle cx="177.9" cy="800.3" r="0.5" fill="#8088b8"/><circle cx="225.9" cy="808.3" r="0.5" fill="#9a9ab0"/><circle cx="214.8" cy="810.4" r="0.5" fill="#9a9ab0"/><circle cx="208.8" cy="811.9" r="0.5" fill="#a8a8b8"/><circle cx="201.7" cy="790.5" r="0.5" fill="#8c94c4"/><circle cx="177.2" cy="801.2" r="0.5" fill="#8c94c4"/><circle cx="181.5" cy="801.7" r="0.5" fill="#8088b8"/><circle cx="216.9" cy="809.6" r="0.5" fill="#a0a8d0"/><circle cx="216.0" cy="798.2" r="0.5" fill="#a0a8d0"/><circle cx="196.1" cy="799.7" r="0.5" fill="#a8a8b8"/><circle cx="173.4" cy="817.0" r="0.5" fill="#8088b8"/><circle cx="229.1" cy="790.2" r="0.5" fill="#b4b8d0"/><circle cx="163.2" cy="799.4" r="0.5" fill="#9a9ab0"/><circle cx="187.3" cy="787.1" r="0.5" fill="#a0a8d0"/><circle cx="208.0" cy="807.6" r="0.5" fill="#a8a8b8"/><circle cx="207.4" cy="804.8" r="0.5" fill="#b4b8d0"/><circle cx="195.7" cy="809.6" r="0.5" fill="#8c94c4"/><circle cx="206.8" cy="815.7" r="0.5" fill="#9a9ab0"/><circle cx="213.3" cy="804.6" r="0.5" fill="#a0a8d0"/><circle cx="196.7" cy="802.4" r="0.5" fill="#b4b8d0"/><circle cx="184.4" cy="797.6" r="0.5" fill="#b4b8d0"/><circle cx="180.4" cy="805.0" r="0.5" fill="#8c94c4"/><circle cx="183.4" cy="803.2" r="0.5" fill="#a0a8d0"/><circle cx="188.4" cy="790.5" r="0.5" fill="#a0a8d0"/><circle cx="192.1" cy="807.3" r="0.5" fill="#a8a8b8"/><circle cx="175.2" cy="808.7" r="0.5" fill="#8088b8"/><circle cx="185.5" cy="811.4" r="0.5" fill="#9a9ab0"/><circle cx="225.1" cy="808.6" r="0.5" fill="#9a9ab0"/><circle cx="208.0" cy="805.1" r="0.5" fill="#a0a8d0"/><circle cx="173.9" cy="806.7" r="0.5" fill="#a8a8b8"/><circle cx="179.6" cy="808.8" r="0.5" fill="#b4b8d0"/><circle cx="157.2" cy="795.4" r="0.5" fill="#8c94c4"/><circle cx="190.0" cy="813.5" r="0.5" fill="#8088b8"/><circle cx="204.6" cy="815.7" r="0.5" fill="#8088b8"/><circle cx="190.6" cy="793.3" r="0.5" fill="#9a9ab0"/><circle cx="174.9" cy="810.8" r="0.5" fill="#a8a8b8"/><circle cx="195.7" cy="794.1" r="0.5" fill="#9a9ab0"/><circle cx="200.5" cy="807.3" r="0.5" fill="#9a9ab0"/><circle cx="225.2" cy="814.5" r="0.5" fill="#a8a8b8"/><circle cx="226.5" cy="798.5" r="0.5" fill="#a0a8d0"/><circle cx="191.4" cy="803.3" r="0.5" fill="#a0a8d0"/><circle cx="212.7" cy="793.0" r="0.5" fill="#a8a8b8"/><circle cx="198.8" cy="805.3" r="0.5" fill="#9a9ab0"/><circle cx="225.0" cy="815.3" r="0.5" fill="#9a9ab0"/><circle cx="184.0" cy="812.5" r="0.5" fill="#a0a8d0"/><circle cx="199.8" cy="802.2" r="0.5" fill="#a8a8b8"/><circle cx="211.6" cy="803.5" r="0.5" fill="#b4b8d0"/><circle cx="200.3" cy="805.4" r="0.5" fill="#9a9ab0"/><circle cx="160.1" cy="796.1" r="0.5" fill="#8088b8"/><circle cx="170.0" cy="809.3" r="0.5" fill="#a8a8b8"/><circle cx="191.6" cy="802.5" r="0.5" fill="#8c94c4"/><circle cx="205.7" cy="803.6" r="0.5" fill="#b4b8d0"/><circle cx="206.5" cy="814.3" r="0.5" fill="#a8a8b8"/><circle cx="209.1" cy="808.4" r="0.5" fill="#8c94c4"/><circle cx="230.2" cy="806.8" r="0.5" fill="#b4b8d0"/><circle cx="198.4" cy="795.1" r="0.5" fill="#a0a8d0"/><circle cx="192.3" cy="810.0" r="0.5" fill="#b4b8d0"/><circle cx="157.0" cy="812.4" r="0.5" fill="#a8a8b8"/><circle cx="195.8" cy="796.7" r="0.5" fill="#a0a8d0"/><circle cx="201.5" cy="792.7" r="0.5" fill="#9a9ab0"/><circle cx="209.0" cy="802.5" r="0.5" fill="#8c94c4"/><circle cx="186.8" cy="795.8" r="0.5" fill="#a0a8d0"/><circle cx="208.2" cy="813.9" r="0.5" fill="#b4b8d0"/><circle cx="217.4" cy="799.4" r="0.5" fill="#8088b8"/><circle cx="192.1" cy="805.4" r="0.5" fill="#8c94c4"/><circle cx="222.2" cy="802.2" r="0.5" fill="#a0a8d0"/><circle cx="200.0" cy="803.3" r="0.5" fill="#8c94c4"/><circle cx="183.1" cy="812.7" r="0.5" fill="#a0a8d0"/><circle cx="198.1" cy="790.8" r="0.5" fill="#b4b8d0"/><circle cx="193.3" cy="791.3" r="0.5" fill="#9a9ab0"/><circle cx="187.1" cy="805.8" r="0.5" fill="#8088b8"/><circle cx="213.7" cy="797.5" r="0.5" fill="#a0a8d0"/><circle cx="189.7" cy="790.6" r="0.5" fill="#8088b8"/><circle cx="186.5" cy="812.9" r="0.5" fill="#9a9ab0"/><circle cx="224.1" cy="802.7" r="0.5" fill="#b4b8d0"/>
<ellipse cx="194" cy="752.4" rx="16.5" ry="17.325" fill="url(#gE2)" />
<path d="M204.73,752.40 C204.80,753.95 204.11,755.72 203.42,757.16 C202.73,758.61 201.75,760.03 200.58,761.07 C199.41,762.10 197.85,763.13 196.39,763.38 C194.92,763.63 193.27,762.98 191.79,762.57 C190.31,762.16 188.76,761.82 187.52,760.93 C186.28,760.05 185.04,758.71 184.34,757.29 C183.63,755.86 183.25,754.00 183.31,752.40 C183.37,750.80 183.94,749.04 184.70,747.70 C185.46,746.35 186.70,745.28 187.87,744.34 C189.05,743.39 190.33,742.54 191.75,742.04 C193.17,741.53 195.02,740.91 196.41,741.31 C197.80,741.70 198.97,743.31 200.07,744.40 C201.18,745.49 202.24,746.51 203.02,747.84 C203.79,749.17 204.66,750.85 204.73,752.40 Z" fill="none" stroke="#7888c8" stroke-width="0.6" opacity="0.6"/>
<path d="M205.40,753.00 C205.54,754.78 205.59,756.88 204.95,758.54 C204.30,760.19 202.91,761.81 201.53,762.91 C200.14,764.01 198.32,764.82 196.64,765.13 C194.96,765.44 193.16,765.09 191.45,764.75 C189.73,764.41 187.76,764.12 186.33,763.10 C184.91,762.07 183.61,760.29 182.90,758.61 C182.20,756.93 182.04,754.84 182.10,753.00 C182.17,751.16 182.50,749.16 183.29,747.58 C184.08,746.01 185.46,744.56 186.83,743.56 C188.20,742.55 189.88,741.99 191.51,741.56 C193.14,741.14 194.94,740.76 196.60,741.03 C198.26,741.29 200.22,742.01 201.48,743.15 C202.74,744.29 203.50,746.23 204.15,747.87 C204.80,749.51 205.27,751.22 205.40,753.00 Z" fill="none" stroke="#7888c8" stroke-width="0.6" opacity="0.6"/>
<path d="M208.27,753.60 C208.08,755.66 206.72,757.75 205.66,759.50 C204.61,761.24 203.37,762.61 201.95,764.07 C200.54,765.54 199.00,767.80 197.19,768.28 C195.38,768.75 192.98,767.61 191.10,766.93 C189.23,766.25 187.53,765.38 185.95,764.20 C184.36,763.03 182.46,761.64 181.59,759.88 C180.72,758.11 180.78,755.72 180.72,753.60 C180.66,751.48 180.39,748.94 181.24,747.15 C182.09,745.36 184.24,744.21 185.84,742.85 C187.43,741.49 188.97,739.45 190.82,738.99 C192.67,738.52 194.99,739.49 196.95,740.05 C198.90,740.61 200.89,741.18 202.54,742.36 C204.18,743.54 205.87,745.24 206.82,747.12 C207.78,748.99 208.47,751.54 208.27,753.60 Z" fill="none" stroke="#7888c8" stroke-width="0.6" opacity="0.6"/>
<path d="M209.95,754.20 C210.19,756.51 209.42,759.31 208.41,761.49 C207.41,763.66 205.78,766.00 203.91,767.25 C202.04,768.49 199.43,768.52 197.21,768.96 C194.99,769.41 192.68,770.31 190.58,769.91 C188.49,769.51 186.34,768.01 184.62,766.55 C182.90,765.09 181.13,763.20 180.27,761.14 C179.42,759.08 179.40,756.47 179.49,754.20 C179.59,751.93 179.98,749.60 180.83,747.54 C181.68,745.48 182.95,743.21 184.60,741.82 C186.25,740.43 188.61,739.69 190.74,739.18 C192.86,738.67 195.33,738.20 197.36,738.74 C199.39,739.29 201.32,740.97 202.92,742.45 C204.53,743.93 205.83,745.67 207.00,747.63 C208.17,749.59 209.72,751.89 209.95,754.20 Z" fill="none" stroke="#7888c8" stroke-width="0.6" opacity="0.6"/>
<path d="M211.26,754.80 C211.25,757.46 210.98,760.57 209.78,762.78 C208.59,765.00 206.06,766.38 204.09,768.09 C202.12,769.80 200.25,772.51 197.97,773.06 C195.69,773.61 192.84,772.09 190.39,771.40 C187.95,770.70 185.09,770.45 183.29,768.90 C181.49,767.35 180.69,764.44 179.58,762.09 C178.47,759.74 176.67,757.24 176.65,754.80 C176.63,752.36 178.37,749.81 179.47,747.45 C180.57,745.09 181.47,742.37 183.25,740.64 C185.03,738.92 187.72,737.71 190.15,737.11 C192.59,736.50 195.49,736.36 197.86,737.02 C200.24,737.68 202.43,739.45 204.42,741.08 C206.41,742.71 208.69,744.51 209.83,746.80 C210.97,749.08 211.27,752.14 211.26,754.80 Z" fill="none" stroke="#7888c8" stroke-width="0.6" opacity="0.6"/>
<path d="M180,764 C177,774 186,780 196,780 C206,780 210,785 212,790" fill="none" stroke="#7a88c0" stroke-width="0.7"/>
<path d="M176,760 C172,772 180,784 192,784" fill="none" stroke="#8890c0" stroke-width="0.7"/>
<path d="M163,808 C168,800 174,792 178,793 C182,795 188,804 190,809 C184,811 170,811 163,808 Z" fill="none" stroke="#6a6a7a" stroke-width="0.8"/>
<path d="M159,812 C165,802 172,790 179,789 C185,790 191,800 194,806" fill="none" stroke="#7a7a8a" stroke-width="0.7"/>
<path d="M217.75,797.00 C217.66,800.17 217.10,803.48 216.45,806.15 C215.80,808.81 214.88,811.42 213.84,812.98 C212.80,814.54 211.44,815.41 210.20,815.51 C208.96,815.62 207.54,815.06 206.41,813.63 C205.28,812.20 204.04,809.69 203.42,806.92 C202.80,804.15 202.67,800.29 202.68,797.00 C202.69,793.71 202.84,789.85 203.48,787.17 C204.12,784.49 205.41,782.41 206.53,780.91 C207.65,779.41 208.95,778.32 210.20,778.18 C211.45,778.04 212.93,778.58 214.06,780.07 C215.19,781.56 216.35,784.28 216.97,787.10 C217.58,789.92 217.83,793.83 217.75,797.00 Z" fill="none" stroke="#7080c0" stroke-width="0.75" opacity="0.9"/>
<path d="M215.97,797.00 C216.02,799.61 216.16,802.87 215.69,805.03 C215.22,807.18 214.06,808.65 213.15,809.94 C212.23,811.22 211.18,812.77 210.20,812.75 C209.22,812.73 208.14,811.16 207.28,809.80 C206.42,808.43 205.60,806.67 205.04,804.54 C204.49,802.41 203.99,799.59 203.94,797.00 C203.89,794.41 204.23,791.32 204.75,789.02 C205.27,786.73 206.15,784.41 207.06,783.22 C207.97,782.04 209.20,781.74 210.20,781.93 C211.20,782.11 212.21,783.11 213.08,784.35 C213.96,785.59 214.95,787.24 215.43,789.34 C215.92,791.45 215.93,794.39 215.97,797.00 Z" fill="none" stroke="#7080c0" stroke-width="0.75" opacity="0.9"/>
<path d="M214.66,797.00 C214.70,798.85 214.49,801.13 214.11,802.72 C213.73,804.30 213.02,805.50 212.37,806.51 C211.71,807.51 210.92,808.76 210.20,808.76 C209.48,808.76 208.70,807.51 208.03,806.53 C207.36,805.54 206.58,804.44 206.20,802.85 C205.82,801.27 205.76,798.95 205.77,797.00 C205.77,795.05 205.87,792.88 206.22,791.18 C206.57,789.48 207.21,787.62 207.87,786.80 C208.54,785.97 209.42,786.27 210.20,786.23 C210.98,786.20 211.95,785.71 212.57,786.60 C213.18,787.50 213.54,789.87 213.89,791.60 C214.24,793.34 214.63,795.15 214.66,797.00 Z" fill="none" stroke="#7080c0" stroke-width="0.75" opacity="0.9"/>
<path d="M213.07,797.00 C213.08,798.25 212.99,799.62 212.78,800.77 C212.56,801.91 212.19,803.23 211.76,803.86 C211.33,804.49 210.70,804.64 210.20,804.56 C209.70,804.47 209.19,803.98 208.75,803.37 C208.31,802.76 207.80,801.94 207.55,800.88 C207.30,799.82 207.27,798.29 207.27,797.00 C207.27,795.71 207.33,794.22 207.58,793.16 C207.82,792.10 208.31,791.30 208.75,790.63 C209.19,789.97 209.72,789.14 210.20,789.17 C210.68,789.19 211.20,790.08 211.62,790.77 C212.04,791.46 212.49,792.26 212.73,793.30 C212.97,794.33 213.06,795.75 213.07,797.00 Z" fill="none" stroke="#7080c0" stroke-width="0.75" opacity="0.9"/>
<path d="M211.94,797.00 C211.95,797.68 211.79,798.49 211.64,799.10 C211.48,799.71 211.27,800.30 211.03,800.64 C210.79,800.99 210.47,801.19 210.20,801.17 C209.93,801.14 209.63,800.85 209.41,800.48 C209.18,800.12 208.99,799.55 208.85,798.97 C208.71,798.39 208.58,797.68 208.57,797.00 C208.56,796.32 208.64,795.53 208.77,794.91 C208.90,794.29 209.11,793.60 209.35,793.26 C209.59,792.93 209.91,792.91 210.20,792.90 C210.49,792.89 210.84,792.82 211.07,793.18 C211.30,793.53 211.42,794.37 211.56,795.01 C211.71,795.64 211.93,796.32 211.94,797.00 Z" fill="none" stroke="#7080c0" stroke-width="0.75" opacity="0.9"/>
<circle cx="92.2" cy="879.5" r="0.5" fill="#a8a8b8"/><circle cx="122.3" cy="887.5" r="0.5" fill="#a0a8d0"/><circle cx="120.7" cy="883.3" r="0.5" fill="#a8a8b8"/><circle cx="103.9" cy="898.5" r="0.5" fill="#9a9ab0"/><circle cx="90.9" cy="893.6" r="0.5" fill="#a8a8b8"/><circle cx="80.8" cy="891.8" r="0.5" fill="#9a9ab0"/><circle cx="94.0" cy="909.4" r="0.5" fill="#9a9ab0"/><circle cx="93.1" cy="869.8" r="0.5" fill="#a8a8b8"/><circle cx="79.1" cy="879.2" r="0.5" fill="#b4b8d0"/><circle cx="99.4" cy="865.4" r="0.5" fill="#b4b8d0"/><circle cx="77.0" cy="874.4" r="0.5" fill="#8088b8"/><circle cx="80.8" cy="901.2" r="0.5" fill="#b4b8d0"/><circle cx="65.2" cy="896.8" r="0.5" fill="#8c94c4"/><circle cx="98.2" cy="881.0" r="0.5" fill="#a0a8d0"/><circle cx="70.2" cy="862.7" r="0.5" fill="#a8a8b8"/><circle cx="108.3" cy="882.0" r="0.5" fill="#a0a8d0"/><circle cx="95.2" cy="875.5" r="0.5" fill="#8c94c4"/><circle cx="85.4" cy="883.6" r="0.5" fill="#a8a8b8"/><circle cx="100.3" cy="863.9" r="0.5" fill="#b4b8d0"/><circle cx="99.6" cy="874.9" r="0.5" fill="#8088b8"/><circle cx="103.3" cy="875.5" r="0.5" fill="#a0a8d0"/><circle cx="86.7" cy="888.4" r="0.5" fill="#a8a8b8"/><circle cx="76.5" cy="909.6" r="0.5" fill="#9a9ab0"/><circle cx="107.9" cy="860.9" r="0.5" fill="#9a9ab0"/><circle cx="82.7" cy="881.2" r="0.5" fill="#b4b8d0"/><circle cx="88.0" cy="881.7" r="0.5" fill="#9a9ab0"/><circle cx="112.2" cy="869.2" r="0.5" fill="#9a9ab0"/><circle cx="105.1" cy="886.4" r="0.5" fill="#8c94c4"/><circle cx="98.3" cy="877.0" r="0.5" fill="#b4b8d0"/><circle cx="72.3" cy="880.2" r="0.5" fill="#b4b8d0"/><circle cx="100.8" cy="863.8" r="0.5" fill="#b4b8d0"/><circle cx="92.9" cy="905.0" r="0.5" fill="#b4b8d0"/><circle cx="85.9" cy="869.2" r="0.5" fill="#8c94c4"/><circle cx="86.1" cy="876.7" r="0.5" fill="#a8a8b8"/><circle cx="98.2" cy="866.2" r="0.5" fill="#8c94c4"/><circle cx="72.8" cy="864.1" r="0.5" fill="#8088b8"/><circle cx="72.2" cy="886.3" r="0.5" fill="#8c94c4"/><circle cx="99.9" cy="849.9" r="0.5" fill="#b4b8d0"/><circle cx="112.2" cy="882.1" r="0.5" fill="#9a9ab0"/><circle cx="65.6" cy="858.1" r="0.5" fill="#8c94c4"/><circle cx="97.0" cy="888.9" r="0.5" fill="#8088b8"/><circle cx="73.8" cy="908.9" r="0.5" fill="#a8a8b8"/><circle cx="75.1" cy="870.9" r="0.5" fill="#8c94c4"/><circle cx="71.5" cy="865.7" r="0.5" fill="#9a9ab0"/><circle cx="116.3" cy="866.7" r="0.5" fill="#a8a8b8"/><circle cx="105.5" cy="861.4" r="0.5" fill="#8c94c4"/><circle cx="114.0" cy="878.1" r="0.5" fill="#b4b8d0"/><circle cx="73.9" cy="907.4" r="0.5" fill="#a0a8d0"/><circle cx="83.3" cy="891.2" r="0.5" fill="#b4b8d0"/><circle cx="88.5" cy="861.2" r="0.5" fill="#b4b8d0"/><circle cx="83.1" cy="876.7" r="0.5" fill="#8088b8"/><circle cx="116.2" cy="880.8" r="0.5" fill="#a0a8d0"/><circle cx="85.7" cy="863.9" r="0.5" fill="#a0a8d0"/><circle cx="79.0" cy="863.6" r="0.5" fill="#8088b8"/><circle cx="80.2" cy="871.1" r="0.5" fill="#b4b8d0"/><circle cx="92.0" cy="899.0" r="0.5" fill="#8088b8"/><circle cx="86.7" cy="860.3" r="0.5" fill="#a8a8b8"/><circle cx="76.7" cy="849.0" r="0.5" fill="#b4b8d0"/><circle cx="119.4" cy="846.8" r="0.5" fill="#a8a8b8"/><circle cx="93.5" cy="879.1" r="0.5" fill="#9a9ab0"/><circle cx="98.2" cy="888.7" r="0.5" fill="#a0a8d0"/><circle cx="121.0" cy="892.4" r="0.5" fill="#a8a8b8"/><circle cx="81.0" cy="874.8" r="0.5" fill="#8c94c4"/><circle cx="83.8" cy="871.9" r="0.5" fill="#a8a8b8"/><circle cx="118.0" cy="893.3" r="0.5" fill="#b4b8d0"/><circle cx="91.1" cy="888.7" r="0.5" fill="#8c94c4"/><circle cx="82.7" cy="887.9" r="0.5" fill="#a8a8b8"/><circle cx="100.4" cy="869.9" r="0.5" fill="#8088b8"/><circle cx="95.6" cy="887.4" r="0.5" fill="#b4b8d0"/><circle cx="104.7" cy="871.8" r="0.5" fill="#a0a8d0"/><circle cx="75.7" cy="886.5" r="0.5" fill="#b4b8d0"/><circle cx="101.2" cy="878.3" r="0.5" fill="#8c94c4"/><circle cx="75.4" cy="884.5" r="0.5" fill="#a8a8b8"/><circle cx="100.9" cy="899.5" r="0.5" fill="#8c94c4"/><circle cx="77.3" cy="869.2" r="0.5" fill="#8c94c4"/><circle cx="73.9" cy="906.8" r="0.5" fill="#8088b8"/><circle cx="93.6" cy="865.5" r="0.5" fill="#b4b8d0"/><circle cx="72.4" cy="892.0" r="0.5" fill="#8c94c4"/><circle cx="108.7" cy="912.1" r="0.5" fill="#b4b8d0"/><circle cx="101.4" cy="872.9" r="0.5" fill="#a8a8b8"/><circle cx="73.6" cy="872.1" r="0.5" fill="#a0a8d0"/><circle cx="95.3" cy="872.5" r="0.5" fill="#8088b8"/><circle cx="68.0" cy="879.2" r="0.5" fill="#a8a8b8"/><circle cx="79.2" cy="888.0" r="0.5" fill="#b4b8d0"/><circle cx="89.1" cy="914.9" r="0.5" fill="#9a9ab0"/><circle cx="96.2" cy="875.6" r="0.5" fill="#a8a8b8"/><circle cx="85.5" cy="869.0" r="0.5" fill="#8088b8"/><circle cx="89.2" cy="892.4" r="0.5" fill="#b4b8d0"/><circle cx="84.0" cy="870.6" r="0.5" fill="#a0a8d0"/><circle cx="72.0" cy="882.1" r="0.5" fill="#8c94c4"/><circle cx="75.1" cy="858.0" r="0.5" fill="#b4b8d0"/><circle cx="100.5" cy="878.7" r="0.5" fill="#9a9ab0"/><circle cx="99.1" cy="858.5" r="0.5" fill="#b4b8d0"/><circle cx="76.7" cy="861.8" r="0.5" fill="#a8a8b8"/><circle cx="101.2" cy="851.9" r="0.5" fill="#a0a8d0"/><circle cx="83.6" cy="893.2" r="0.5" fill="#9a9ab0"/><circle cx="74.0" cy="895.4" r="0.5" fill="#8c94c4"/><circle cx="92.7" cy="862.6" r="0.5" fill="#a8a8b8"/><circle cx="88.2" cy="860.6" r="0.5" fill="#8c94c4"/><circle cx="98.0" cy="896.6" r="0.5" fill="#9a9ab0"/><circle cx="89.5" cy="891.1" r="0.5" fill="#9a9ab0"/><circle cx="119.2" cy="876.7" r="0.5" fill="#a0a8d0"/><circle cx="99.4" cy="865.5" r="0.5" fill="#9a9ab0"/><circle cx="99.6" cy="895.4" r="0.5" fill="#a8a8b8"/><circle cx="97.6" cy="913.8" r="0.5" fill="#8088b8"/><circle cx="73.1" cy="867.0" r="0.5" fill="#a8a8b8"/><circle cx="86.5" cy="886.5" r="0.5" fill="#8088b8"/><circle cx="114.7" cy="886.7" r="0.5" fill="#a0a8d0"/><circle cx="118.2" cy="887.1" r="0.5" fill="#9a9ab0"/><circle cx="70.1" cy="877.5" r="0.5" fill="#8088b8"/><circle cx="101.1" cy="872.9" r="0.5" fill="#b4b8d0"/><circle cx="70.7" cy="851.2" r="0.5" fill="#b4b8d0"/><circle cx="90.1" cy="846.2" r="0.5" fill="#b4b8d0"/><circle cx="111.8" cy="861.3" r="0.5" fill="#a8a8b8"/><circle cx="93.2" cy="902.9" r="0.5" fill="#a8a8b8"/><circle cx="104.1" cy="872.3" r="0.5" fill="#8c94c4"/><circle cx="96.0" cy="882.5" r="0.5" fill="#a8a8b8"/><circle cx="74.4" cy="893.1" r="0.5" fill="#b4b8d0"/><circle cx="83.7" cy="887.7" r="0.5" fill="#9a9ab0"/><circle cx="136.5" cy="849.1" r="0.5" fill="#a0a8d0"/><circle cx="107.2" cy="886.1" r="0.5" fill="#9a9ab0"/><circle cx="119.1" cy="853.8" r="0.5" fill="#8c94c4"/><circle cx="86.6" cy="881.4" r="0.5" fill="#8c94c4"/><circle cx="67.1" cy="866.4" r="0.5" fill="#b4b8d0"/><circle cx="91.5" cy="888.2" r="0.5" fill="#a0a8d0"/><circle cx="75.1" cy="879.4" r="0.5" fill="#a0a8d0"/><circle cx="92.8" cy="869.8" r="0.5" fill="#a8a8b8"/><circle cx="123.4" cy="873.2" r="0.5" fill="#9a9ab0"/><circle cx="80.2" cy="865.4" r="0.5" fill="#8c94c4"/><circle cx="92.2" cy="861.3" r="0.5" fill="#b4b8d0"/><circle cx="116.8" cy="867.5" r="0.5" fill="#9a9ab0"/><circle cx="102.6" cy="876.5" r="0.5" fill="#a8a8b8"/><circle cx="99.3" cy="887.5" r="0.5" fill="#a0a8d0"/><circle cx="87.7" cy="879.7" r="0.5" fill="#9a9ab0"/><circle cx="66.5" cy="888.6" r="0.5" fill="#b4b8d0"/><circle cx="88.9" cy="885.7" r="0.5" fill="#8088b8"/><circle cx="65.0" cy="903.6" r="0.5" fill="#a8a8b8"/><circle cx="92.5" cy="875.7" r="0.5" fill="#b4b8d0"/><circle cx="83.3" cy="873.8" r="0.5" fill="#a0a8d0"/><circle cx="96.5" cy="877.5" r="0.5" fill="#9a9ab0"/><circle cx="85.4" cy="869.9" r="0.5" fill="#8088b8"/><circle cx="79.7" cy="915.2" r="0.5" fill="#8088b8"/><circle cx="67.0" cy="882.6" r="0.5" fill="#a0a8d0"/><circle cx="90.2" cy="875.8" r="0.5" fill="#9a9ab0"/><circle cx="74.6" cy="887.7" r="0.5" fill="#8088b8"/><circle cx="104.3" cy="905.7" r="0.5" fill="#9a9ab0"/><circle cx="91.2" cy="875.1" r="0.5" fill="#a8a8b8"/><circle cx="79.1" cy="863.0" r="0.5" fill="#a0a8d0"/><circle cx="92.7" cy="864.9" r="0.5" fill="#9a9ab0"/><circle cx="71.7" cy="887.3" r="0.5" fill="#b4b8d0"/><circle cx="77.3" cy="854.4" r="0.5" fill="#9a9ab0"/><circle cx="84.0" cy="885.8" r="0.5" fill="#a8a8b8"/><circle cx="99.2" cy="873.8" r="0.5" fill="#8c94c4"/><circle cx="98.7" cy="885.9" r="0.5" fill="#b4b8d0"/><circle cx="91.5" cy="885.8" r="0.5" fill="#9a9ab0"/><circle cx="95.5" cy="907.5" r="0.5" fill="#b4b8d0"/><circle cx="84.1" cy="865.4" r="0.5" fill="#a8a8b8"/><circle cx="73.2" cy="889.8" r="0.5" fill="#a8a8b8"/><circle cx="91.7" cy="880.2" r="0.5" fill="#8c94c4"/><circle cx="131.7" cy="867.1" r="0.5" fill="#b4b8d0"/><circle cx="99.4" cy="878.5" r="0.5" fill="#b4b8d0"/><circle cx="85.7" cy="863.9" r="0.5" fill="#8088b8"/><circle cx="97.2" cy="882.1" r="0.5" fill="#8c94c4"/><circle cx="65.0" cy="901.3" r="0.5" fill="#8c94c4"/><circle cx="98.5" cy="888.8" r="0.5" fill="#8088b8"/><circle cx="85.1" cy="893.6" r="0.5" fill="#8088b8"/><circle cx="92.6" cy="867.3" r="0.5" fill="#9a9ab0"/><circle cx="73.0" cy="875.4" r="0.5" fill="#b4b8d0"/><circle cx="88.7" cy="889.1" r="0.5" fill="#b4b8d0"/><circle cx="100.1" cy="876.8" r="0.5" fill="#9a9ab0"/><circle cx="91.9" cy="894.4" r="0.5" fill="#9a9ab0"/><circle cx="98.9" cy="884.7" r="0.5" fill="#8c94c4"/><circle cx="71.9" cy="901.2" r="0.5" fill="#a8a8b8"/><circle cx="84.5" cy="897.2" r="0.5" fill="#a8a8b8"/><circle cx="94.2" cy="868.1" r="0.5" fill="#8c94c4"/><circle cx="93.4" cy="887.8" r="0.5" fill="#a0a8d0"/><circle cx="109.1" cy="887.6" r="0.5" fill="#9a9ab0"/><circle cx="93.3" cy="851.0" r="0.5" fill="#8c94c4"/><circle cx="85.0" cy="869.3" r="0.5" fill="#a8a8b8"/><circle cx="100.6" cy="894.7" r="0.5" fill="#a0a8d0"/><circle cx="65.7" cy="859.5" r="0.5" fill="#8c94c4"/><circle cx="99.3" cy="898.3" r="0.5" fill="#a0a8d0"/><circle cx="86.4" cy="864.6" r="0.5" fill="#a0a8d0"/><circle cx="81.6" cy="879.2" r="0.5" fill="#8c94c4"/><circle cx="93.4" cy="862.6" r="0.5" fill="#8c94c4"/><circle cx="91.2" cy="881.4" r="0.5" fill="#9a9ab0"/><circle cx="107.8" cy="903.0" r="0.5" fill="#8088b8"/><circle cx="90.9" cy="861.4" r="0.5" fill="#a0a8d0"/><circle cx="75.9" cy="876.7" r="0.5" fill="#8c94c4"/><circle cx="66.4" cy="899.9" r="0.5" fill="#8c94c4"/><circle cx="81.1" cy="878.6" r="0.5" fill="#a0a8d0"/><circle cx="109.2" cy="863.2" r="0.5" fill="#8088b8"/><circle cx="100.0" cy="899.2" r="0.5" fill="#a0a8d0"/><circle cx="86.1" cy="888.3" r="0.5" fill="#8c94c4"/><circle cx="87.0" cy="875.6" r="0.5" fill="#8c94c4"/><circle cx="94.4" cy="866.1" r="0.5" fill="#8088b8"/><circle cx="78.8" cy="863.2" r="0.5" fill="#8c94c4"/><circle cx="86.4" cy="863.7" r="0.5" fill="#a8a8b8"/><circle cx="79.3" cy="881.6" r="0.5" fill="#b4b8d0"/><circle cx="97.3" cy="888.9" r="0.5" fill="#8c94c4"/><circle cx="83.9" cy="900.0" r="0.5" fill="#a8a8b8"/><circle cx="106.2" cy="859.7" r="0.5" fill="#9a9ab0"/><circle cx="114.8" cy="867.8" r="0.5" fill="#b4b8d0"/><circle cx="75.8" cy="869.8" r="0.5" fill="#a8a8b8"/><circle cx="65.7" cy="888.1" r="0.5" fill="#8088b8"/><circle cx="81.7" cy="893.8" r="0.5" fill="#9a9ab0"/><circle cx="86.7" cy="893.0" r="0.5" fill="#9a9ab0"/><circle cx="75.3" cy="887.7" r="0.5" fill="#8088b8"/><circle cx="109.7" cy="866.3" r="0.5" fill="#8088b8"/><circle cx="99.8" cy="891.6" r="0.5" fill="#a8a8b8"/><circle cx="101.7" cy="850.7" r="0.5" fill="#b4b8d0"/><circle cx="111.8" cy="873.8" r="0.5" fill="#8088b8"/><circle cx="75.4" cy="863.4" r="0.5" fill="#b4b8d0"/><circle cx="105.9" cy="849.8" r="0.5" fill="#b4b8d0"/><circle cx="84.9" cy="889.9" r="0.5" fill="#8c94c4"/><circle cx="93.7" cy="857.9" r="0.5" fill="#a0a8d0"/><circle cx="74.8" cy="865.7" r="0.5" fill="#b4b8d0"/><circle cx="107.3" cy="884.7" r="0.5" fill="#b4b8d0"/><circle cx="110.2" cy="896.1" r="0.5" fill="#9a9ab0"/><circle cx="76.0" cy="861.0" r="0.5" fill="#a0a8d0"/><circle cx="90.7" cy="876.8" r="0.5" fill="#8c94c4"/><circle cx="91.4" cy="891.7" r="0.5" fill="#a0a8d0"/><circle cx="94.9" cy="872.6" r="0.5" fill="#8088b8"/><circle cx="88.8" cy="901.0" r="0.5" fill="#8088b8"/><circle cx="98.6" cy="884.1" r="0.5" fill="#a0a8d0"/><circle cx="83.9" cy="883.5" r="0.5" fill="#8088b8"/><circle cx="102.9" cy="882.5" r="0.5" fill="#a0a8d0"/><circle cx="106.5" cy="882.2" r="0.5" fill="#8088b8"/><circle cx="114.0" cy="865.8" r="0.5" fill="#8c94c4"/><circle cx="104.1" cy="872.6" r="0.5" fill="#8088b8"/><circle cx="73.2" cy="884.3" r="0.5" fill="#a8a8b8"/><circle cx="101.6" cy="850.3" r="0.5" fill="#8088b8"/><circle cx="94.2" cy="875.6" r="0.5" fill="#8c94c4"/><circle cx="89.9" cy="886.1" r="0.5" fill="#a8a8b8"/><circle cx="91.7" cy="898.8" r="0.5" fill="#8c94c4"/><circle cx="118.7" cy="864.9" r="0.5" fill="#a8a8b8"/><circle cx="86.9" cy="869.0" r="0.5" fill="#a0a8d0"/><circle cx="110.5" cy="859.5" r="0.5" fill="#a8a8b8"/><circle cx="103.2" cy="862.9" r="0.5" fill="#a0a8d0"/><circle cx="86.0" cy="885.3" r="0.5" fill="#b4b8d0"/><circle cx="79.1" cy="879.6" r="0.5" fill="#a8a8b8"/><circle cx="96.5" cy="892.3" r="0.5" fill="#9a9ab0"/><circle cx="69.7" cy="867.1" r="0.5" fill="#a8a8b8"/><circle cx="64.4" cy="877.5" r="0.5" fill="#b4b8d0"/><circle cx="77.1" cy="879.1" r="0.5" fill="#8c94c4"/><circle cx="85.6" cy="885.1" r="0.5" fill="#a8a8b8"/><circle cx="81.2" cy="883.7" r="0.5" fill="#b4b8d0"/><circle cx="80.6" cy="875.7" r="0.5" fill="#a0a8d0"/><circle cx="82.2" cy="869.0" r="0.5" fill="#9a9ab0"/><circle cx="87.0" cy="879.9" r="0.5" fill="#b4b8d0"/><circle cx="65.1" cy="898.0" r="0.5" fill="#9a9ab0"/><circle cx="81.8" cy="857.4" r="0.5" fill="#8088b8"/><circle cx="73.5" cy="864.2" r="0.5" fill="#8c94c4"/><circle cx="100.0" cy="866.8" r="0.5" fill="#b4b8d0"/><circle cx="105.4" cy="871.9" r="0.5" fill="#8c94c4"/><circle cx="93.8" cy="887.5" r="0.5" fill="#b4b8d0"/><circle cx="97.8" cy="907.2" r="0.5" fill="#8088b8"/><circle cx="78.9" cy="871.0" r="0.5" fill="#b4b8d0"/><circle cx="99.7" cy="906.5" r="0.5" fill="#8088b8"/><circle cx="92.8" cy="893.8" r="0.5" fill="#b4b8d0"/><circle cx="91.8" cy="885.1" r="0.5" fill="#a0a8d0"/><circle cx="83.0" cy="883.6" r="0.5" fill="#a0a8d0"/><circle cx="113.1" cy="865.3" r="0.5" fill="#8088b8"/><circle cx="90.2" cy="860.7" r="0.5" fill="#a8a8b8"/><circle cx="91.5" cy="896.2" r="0.5" fill="#a0a8d0"/><circle cx="102.9" cy="887.2" r="0.5" fill="#8c94c4"/><circle cx="94.1" cy="879.2" r="0.5" fill="#9a9ab0"/><circle cx="96.5" cy="872.8" r="0.5" fill="#8c94c4"/><circle cx="102.0" cy="886.6" r="0.5" fill="#b4b8d0"/><circle cx="133.5" cy="864.4" r="0.5" fill="#9a9ab0"/><circle cx="86.1" cy="879.9" r="0.5" fill="#b4b8d0"/><circle cx="84.0" cy="860.9" r="0.5" fill="#a0a8d0"/><circle cx="84.9" cy="876.7" r="0.5" fill="#a0a8d0"/><circle cx="70.9" cy="881.7" r="0.5" fill="#a0a8d0"/><circle cx="106.7" cy="860.6" r="0.5" fill="#9a9ab0"/><circle cx="96.2" cy="887.0" r="0.5" fill="#8088b8"/><circle cx="83.2" cy="879.2" r="0.5" fill="#b4b8d0"/><circle cx="114.1" cy="871.7" r="0.5" fill="#8088b8"/><circle cx="79.6" cy="882.7" r="0.5" fill="#b4b8d0"/><circle cx="82.3" cy="867.0" r="0.5" fill="#8c94c4"/><circle cx="87.7" cy="880.0" r="0.5" fill="#b4b8d0"/><circle cx="99.7" cy="889.6" r="0.5" fill="#b4b8d0"/><circle cx="69.8" cy="896.5" r="0.5" fill="#8c94c4"/><circle cx="85.0" cy="879.0" r="0.5" fill="#8088b8"/><circle cx="102.6" cy="880.4" r="0.5" fill="#a8a8b8"/><circle cx="90.9" cy="862.1" r="0.5" fill="#8088b8"/><circle cx="100.0" cy="901.4" r="0.5" fill="#8c94c4"/><circle cx="120.5" cy="877.0" r="0.5" fill="#9a9ab0"/><circle cx="85.1" cy="875.8" r="0.5" fill="#a8a8b8"/><circle cx="107.1" cy="898.0" r="0.5" fill="#a8a8b8"/><circle cx="83.7" cy="869.8" r="0.5" fill="#9a9ab0"/><circle cx="87.3" cy="874.2" r="0.5" fill="#9a9ab0"/><circle cx="98.2" cy="910.4" r="0.5" fill="#a0a8d0"/><circle cx="77.6" cy="890.4" r="0.5" fill="#9a9ab0"/><circle cx="127.1" cy="886.0" r="0.5" fill="#8c94c4"/><circle cx="82.2" cy="872.4" r="0.5" fill="#a8a8b8"/><circle cx="88.5" cy="903.1" r="0.5" fill="#8c94c4"/><circle cx="93.6" cy="876.9" r="0.5" fill="#8088b8"/><circle cx="81.4" cy="903.7" r="0.5" fill="#a0a8d0"/><circle cx="88.8" cy="890.6" r="0.5" fill="#9a9ab0"/><circle cx="77.6" cy="854.2" r="0.5" fill="#a8a8b8"/><circle cx="96.6" cy="870.1" r="0.5" fill="#a8a8b8"/><circle cx="93.1" cy="897.9" r="0.5" fill="#8088b8"/><circle cx="79.9" cy="889.0" r="0.5" fill="#8c94c4"/><circle cx="76.9" cy="920.7" r="0.5" fill="#8c94c4"/><circle cx="85.4" cy="890.6" r="0.5" fill="#a8a8b8"/><circle cx="103.3" cy="880.4" r="0.5" fill="#a0a8d0"/><circle cx="112.7" cy="870.5" r="0.5" fill="#a0a8d0"/><circle cx="86.4" cy="868.6" r="0.5" fill="#a8a8b8"/><circle cx="111.3" cy="892.7" r="0.5" fill="#8c94c4"/><circle cx="72.3" cy="913.4" r="0.5" fill="#8088b8"/><circle cx="71.2" cy="888.1" r="0.5" fill="#8c94c4"/><circle cx="98.6" cy="865.3" r="0.5" fill="#8088b8"/><circle cx="85.7" cy="879.0" r="0.5" fill="#a0a8d0"/><circle cx="98.3" cy="878.6" r="0.5" fill="#a0a8d0"/><circle cx="90.0" cy="863.1" r="0.5" fill="#8088b8"/><circle cx="76.2" cy="880.7" r="0.5" fill="#8088b8"/><circle cx="67.2" cy="912.6" r="0.5" fill="#8c94c4"/><circle cx="99.3" cy="875.6" r="0.5" fill="#b4b8d0"/><circle cx="99.1" cy="874.2" r="0.5" fill="#8088b8"/><circle cx="99.9" cy="909.0" r="0.5" fill="#a8a8b8"/><circle cx="78.7" cy="839.9" r="0.5" fill="#a8a8b8"/><circle cx="97.1" cy="868.7" r="0.5" fill="#8088b8"/><circle cx="95.2" cy="912.9" r="0.5" fill="#8c94c4"/><circle cx="90.7" cy="853.2" r="0.5" fill="#a0a8d0"/><circle cx="88.1" cy="888.7" r="0.5" fill="#a0a8d0"/><circle cx="91.1" cy="886.3" r="0.5" fill="#b4b8d0"/><circle cx="85.9" cy="881.7" r="0.5" fill="#a0a8d0"/><circle cx="93.0" cy="878.9" r="0.5" fill="#a8a8b8"/><circle cx="84.0" cy="913.1" r="0.5" fill="#8088b8"/><circle cx="86.0" cy="888.8" r="0.5" fill="#a8a8b8"/><circle cx="81.2" cy="894.1" r="0.5" fill="#b4b8d0"/><circle cx="86.7" cy="911.3" r="0.5" fill="#9a9ab0"/><circle cx="92.0" cy="866.6" r="0.5" fill="#a0a8d0"/><circle cx="100.4" cy="896.7" r="0.5" fill="#9a9ab0"/><circle cx="106.2" cy="880.2" r="0.5" fill="#8c94c4"/><circle cx="95.3" cy="884.0" r="0.5" fill="#8c94c4"/><circle cx="85.0" cy="890.1" r="0.5" fill="#9a9ab0"/><circle cx="98.8" cy="887.6" r="0.5" fill="#8c94c4"/><circle cx="66.3" cy="856.5" r="0.5" fill="#8088b8"/><circle cx="75.4" cy="891.9" r="0.5" fill="#8c94c4"/><circle cx="124.8" cy="865.9" r="0.5" fill="#8c94c4"/><circle cx="72.7" cy="862.3" r="0.5" fill="#a8a8b8"/><circle cx="80.6" cy="881.7" r="0.5" fill="#9a9ab0"/><circle cx="82.8" cy="889.6" r="0.5" fill="#a8a8b8"/><circle cx="78.5" cy="863.7" r="0.5" fill="#a8a8b8"/><circle cx="84.1" cy="883.2" r="0.5" fill="#b4b8d0"/><circle cx="64.8" cy="879.2" r="0.5" fill="#8c94c4"/><circle cx="97.2" cy="875.1" r="0.5" fill="#8088b8"/><circle cx="78.9" cy="855.3" r="0.5" fill="#8c94c4"/><circle cx="106.1" cy="858.6" r="0.5" fill="#a8a8b8"/><circle cx="84.2" cy="860.3" r="0.5" fill="#a0a8d0"/><circle cx="88.6" cy="899.5" r="0.5" fill="#8088b8"/><circle cx="88.8" cy="868.1" r="0.5" fill="#a0a8d0"/><circle cx="68.2" cy="891.7" r="0.5" fill="#b4b8d0"/><circle cx="93.4" cy="899.9" r="0.5" fill="#a8a8b8"/><circle cx="79.9" cy="878.1" r="0.5" fill="#9a9ab0"/><circle cx="109.8" cy="887.2" r="0.5" fill="#9a9ab0"/><circle cx="96.0" cy="904.2" r="0.5" fill="#a0a8d0"/><circle cx="83.0" cy="856.6" r="0.5" fill="#8c94c4"/><circle cx="96.5" cy="872.3" r="0.5" fill="#9a9ab0"/><circle cx="83.6" cy="902.3" r="0.5" fill="#9a9ab0"/><circle cx="92.9" cy="870.8" r="0.5" fill="#9a9ab0"/><circle cx="69.3" cy="876.8" r="0.5" fill="#a0a8d0"/><circle cx="101.6" cy="871.9" r="0.5" fill="#9a9ab0"/><circle cx="86.3" cy="870.8" r="0.5" fill="#8088b8"/><circle cx="102.3" cy="890.3" r="0.5" fill="#8088b8"/><circle cx="101.9" cy="906.5" r="0.5" fill="#8088b8"/><circle cx="89.3" cy="878.6" r="0.5" fill="#b4b8d0"/><circle cx="80.1" cy="871.3" r="0.5" fill="#b4b8d0"/><circle cx="90.1" cy="896.1" r="0.5" fill="#9a9ab0"/><circle cx="93.9" cy="885.3" r="0.5" fill="#8c94c4"/><circle cx="108.8" cy="887.4" r="0.5" fill="#8088b8"/><circle cx="79.9" cy="890.9" r="0.5" fill="#9a9ab0"/><circle cx="100.4" cy="874.6" r="0.5" fill="#a8a8b8"/><circle cx="86.0" cy="879.4" r="0.5" fill="#8c94c4"/><circle cx="95.2" cy="903.4" r="0.5" fill="#9a9ab0"/><circle cx="92.9" cy="888.3" r="0.5" fill="#8c94c4"/><circle cx="74.2" cy="882.4" r="0.5" fill="#b4b8d0"/><circle cx="122.2" cy="895.1" r="0.5" fill="#8c94c4"/><circle cx="90.1" cy="884.0" r="0.5" fill="#a8a8b8"/><circle cx="67.5" cy="887.9" r="0.5" fill="#8088b8"/><circle cx="76.7" cy="884.9" r="0.5" fill="#8088b8"/><circle cx="73.5" cy="883.6" r="0.5" fill="#b4b8d0"/><circle cx="104.0" cy="889.6" r="0.5" fill="#8088b8"/><circle cx="87.7" cy="893.6" r="0.5" fill="#8088b8"/><circle cx="82.0" cy="890.6" r="0.5" fill="#a0a8d0"/><circle cx="101.1" cy="885.2" r="0.5" fill="#9a9ab0"/><circle cx="78.1" cy="875.0" r="0.5" fill="#8088b8"/><circle cx="70.0" cy="852.2" r="0.5" fill="#a0a8d0"/><circle cx="77.6" cy="852.0" r="0.5" fill="#a8a8b8"/><circle cx="88.2" cy="877.4" r="0.5" fill="#b4b8d0"/><circle cx="107.1" cy="867.0" r="0.5" fill="#9a9ab0"/><circle cx="135.6" cy="893.3" r="0.5" fill="#9a9ab0"/><circle cx="88.9" cy="886.2" r="0.5" fill="#9a9ab0"/><circle cx="119.3" cy="856.2" r="0.5" fill="#a0a8d0"/><circle cx="116.2" cy="862.2" r="0.5" fill="#a8a8b8"/><circle cx="86.7" cy="865.2" r="0.5" fill="#8088b8"/><circle cx="64.9" cy="887.5" r="0.5" fill="#b4b8d0"/><circle cx="114.3" cy="886.7" r="0.5" fill="#8088b8"/><circle cx="89.3" cy="886.9" r="0.5" fill="#9a9ab0"/><circle cx="82.8" cy="875.4" r="0.5" fill="#b4b8d0"/><circle cx="101.3" cy="869.5" r="0.5" fill="#b4b8d0"/><circle cx="108.5" cy="894.1" r="0.5" fill="#b4b8d0"/><circle cx="115.6" cy="890.4" r="0.5" fill="#8088b8"/><circle cx="80.0" cy="888.1" r="0.5" fill="#9a9ab0"/><circle cx="84.9" cy="873.3" r="0.5" fill="#8088b8"/><circle cx="77.8" cy="886.1" r="0.5" fill="#9a9ab0"/><circle cx="123.6" cy="898.2" r="0.5" fill="#b4b8d0"/><circle cx="104.8" cy="886.1" r="0.5" fill="#b4b8d0"/><circle cx="76.5" cy="872.9" r="0.5" fill="#9a9ab0"/><circle cx="112.3" cy="881.5" r="0.5" fill="#8c94c4"/><circle cx="68.2" cy="874.4" r="0.5" fill="#9a9ab0"/><circle cx="84.7" cy="859.6" r="0.5" fill="#b4b8d0"/><circle cx="81.9" cy="891.9" r="0.5" fill="#8c94c4"/><circle cx="101.2" cy="890.4" r="0.5" fill="#a0a8d0"/><circle cx="107.6" cy="881.0" r="0.5" fill="#a0a8d0"/><circle cx="92.9" cy="850.9" r="0.5" fill="#8c94c4"/><circle cx="82.4" cy="885.2" r="0.5" fill="#a0a8d0"/><circle cx="98.5" cy="871.8" r="0.5" fill="#8088b8"/>
<circle cx="80.2" cy="917.0" r="0.5" fill="#b4b8d0"/><circle cx="95.3" cy="910.9" r="0.5" fill="#a8a8b8"/><circle cx="91.4" cy="904.3" r="0.5" fill="#a0a8d0"/><circle cx="111.9" cy="910.4" r="0.5" fill="#9a9ab0"/><circle cx="70.4" cy="892.9" r="0.5" fill="#8088b8"/><circle cx="109.7" cy="908.3" r="0.5" fill="#a0a8d0"/><circle cx="105.5" cy="898.9" r="0.5" fill="#8c94c4"/><circle cx="68.6" cy="912.4" r="0.5" fill="#a8a8b8"/><circle cx="90.9" cy="915.5" r="0.5" fill="#9a9ab0"/><circle cx="81.5" cy="916.4" r="0.5" fill="#8c94c4"/><circle cx="82.9" cy="916.9" r="0.5" fill="#a8a8b8"/><circle cx="107.1" cy="919.1" r="0.5" fill="#8088b8"/><circle cx="112.5" cy="897.7" r="0.5" fill="#8088b8"/><circle cx="78.8" cy="916.6" r="0.5" fill="#9a9ab0"/><circle cx="87.6" cy="918.4" r="0.5" fill="#8c94c4"/><circle cx="106.8" cy="917.9" r="0.5" fill="#8c94c4"/><circle cx="133.1" cy="911.3" r="0.5" fill="#a8a8b8"/><circle cx="101.2" cy="901.6" r="0.5" fill="#8088b8"/><circle cx="120.7" cy="915.5" r="0.5" fill="#a0a8d0"/><circle cx="83.0" cy="892.7" r="0.5" fill="#9a9ab0"/><circle cx="100.8" cy="910.5" r="0.5" fill="#a8a8b8"/><circle cx="80.8" cy="914.1" r="0.5" fill="#8088b8"/><circle cx="77.0" cy="897.2" r="0.5" fill="#a8a8b8"/><circle cx="74.4" cy="897.8" r="0.5" fill="#a0a8d0"/><circle cx="80.6" cy="908.5" r="0.5" fill="#b4b8d0"/><circle cx="63.4" cy="897.3" r="0.5" fill="#8c94c4"/><circle cx="94.5" cy="907.5" r="0.5" fill="#b4b8d0"/><circle cx="111.3" cy="919.4" r="0.5" fill="#9a9ab0"/><circle cx="96.7" cy="920.5" r="0.5" fill="#a0a8d0"/><circle cx="104.0" cy="912.7" r="0.5" fill="#b4b8d0"/><circle cx="78.0" cy="914.5" r="0.5" fill="#a8a8b8"/><circle cx="79.8" cy="911.3" r="0.5" fill="#8c94c4"/><circle cx="108.1" cy="911.0" r="0.5" fill="#a8a8b8"/><circle cx="67.7" cy="919.7" r="0.5" fill="#8c94c4"/><circle cx="86.7" cy="911.9" r="0.5" fill="#8c94c4"/><circle cx="84.4" cy="911.2" r="0.5" fill="#b4b8d0"/><circle cx="110.2" cy="904.0" r="0.5" fill="#a0a8d0"/><circle cx="80.0" cy="914.6" r="0.5" fill="#b4b8d0"/><circle cx="113.2" cy="895.9" r="0.5" fill="#a0a8d0"/><circle cx="73.9" cy="897.0" r="0.5" fill="#b4b8d0"/><circle cx="89.4" cy="916.3" r="0.5" fill="#8c94c4"/><circle cx="114.2" cy="899.1" r="0.5" fill="#9a9ab0"/><circle cx="93.8" cy="904.1" r="0.5" fill="#a8a8b8"/><circle cx="68.7" cy="911.9" r="0.5" fill="#8088b8"/><circle cx="112.0" cy="917.6" r="0.5" fill="#a8a8b8"/><circle cx="104.5" cy="909.8" r="0.5" fill="#a8a8b8"/><circle cx="86.4" cy="918.2" r="0.5" fill="#b4b8d0"/><circle cx="94.1" cy="907.4" r="0.5" fill="#9a9ab0"/><circle cx="86.0" cy="909.3" r="0.5" fill="#9a9ab0"/><circle cx="78.7" cy="914.6" r="0.5" fill="#a0a8d0"/><circle cx="100.0" cy="915.1" r="0.5" fill="#8c94c4"/><circle cx="85.4" cy="905.8" r="0.5" fill="#b4b8d0"/><circle cx="84.4" cy="906.6" r="0.5" fill="#9a9ab0"/><circle cx="98.5" cy="909.0" r="0.5" fill="#a8a8b8"/><circle cx="122.7" cy="914.2" r="0.5" fill="#8088b8"/><circle cx="89.9" cy="904.7" r="0.5" fill="#8088b8"/><circle cx="101.8" cy="899.1" r="0.5" fill="#8088b8"/><circle cx="80.1" cy="900.3" r="0.5" fill="#a8a8b8"/><circle cx="109.8" cy="907.8" r="0.5" fill="#8c94c4"/><circle cx="68.2" cy="900.5" r="0.5" fill="#8088b8"/><circle cx="117.2" cy="908.3" r="0.5" fill="#b4b8d0"/><circle cx="76.5" cy="920.3" r="0.5" fill="#a8a8b8"/><circle cx="92.6" cy="905.2" r="0.5" fill="#a0a8d0"/><circle cx="140.8" cy="912.6" r="0.5" fill="#a8a8b8"/><circle cx="89.4" cy="907.2" r="0.5" fill="#8c94c4"/><circle cx="105.8" cy="920.1" r="0.5" fill="#a8a8b8"/><circle cx="96.7" cy="915.4" r="0.5" fill="#b4b8d0"/><circle cx="134.3" cy="920.1" r="0.5" fill="#b4b8d0"/><circle cx="99.5" cy="911.0" r="0.5" fill="#a0a8d0"/><circle cx="113.5" cy="920.5" r="0.5" fill="#a0a8d0"/><circle cx="98.0" cy="901.8" r="0.5" fill="#9a9ab0"/><circle cx="125.0" cy="920.6" r="0.5" fill="#b4b8d0"/><circle cx="93.4" cy="921.0" r="0.5" fill="#8088b8"/><circle cx="92.4" cy="911.1" r="0.5" fill="#a0a8d0"/><circle cx="101.4" cy="905.1" r="0.5" fill="#b4b8d0"/><circle cx="65.3" cy="917.4" r="0.5" fill="#8088b8"/><circle cx="86.0" cy="903.6" r="0.5" fill="#8088b8"/><circle cx="113.5" cy="909.7" r="0.5" fill="#a8a8b8"/><circle cx="103.9" cy="914.7" r="0.5" fill="#9a9ab0"/><circle cx="98.4" cy="912.4" r="0.5" fill="#8c94c4"/><circle cx="114.3" cy="901.6" r="0.5" fill="#a8a8b8"/><circle cx="104.0" cy="919.9" r="0.5" fill="#8088b8"/><circle cx="81.9" cy="900.7" r="0.5" fill="#8c94c4"/><circle cx="135.6" cy="915.4" r="0.5" fill="#8088b8"/><circle cx="95.4" cy="909.7" r="0.5" fill="#a0a8d0"/><circle cx="84.2" cy="920.2" r="0.5" fill="#8088b8"/><circle cx="73.7" cy="908.1" r="0.5" fill="#8088b8"/><circle cx="80.3" cy="912.8" r="0.5" fill="#8088b8"/><circle cx="103.5" cy="900.7" r="0.5" fill="#a8a8b8"/><circle cx="96.7" cy="905.5" r="0.5" fill="#8c94c4"/><circle cx="90.0" cy="916.5" r="0.5" fill="#a8a8b8"/><circle cx="64.8" cy="914.4" r="0.5" fill="#8c94c4"/><circle cx="125.3" cy="901.5" r="0.5" fill="#a8a8b8"/><circle cx="93.8" cy="916.8" r="0.5" fill="#a8a8b8"/><circle cx="120.8" cy="909.5" r="0.5" fill="#b4b8d0"/><circle cx="104.8" cy="910.5" r="0.5" fill="#b4b8d0"/><circle cx="94.5" cy="911.3" r="0.5" fill="#a8a8b8"/><circle cx="108.3" cy="910.1" r="0.5" fill="#8c94c4"/><circle cx="98.5" cy="905.6" r="0.5" fill="#8088b8"/><circle cx="140.1" cy="906.7" r="0.5" fill="#b4b8d0"/><circle cx="86.4" cy="908.3" r="0.5" fill="#9a9ab0"/><circle cx="132.1" cy="907.1" r="0.5" fill="#8c94c4"/><circle cx="90.0" cy="914.4" r="0.5" fill="#b4b8d0"/><circle cx="78.7" cy="906.0" r="0.5" fill="#a0a8d0"/><circle cx="102.4" cy="914.5" r="0.5" fill="#a8a8b8"/><circle cx="70.6" cy="908.5" r="0.5" fill="#9a9ab0"/><circle cx="99.0" cy="910.0" r="0.5" fill="#8c94c4"/><circle cx="116.4" cy="897.3" r="0.5" fill="#a0a8d0"/><circle cx="113.4" cy="915.8" r="0.5" fill="#9a9ab0"/><circle cx="136.1" cy="912.3" r="0.5" fill="#a8a8b8"/><circle cx="94.5" cy="918.3" r="0.5" fill="#8c94c4"/><circle cx="82.3" cy="919.5" r="0.5" fill="#b4b8d0"/><circle cx="119.7" cy="905.2" r="0.5" fill="#9a9ab0"/><circle cx="110.9" cy="919.9" r="0.5" fill="#a0a8d0"/><circle cx="106.1" cy="909.1" r="0.5" fill="#a8a8b8"/><circle cx="98.2" cy="914.3" r="0.5" fill="#a8a8b8"/><circle cx="68.5" cy="916.5" r="0.5" fill="#9a9ab0"/><circle cx="108.6" cy="905.2" r="0.5" fill="#9a9ab0"/><circle cx="99.8" cy="902.2" r="0.5" fill="#9a9ab0"/><circle cx="95.0" cy="911.8" r="0.5" fill="#8c94c4"/><circle cx="82.4" cy="917.0" r="0.5" fill="#8088b8"/><circle cx="77.9" cy="914.5" r="0.5" fill="#8088b8"/><circle cx="104.4" cy="912.3" r="0.5" fill="#a0a8d0"/><circle cx="91.1" cy="909.7" r="0.5" fill="#8c94c4"/><circle cx="101.8" cy="914.9" r="0.5" fill="#b4b8d0"/><circle cx="118.4" cy="909.2" r="0.5" fill="#a0a8d0"/><circle cx="102.8" cy="904.9" r="0.5" fill="#b4b8d0"/><circle cx="70.1" cy="915.4" r="0.5" fill="#a8a8b8"/><circle cx="86.6" cy="915.7" r="0.5" fill="#a8a8b8"/><circle cx="141.7" cy="911.2" r="0.5" fill="#8c94c4"/><circle cx="100.7" cy="905.1" r="0.5" fill="#a8a8b8"/><circle cx="77.3" cy="901.1" r="0.5" fill="#8c94c4"/><circle cx="74.0" cy="903.2" r="0.5" fill="#a0a8d0"/><circle cx="103.9" cy="910.6" r="0.5" fill="#8088b8"/><circle cx="99.4" cy="915.6" r="0.5" fill="#b4b8d0"/><circle cx="91.7" cy="918.8" r="0.5" fill="#9a9ab0"/><circle cx="93.4" cy="903.1" r="0.5" fill="#9a9ab0"/><circle cx="97.8" cy="904.2" r="0.5" fill="#8088b8"/><circle cx="86.7" cy="916.6" r="0.5" fill="#a0a8d0"/><circle cx="100.7" cy="911.3" r="0.5" fill="#a8a8b8"/><circle cx="134.9" cy="909.6" r="0.5" fill="#b4b8d0"/><circle cx="101.9" cy="909.5" r="0.5" fill="#9a9ab0"/><circle cx="84.6" cy="913.8" r="0.5" fill="#8c94c4"/><circle cx="85.9" cy="903.7" r="0.5" fill="#b4b8d0"/><circle cx="80.0" cy="909.6" r="0.5" fill="#8088b8"/><circle cx="110.4" cy="894.4" r="0.5" fill="#8088b8"/><circle cx="90.3" cy="899.2" r="0.5" fill="#8c94c4"/><circle cx="83.5" cy="912.2" r="0.5" fill="#8088b8"/><circle cx="87.6" cy="907.1" r="0.5" fill="#8088b8"/><circle cx="102.5" cy="914.7" r="0.5" fill="#a8a8b8"/><circle cx="98.6" cy="901.2" r="0.5" fill="#a0a8d0"/><circle cx="101.0" cy="918.1" r="0.5" fill="#9a9ab0"/><circle cx="109.0" cy="911.2" r="0.5" fill="#a8a8b8"/><circle cx="100.2" cy="902.5" r="0.5" fill="#8088b8"/><circle cx="100.4" cy="904.6" r="0.5" fill="#a8a8b8"/><circle cx="103.8" cy="911.3" r="0.5" fill="#8c94c4"/><circle cx="90.2" cy="906.9" r="0.5" fill="#a0a8d0"/><circle cx="114.8" cy="909.3" r="0.5" fill="#9a9ab0"/><circle cx="86.1" cy="919.7" r="0.5" fill="#a0a8d0"/><circle cx="84.8" cy="916.2" r="0.5" fill="#8088b8"/><circle cx="74.1" cy="904.5" r="0.5" fill="#a0a8d0"/><circle cx="75.1" cy="908.1" r="0.5" fill="#a0a8d0"/><circle cx="89.5" cy="913.1" r="0.5" fill="#b4b8d0"/><circle cx="81.1" cy="915.1" r="0.5" fill="#b4b8d0"/><circle cx="103.0" cy="902.0" r="0.5" fill="#a8a8b8"/><circle cx="104.1" cy="917.7" r="0.5" fill="#8c94c4"/><circle cx="96.9" cy="902.3" r="0.5" fill="#b4b8d0"/><circle cx="114.2" cy="915.8" r="0.5" fill="#a0a8d0"/><circle cx="78.0" cy="911.5" r="0.5" fill="#9a9ab0"/><circle cx="97.6" cy="907.2" r="0.5" fill="#8088b8"/><circle cx="99.4" cy="897.8" r="0.5" fill="#a0a8d0"/><circle cx="93.1" cy="913.5" r="0.5" fill="#9a9ab0"/><circle cx="99.9" cy="899.2" r="0.5" fill="#8088b8"/><circle cx="115.3" cy="902.9" r="0.5" fill="#a0a8d0"/><circle cx="80.3" cy="912.5" r="0.5" fill="#b4b8d0"/><circle cx="97.1" cy="920.0" r="0.5" fill="#8c94c4"/><circle cx="105.4" cy="902.2" r="0.5" fill="#a0a8d0"/><circle cx="111.5" cy="906.1" r="0.5" fill="#9a9ab0"/><circle cx="83.8" cy="915.3" r="0.5" fill="#8088b8"/><circle cx="107.7" cy="913.2" r="0.5" fill="#9a9ab0"/>
<ellipse cx="90.6" cy="879.6" rx="17" ry="17.85" fill="url(#gE2)" />
<path d="M101.19,879.60 C101.23,881.14 100.59,882.92 99.86,884.28 C99.12,885.64 97.95,886.71 96.80,887.76 C95.66,888.82 94.40,890.21 92.99,890.59 C91.58,890.96 89.80,890.45 88.34,890.01 C86.87,889.58 85.41,888.95 84.22,888.00 C83.03,887.06 81.94,885.74 81.22,884.34 C80.50,882.94 79.99,881.24 79.88,879.60 C79.77,877.96 79.85,875.95 80.55,874.52 C81.24,873.08 82.80,872.04 84.06,870.99 C85.32,869.93 86.61,868.64 88.12,868.17 C89.62,867.70 91.61,867.67 93.08,868.17 C94.56,868.68 95.88,870.07 96.97,871.21 C98.06,872.36 98.91,873.65 99.61,875.04 C100.31,876.44 101.15,878.06 101.19,879.60 Z" fill="none" stroke="#7888c8" stroke-width="0.6" opacity="0.6"/>
<path d="M102.12,880.20 C102.05,882.01 101.78,883.86 101.11,885.52 C100.45,887.17 99.42,888.87 98.13,890.12 C96.84,891.37 95.07,892.66 93.38,893.01 C91.69,893.35 89.67,892.72 87.99,892.19 C86.32,891.65 84.67,890.88 83.32,889.78 C81.98,888.68 80.82,887.19 79.93,885.60 C79.04,884.00 77.96,881.99 77.98,880.20 C78.00,878.41 79.24,876.58 80.04,874.86 C80.83,873.14 81.45,871.10 82.75,869.86 C84.05,868.62 86.08,867.70 87.82,867.43 C89.57,867.15 91.46,867.77 93.20,868.22 C94.95,868.66 96.87,869.04 98.26,870.11 C99.66,871.18 100.92,872.98 101.56,874.66 C102.20,876.34 102.20,878.39 102.12,880.20 Z" fill="none" stroke="#7888c8" stroke-width="0.6" opacity="0.6"/>
<path d="M103.83,880.80 C103.89,882.82 103.52,885.07 102.73,886.93 C101.94,888.79 100.57,890.50 99.09,891.97 C97.61,893.44 95.78,895.24 93.85,895.76 C91.92,896.27 89.53,895.60 87.50,895.06 C85.47,894.53 83.15,893.92 81.68,892.55 C80.20,891.18 79.48,888.80 78.64,886.85 C77.80,884.89 76.83,882.91 76.65,880.80 C76.46,878.69 76.65,876.10 77.52,874.19 C78.40,872.28 80.25,870.73 81.88,869.33 C83.52,867.92 85.34,866.34 87.33,865.77 C89.33,865.19 91.87,865.25 93.84,865.88 C95.81,866.50 97.73,868.04 99.16,869.53 C100.58,871.03 101.63,872.95 102.41,874.83 C103.19,876.71 103.78,878.78 103.83,880.80 Z" fill="none" stroke="#7888c8" stroke-width="0.6" opacity="0.6"/>
<path d="M106.37,881.40 C106.42,883.79 105.86,886.42 104.91,888.64 C103.97,890.86 102.54,893.34 100.72,894.73 C98.90,896.12 96.26,896.49 93.99,896.98 C91.71,897.48 89.32,898.06 87.06,897.70 C84.79,897.35 82.26,896.31 80.39,894.84 C78.52,893.37 76.62,891.12 75.82,888.87 C75.01,886.63 75.48,883.85 75.55,881.40 C75.62,878.95 75.39,876.31 76.25,874.15 C77.11,871.98 78.90,869.84 80.71,868.38 C82.52,866.92 84.86,866.03 87.12,865.38 C89.38,864.74 92.06,863.97 94.27,864.49 C96.49,865.02 98.66,866.88 100.38,868.52 C102.11,870.16 103.60,872.17 104.60,874.32 C105.60,876.47 106.32,879.01 106.37,881.40 Z" fill="none" stroke="#7888c8" stroke-width="0.6" opacity="0.6"/>
<path d="M108.00,882.00 C107.99,884.66 107.41,887.51 106.38,889.98 C105.36,892.45 103.81,895.05 101.86,896.82 C99.90,898.59 97.19,899.98 94.64,900.60 C92.09,901.22 89.01,901.33 86.56,900.56 C84.12,899.80 82.04,897.71 79.96,896.00 C77.89,894.30 75.23,892.66 74.14,890.33 C73.04,887.99 73.22,884.67 73.42,882.00 C73.62,879.33 74.19,876.54 75.34,874.28 C76.49,872.03 78.42,870.13 80.31,868.46 C82.21,866.78 84.41,864.80 86.74,864.22 C89.07,863.65 91.90,864.33 94.30,864.98 C96.70,865.64 99.10,866.65 101.12,868.15 C103.14,869.65 105.28,871.69 106.43,874.00 C107.58,876.30 108.01,879.34 108.00,882.00 Z" fill="none" stroke="#7888c8" stroke-width="0.6" opacity="0.6"/>
<path d="M106.44,881.80 C106.46,884.87 105.31,888.06 104.08,891.04 C102.85,894.02 101.43,897.95 99.09,899.69 C96.74,901.43 93.02,901.52 90.00,901.50 C86.98,901.48 83.42,901.25 80.97,899.58 C78.52,897.90 76.91,894.40 75.31,891.44 C73.72,888.48 71.60,885.14 71.41,881.80 C71.22,878.46 72.49,874.23 74.15,871.40 C75.81,868.57 78.73,866.60 81.37,864.81 C84.01,863.01 87.20,860.49 90.00,860.64 C92.80,860.78 95.86,863.69 98.18,865.69 C100.51,867.69 102.58,869.95 103.96,872.64 C105.33,875.32 106.42,878.73 106.44,881.80 Z" fill="none" stroke="#7080b8" stroke-width="0.7" opacity="0.55"/>
<path d="M109.47,883.30 C109.18,887.13 108.14,890.81 106.62,894.21 C105.11,897.61 103.14,901.63 100.37,903.72 C97.60,905.80 93.45,906.76 90.00,906.74 C86.55,906.73 82.44,905.70 79.69,903.60 C76.94,901.50 75.32,897.52 73.50,894.13 C71.68,890.75 68.64,886.83 68.76,883.30 C68.87,879.77 72.37,876.30 74.19,872.92 C76.01,869.54 77.06,865.09 79.70,863.01 C82.33,860.92 86.76,860.02 90.00,860.41 C93.24,860.80 96.07,863.52 99.13,865.32 C102.19,867.13 106.64,868.25 108.36,871.25 C110.09,874.24 109.76,879.47 109.47,883.30 Z" fill="none" stroke="#7080b8" stroke-width="0.7" opacity="0.55"/>
<ellipse cx="77.5" cy="911.5" rx="13" ry="10" fill="url(#gEc)" />
<path d="M89.11,911.50 C89.17,913.41 88.90,915.75 87.61,917.31 C86.31,918.88 83.65,920.38 81.35,920.89 C79.06,921.40 76.18,920.98 73.85,920.39 C71.53,919.79 68.63,918.79 67.40,917.31 C66.17,915.83 66.49,913.46 66.45,911.50 C66.42,909.54 65.98,907.11 67.19,905.57 C68.40,904.02 71.35,902.77 73.70,902.23 C76.04,901.69 79.01,901.70 81.27,902.31 C83.53,902.92 85.97,904.35 87.28,905.88 C88.58,907.41 89.06,909.59 89.11,911.50 Z" fill="none" stroke="#8898d0" stroke-width="0.6" opacity="0.8"/>
<path d="M86.24,911.50 C86.32,912.86 85.86,914.66 84.84,915.72 C83.82,916.78 81.77,917.53 80.12,917.88 C78.46,918.22 76.52,918.18 74.92,917.78 C73.32,917.39 71.58,916.55 70.54,915.50 C69.50,914.45 68.58,912.77 68.69,911.50 C68.80,910.23 70.14,908.88 71.20,907.88 C72.26,906.88 73.53,906.00 75.04,905.50 C76.54,904.99 78.68,904.51 80.23,904.85 C81.78,905.19 83.35,906.45 84.35,907.56 C85.36,908.67 86.16,910.14 86.24,911.50 Z" fill="none" stroke="#8898d0" stroke-width="0.6" opacity="0.8"/>
<path d="M104,905 C108,900 114,902 115,908 C116,914 110,918 106,915" fill="none" stroke="#8890c0" stroke-width="0.7"/>
<path d="M108,900 C112,896 118,898 119,906 C120,914 112,920 104,918" fill="none" stroke="#8890c0" stroke-width="0.7"/>
<circle cx="165.1" cy="858.3" r="0.5" fill="#9a9ab0"/><circle cx="185.7" cy="886.8" r="0.5" fill="#a8a8b8"/><circle cx="180.3" cy="859.0" r="0.5" fill="#8c94c4"/><circle cx="192.2" cy="889.6" r="0.5" fill="#b4b8d0"/><circle cx="191.7" cy="879.7" r="0.5" fill="#9a9ab0"/><circle cx="177.5" cy="844.4" r="0.5" fill="#a8a8b8"/><circle cx="217.4" cy="872.5" r="0.5" fill="#a0a8d0"/><circle cx="205.7" cy="881.1" r="0.5" fill="#8088b8"/><circle cx="199.3" cy="840.4" r="0.5" fill="#9a9ab0"/><circle cx="161.9" cy="854.3" r="0.5" fill="#a8a8b8"/><circle cx="206.0" cy="868.5" r="0.5" fill="#8088b8"/><circle cx="207.8" cy="855.7" r="0.5" fill="#8088b8"/><circle cx="209.3" cy="883.3" r="0.5" fill="#8088b8"/><circle cx="194.5" cy="860.6" r="0.5" fill="#9a9ab0"/><circle cx="163.2" cy="848.1" r="0.5" fill="#a8a8b8"/><circle cx="168.8" cy="892.1" r="0.5" fill="#9a9ab0"/><circle cx="190.7" cy="861.3" r="0.5" fill="#b4b8d0"/><circle cx="193.3" cy="881.1" r="0.5" fill="#a0a8d0"/><circle cx="178.0" cy="859.6" r="0.5" fill="#9a9ab0"/><circle cx="203.1" cy="866.7" r="0.5" fill="#a8a8b8"/><circle cx="176.8" cy="850.4" r="0.5" fill="#8088b8"/><circle cx="201.3" cy="855.4" r="0.5" fill="#9a9ab0"/><circle cx="203.4" cy="855.4" r="0.5" fill="#9a9ab0"/><circle cx="208.3" cy="872.9" r="0.5" fill="#9a9ab0"/><circle cx="189.5" cy="866.2" r="0.5" fill="#9a9ab0"/><circle cx="216.6" cy="865.0" r="0.5" fill="#b4b8d0"/><circle cx="175.8" cy="844.0" r="0.5" fill="#9a9ab0"/><circle cx="190.7" cy="886.9" r="0.5" fill="#a8a8b8"/><circle cx="194.6" cy="860.4" r="0.5" fill="#8088b8"/><circle cx="183.9" cy="860.7" r="0.5" fill="#b4b8d0"/><circle cx="179.4" cy="854.0" r="0.5" fill="#a0a8d0"/><circle cx="230.2" cy="860.9" r="0.5" fill="#a8a8b8"/><circle cx="200.0" cy="868.6" r="0.5" fill="#8088b8"/><circle cx="181.3" cy="891.6" r="0.5" fill="#9a9ab0"/><circle cx="193.8" cy="857.6" r="0.5" fill="#b4b8d0"/><circle cx="213.5" cy="876.2" r="0.5" fill="#9a9ab0"/><circle cx="183.6" cy="849.3" r="0.5" fill="#8c94c4"/><circle cx="173.9" cy="857.1" r="0.5" fill="#a0a8d0"/><circle cx="197.9" cy="899.3" r="0.5" fill="#8088b8"/><circle cx="198.5" cy="872.7" r="0.5" fill="#a8a8b8"/><circle cx="207.2" cy="849.1" r="0.5" fill="#b4b8d0"/><circle cx="194.6" cy="877.1" r="0.5" fill="#a8a8b8"/><circle cx="192.1" cy="851.2" r="0.5" fill="#9a9ab0"/><circle cx="160.8" cy="839.9" r="0.5" fill="#8088b8"/><circle cx="177.7" cy="855.5" r="0.5" fill="#9a9ab0"/><circle cx="200.9" cy="860.0" r="0.5" fill="#8088b8"/><circle cx="193.5" cy="874.9" r="0.5" fill="#a0a8d0"/><circle cx="217.1" cy="861.7" r="0.5" fill="#9a9ab0"/><circle cx="177.0" cy="868.6" r="0.5" fill="#8c94c4"/><circle cx="173.9" cy="859.9" r="0.5" fill="#a0a8d0"/><circle cx="222.0" cy="850.6" r="0.5" fill="#8088b8"/><circle cx="193.5" cy="845.7" r="0.5" fill="#b4b8d0"/><circle cx="197.0" cy="855.6" r="0.5" fill="#8088b8"/><circle cx="189.7" cy="862.4" r="0.5" fill="#9a9ab0"/><circle cx="192.8" cy="863.8" r="0.5" fill="#b4b8d0"/><circle cx="185.0" cy="873.4" r="0.5" fill="#8c94c4"/><circle cx="190.0" cy="880.0" r="0.5" fill="#a8a8b8"/><circle cx="199.3" cy="862.7" r="0.5" fill="#a8a8b8"/><circle cx="209.2" cy="850.5" r="0.5" fill="#8c94c4"/><circle cx="208.5" cy="860.5" r="0.5" fill="#a0a8d0"/><circle cx="194.5" cy="859.3" r="0.5" fill="#b4b8d0"/><circle cx="196.3" cy="846.7" r="0.5" fill="#8c94c4"/><circle cx="191.6" cy="856.7" r="0.5" fill="#8088b8"/><circle cx="190.9" cy="876.1" r="0.5" fill="#8088b8"/><circle cx="163.3" cy="878.6" r="0.5" fill="#8088b8"/><circle cx="192.0" cy="848.3" r="0.5" fill="#a8a8b8"/><circle cx="193.9" cy="858.6" r="0.5" fill="#a8a8b8"/><circle cx="200.8" cy="852.0" r="0.5" fill="#8c94c4"/><circle cx="182.6" cy="878.1" r="0.5" fill="#a0a8d0"/><circle cx="216.7" cy="849.1" r="0.5" fill="#b4b8d0"/><circle cx="200.1" cy="870.0" r="0.5" fill="#a8a8b8"/><circle cx="172.0" cy="872.9" r="0.5" fill="#b4b8d0"/><circle cx="185.1" cy="869.8" r="0.5" fill="#8088b8"/><circle cx="199.2" cy="872.2" r="0.5" fill="#b4b8d0"/><circle cx="162.4" cy="874.2" r="0.5" fill="#8088b8"/><circle cx="166.5" cy="842.4" r="0.5" fill="#a8a8b8"/><circle cx="183.6" cy="858.7" r="0.5" fill="#8088b8"/><circle cx="208.1" cy="855.1" r="0.5" fill="#9a9ab0"/><circle cx="206.8" cy="857.9" r="0.5" fill="#8088b8"/><circle cx="194.8" cy="894.2" r="0.5" fill="#a0a8d0"/><circle cx="194.8" cy="846.4" r="0.5" fill="#9a9ab0"/><circle cx="176.3" cy="857.9" r="0.5" fill="#8088b8"/><circle cx="195.8" cy="850.2" r="0.5" fill="#a0a8d0"/><circle cx="174.3" cy="862.5" r="0.5" fill="#9a9ab0"/><circle cx="199.7" cy="862.3" r="0.5" fill="#b4b8d0"/><circle cx="197.7" cy="865.0" r="0.5" fill="#8088b8"/><circle cx="185.4" cy="868.3" r="0.5" fill="#9a9ab0"/><circle cx="204.3" cy="868.0" r="0.5" fill="#b4b8d0"/><circle cx="175.2" cy="896.8" r="0.5" fill="#a8a8b8"/><circle cx="190.5" cy="876.7" r="0.5" fill="#9a9ab0"/><circle cx="207.9" cy="853.5" r="0.5" fill="#a0a8d0"/><circle cx="158.3" cy="876.3" r="0.5" fill="#a8a8b8"/><circle cx="169.4" cy="839.3" r="0.5" fill="#9a9ab0"/><circle cx="192.8" cy="872.4" r="0.5" fill="#9a9ab0"/><circle cx="200.5" cy="848.4" r="0.5" fill="#9a9ab0"/><circle cx="204.1" cy="857.6" r="0.5" fill="#a8a8b8"/><circle cx="195.8" cy="874.5" r="0.5" fill="#8c94c4"/><circle cx="205.5" cy="847.5" r="0.5" fill="#9a9ab0"/><circle cx="184.1" cy="846.4" r="0.5" fill="#b4b8d0"/><circle cx="174.3" cy="847.4" r="0.5" fill="#b4b8d0"/><circle cx="219.9" cy="839.8" r="0.5" fill="#b4b8d0"/><circle cx="194.4" cy="872.0" r="0.5" fill="#9a9ab0"/><circle cx="190.1" cy="838.6" r="0.5" fill="#a0a8d0"/><circle cx="194.7" cy="883.1" r="0.5" fill="#b4b8d0"/><circle cx="211.8" cy="871.5" r="0.5" fill="#9a9ab0"/><circle cx="208.0" cy="855.6" r="0.5" fill="#b4b8d0"/><circle cx="194.5" cy="856.1" r="0.5" fill="#a0a8d0"/><circle cx="210.5" cy="844.3" r="0.5" fill="#a0a8d0"/><circle cx="186.2" cy="848.6" r="0.5" fill="#9a9ab0"/><circle cx="205.8" cy="843.5" r="0.5" fill="#a0a8d0"/><circle cx="185.1" cy="875.1" r="0.5" fill="#a0a8d0"/><circle cx="203.0" cy="848.4" r="0.5" fill="#b4b8d0"/><circle cx="216.9" cy="879.6" r="0.5" fill="#a8a8b8"/><circle cx="193.5" cy="865.4" r="0.5" fill="#b4b8d0"/><circle cx="198.0" cy="868.3" r="0.5" fill="#a0a8d0"/><circle cx="199.5" cy="863.7" r="0.5" fill="#b4b8d0"/><circle cx="222.3" cy="872.7" r="0.5" fill="#8088b8"/><circle cx="180.8" cy="847.3" r="0.5" fill="#a8a8b8"/><circle cx="183.5" cy="870.1" r="0.5" fill="#8088b8"/><circle cx="213.2" cy="866.6" r="0.5" fill="#a8a8b8"/><circle cx="173.9" cy="857.8" r="0.5" fill="#8c94c4"/><circle cx="188.6" cy="850.5" r="0.5" fill="#8088b8"/><circle cx="181.8" cy="875.8" r="0.5" fill="#a0a8d0"/><circle cx="192.8" cy="854.9" r="0.5" fill="#9a9ab0"/><circle cx="180.7" cy="873.7" r="0.5" fill="#b4b8d0"/><circle cx="184.9" cy="869.8" r="0.5" fill="#8088b8"/><circle cx="194.6" cy="855.1" r="0.5" fill="#8088b8"/><circle cx="206.4" cy="874.7" r="0.5" fill="#8c94c4"/><circle cx="206.5" cy="865.8" r="0.5" fill="#8c94c4"/><circle cx="184.6" cy="847.1" r="0.5" fill="#a8a8b8"/><circle cx="200.9" cy="887.8" r="0.5" fill="#8c94c4"/><circle cx="212.0" cy="864.3" r="0.5" fill="#8c94c4"/><circle cx="198.7" cy="870.2" r="0.5" fill="#a8a8b8"/><circle cx="185.6" cy="881.4" r="0.5" fill="#8088b8"/><circle cx="198.4" cy="862.7" r="0.5" fill="#8c94c4"/><circle cx="187.3" cy="856.8" r="0.5" fill="#9a9ab0"/><circle cx="179.1" cy="859.0" r="0.5" fill="#b4b8d0"/><circle cx="196.6" cy="859.7" r="0.5" fill="#b4b8d0"/><circle cx="210.0" cy="873.9" r="0.5" fill="#9a9ab0"/><circle cx="186.0" cy="857.2" r="0.5" fill="#8088b8"/><circle cx="196.2" cy="854.4" r="0.5" fill="#8c94c4"/><circle cx="182.0" cy="841.7" r="0.5" fill="#a0a8d0"/><circle cx="211.9" cy="878.0" r="0.5" fill="#8c94c4"/><circle cx="176.6" cy="863.0" r="0.5" fill="#a8a8b8"/><circle cx="191.1" cy="873.0" r="0.5" fill="#8088b8"/><circle cx="190.0" cy="841.7" r="0.5" fill="#a8a8b8"/><circle cx="194.4" cy="875.3" r="0.5" fill="#a0a8d0"/><circle cx="182.7" cy="847.8" r="0.5" fill="#a0a8d0"/><circle cx="171.3" cy="842.5" r="0.5" fill="#8088b8"/><circle cx="176.2" cy="865.2" r="0.5" fill="#9a9ab0"/><circle cx="200.0" cy="842.8" r="0.5" fill="#a0a8d0"/><circle cx="203.0" cy="859.2" r="0.5" fill="#9a9ab0"/><circle cx="203.1" cy="865.7" r="0.5" fill="#a8a8b8"/><circle cx="181.8" cy="874.1" r="0.5" fill="#a8a8b8"/><circle cx="210.4" cy="867.5" r="0.5" fill="#8c94c4"/><circle cx="210.5" cy="864.8" r="0.5" fill="#9a9ab0"/><circle cx="188.0" cy="849.4" r="0.5" fill="#a8a8b8"/><circle cx="179.1" cy="878.0" r="0.5" fill="#9a9ab0"/><circle cx="169.2" cy="845.7" r="0.5" fill="#8088b8"/><circle cx="176.7" cy="867.8" r="0.5" fill="#a0a8d0"/><circle cx="200.1" cy="863.2" r="0.5" fill="#8088b8"/><circle cx="201.3" cy="875.3" r="0.5" fill="#8088b8"/><circle cx="193.9" cy="862.1" r="0.5" fill="#b4b8d0"/><circle cx="175.5" cy="878.4" r="0.5" fill="#8c94c4"/><circle cx="190.1" cy="871.9" r="0.5" fill="#a8a8b8"/><circle cx="227.3" cy="866.0" r="0.5" fill="#b4b8d0"/><circle cx="184.1" cy="877.1" r="0.5" fill="#b4b8d0"/><circle cx="188.4" cy="850.9" r="0.5" fill="#a8a8b8"/><circle cx="205.4" cy="851.7" r="0.5" fill="#a0a8d0"/><circle cx="205.9" cy="872.8" r="0.5" fill="#9a9ab0"/><circle cx="206.5" cy="872.8" r="0.5" fill="#8088b8"/><circle cx="191.2" cy="878.4" r="0.5" fill="#8088b8"/><circle cx="179.2" cy="872.4" r="0.5" fill="#9a9ab0"/><circle cx="193.7" cy="868.8" r="0.5" fill="#9a9ab0"/><circle cx="195.2" cy="864.8" r="0.5" fill="#9a9ab0"/><circle cx="193.1" cy="851.3" r="0.5" fill="#8088b8"/><circle cx="205.2" cy="887.8" r="0.5" fill="#8088b8"/><circle cx="212.6" cy="859.2" r="0.5" fill="#b4b8d0"/><circle cx="195.4" cy="860.2" r="0.5" fill="#a8a8b8"/><circle cx="177.0" cy="865.9" r="0.5" fill="#8088b8"/><circle cx="172.9" cy="856.9" r="0.5" fill="#8c94c4"/><circle cx="197.4" cy="862.9" r="0.5" fill="#a0a8d0"/><circle cx="187.8" cy="881.3" r="0.5" fill="#b4b8d0"/><circle cx="187.0" cy="854.8" r="0.5" fill="#9a9ab0"/><circle cx="197.2" cy="874.5" r="0.5" fill="#a8a8b8"/><circle cx="204.5" cy="882.8" r="0.5" fill="#9a9ab0"/><circle cx="203.9" cy="856.4" r="0.5" fill="#a0a8d0"/><circle cx="156.7" cy="847.1" r="0.5" fill="#9a9ab0"/><circle cx="179.6" cy="845.1" r="0.5" fill="#a8a8b8"/><circle cx="184.2" cy="866.7" r="0.5" fill="#8088b8"/><circle cx="164.2" cy="875.6" r="0.5" fill="#9a9ab0"/><circle cx="179.4" cy="864.9" r="0.5" fill="#8c94c4"/><circle cx="191.9" cy="854.0" r="0.5" fill="#9a9ab0"/><circle cx="215.7" cy="867.7" r="0.5" fill="#9a9ab0"/><circle cx="193.4" cy="855.8" r="0.5" fill="#8088b8"/><circle cx="199.8" cy="868.8" r="0.5" fill="#8c94c4"/><circle cx="197.5" cy="848.7" r="0.5" fill="#b4b8d0"/><circle cx="201.6" cy="847.9" r="0.5" fill="#a0a8d0"/><circle cx="181.6" cy="863.7" r="0.5" fill="#a0a8d0"/><circle cx="197.0" cy="847.2" r="0.5" fill="#a0a8d0"/><circle cx="198.4" cy="879.1" r="0.5" fill="#8c94c4"/><circle cx="182.3" cy="867.9" r="0.5" fill="#9a9ab0"/><circle cx="176.5" cy="852.0" r="0.5" fill="#9a9ab0"/><circle cx="171.2" cy="868.8" r="0.5" fill="#9a9ab0"/><circle cx="185.6" cy="900.4" r="0.5" fill="#b4b8d0"/><circle cx="190.6" cy="878.4" r="0.5" fill="#a8a8b8"/><circle cx="217.7" cy="863.5" r="0.5" fill="#b4b8d0"/><circle cx="205.6" cy="861.2" r="0.5" fill="#a0a8d0"/><circle cx="189.0" cy="857.8" r="0.5" fill="#9a9ab0"/><circle cx="211.7" cy="880.9" r="0.5" fill="#a8a8b8"/><circle cx="184.5" cy="870.8" r="0.5" fill="#9a9ab0"/><circle cx="185.3" cy="839.9" r="0.5" fill="#8c94c4"/><circle cx="192.3" cy="879.6" r="0.5" fill="#b4b8d0"/><circle cx="198.6" cy="848.5" r="0.5" fill="#a8a8b8"/><circle cx="175.7" cy="885.3" r="0.5" fill="#a0a8d0"/><circle cx="167.4" cy="843.2" r="0.5" fill="#9a9ab0"/><circle cx="202.8" cy="856.0" r="0.5" fill="#8088b8"/><circle cx="192.6" cy="860.6" r="0.5" fill="#a8a8b8"/><circle cx="192.9" cy="859.8" r="0.5" fill="#8088b8"/><circle cx="190.0" cy="843.1" r="0.5" fill="#a0a8d0"/><circle cx="190.1" cy="858.4" r="0.5" fill="#9a9ab0"/><circle cx="199.4" cy="842.7" r="0.5" fill="#8088b8"/><circle cx="185.3" cy="869.4" r="0.5" fill="#8088b8"/><circle cx="195.4" cy="850.9" r="0.5" fill="#a8a8b8"/><circle cx="192.5" cy="863.9" r="0.5" fill="#b4b8d0"/><circle cx="213.2" cy="876.5" r="0.5" fill="#a8a8b8"/><circle cx="202.4" cy="855.7" r="0.5" fill="#a8a8b8"/><circle cx="208.3" cy="855.0" r="0.5" fill="#b4b8d0"/><circle cx="181.8" cy="859.3" r="0.5" fill="#a0a8d0"/><circle cx="186.0" cy="880.5" r="0.5" fill="#a0a8d0"/><circle cx="172.0" cy="867.5" r="0.5" fill="#9a9ab0"/><circle cx="198.9" cy="867.8" r="0.5" fill="#8c94c4"/><circle cx="199.8" cy="887.5" r="0.5" fill="#9a9ab0"/><circle cx="179.8" cy="860.4" r="0.5" fill="#8c94c4"/><circle cx="206.5" cy="868.5" r="0.5" fill="#8088b8"/><circle cx="169.3" cy="869.0" r="0.5" fill="#a8a8b8"/><circle cx="203.0" cy="880.7" r="0.5" fill="#9a9ab0"/><circle cx="168.9" cy="863.2" r="0.5" fill="#8c94c4"/><circle cx="175.5" cy="860.2" r="0.5" fill="#8088b8"/><circle cx="195.3" cy="860.4" r="0.5" fill="#8c94c4"/><circle cx="189.5" cy="882.5" r="0.5" fill="#a0a8d0"/><circle cx="204.9" cy="890.1" r="0.5" fill="#8088b8"/><circle cx="179.8" cy="853.6" r="0.5" fill="#a8a8b8"/><circle cx="220.2" cy="859.3" r="0.5" fill="#a8a8b8"/><circle cx="194.5" cy="873.3" r="0.5" fill="#a0a8d0"/><circle cx="166.7" cy="891.7" r="0.5" fill="#a8a8b8"/><circle cx="203.1" cy="876.2" r="0.5" fill="#8c94c4"/><circle cx="206.7" cy="871.0" r="0.5" fill="#9a9ab0"/><circle cx="181.5" cy="850.9" r="0.5" fill="#b4b8d0"/><circle cx="204.4" cy="856.8" r="0.5" fill="#a0a8d0"/><circle cx="210.7" cy="847.9" r="0.5" fill="#a0a8d0"/><circle cx="192.6" cy="873.9" r="0.5" fill="#b4b8d0"/><circle cx="231.4" cy="857.4" r="0.5" fill="#a0a8d0"/><circle cx="197.3" cy="876.2" r="0.5" fill="#8088b8"/><circle cx="185.7" cy="872.0" r="0.5" fill="#8c94c4"/><circle cx="198.2" cy="879.3" r="0.5" fill="#9a9ab0"/><circle cx="188.0" cy="875.9" r="0.5" fill="#8088b8"/><circle cx="174.6" cy="873.9" r="0.5" fill="#a0a8d0"/><circle cx="196.1" cy="882.4" r="0.5" fill="#8088b8"/><circle cx="179.5" cy="856.2" r="0.5" fill="#a0a8d0"/><circle cx="179.7" cy="885.7" r="0.5" fill="#b4b8d0"/><circle cx="202.6" cy="858.1" r="0.5" fill="#a0a8d0"/><circle cx="201.8" cy="858.5" r="0.5" fill="#8c94c4"/><circle cx="204.9" cy="874.6" r="0.5" fill="#9a9ab0"/><circle cx="187.2" cy="839.8" r="0.5" fill="#8c94c4"/><circle cx="193.1" cy="899.8" r="0.5" fill="#a0a8d0"/><circle cx="190.2" cy="864.6" r="0.5" fill="#a0a8d0"/><circle cx="171.1" cy="892.9" r="0.5" fill="#8088b8"/><circle cx="190.2" cy="855.6" r="0.5" fill="#a8a8b8"/><circle cx="191.8" cy="868.1" r="0.5" fill="#9a9ab0"/><circle cx="184.8" cy="869.5" r="0.5" fill="#a0a8d0"/><circle cx="187.4" cy="846.7" r="0.5" fill="#8c94c4"/><circle cx="199.7" cy="875.7" r="0.5" fill="#8c94c4"/><circle cx="209.0" cy="852.2" r="0.5" fill="#9a9ab0"/><circle cx="176.7" cy="859.4" r="0.5" fill="#a0a8d0"/><circle cx="174.1" cy="852.3" r="0.5" fill="#9a9ab0"/><circle cx="169.4" cy="891.2" r="0.5" fill="#8c94c4"/><circle cx="175.6" cy="869.1" r="0.5" fill="#a0a8d0"/><circle cx="224.6" cy="866.9" r="0.5" fill="#a8a8b8"/><circle cx="188.4" cy="869.2" r="0.5" fill="#8c94c4"/><circle cx="200.4" cy="877.6" r="0.5" fill="#8c94c4"/><circle cx="168.3" cy="873.3" r="0.5" fill="#a0a8d0"/><circle cx="197.5" cy="863.9" r="0.5" fill="#8c94c4"/><circle cx="193.8" cy="862.2" r="0.5" fill="#8088b8"/><circle cx="196.1" cy="867.1" r="0.5" fill="#a8a8b8"/><circle cx="199.9" cy="889.1" r="0.5" fill="#a8a8b8"/><circle cx="197.1" cy="863.0" r="0.5" fill="#b4b8d0"/><circle cx="185.7" cy="857.3" r="0.5" fill="#a0a8d0"/><circle cx="201.6" cy="849.5" r="0.5" fill="#8c94c4"/><circle cx="167.9" cy="860.0" r="0.5" fill="#9a9ab0"/><circle cx="201.4" cy="891.1" r="0.5" fill="#b4b8d0"/><circle cx="186.9" cy="853.7" r="0.5" fill="#a8a8b8"/><circle cx="195.8" cy="878.0" r="0.5" fill="#a0a8d0"/><circle cx="173.3" cy="874.6" r="0.5" fill="#8c94c4"/><circle cx="186.0" cy="855.1" r="0.5" fill="#a8a8b8"/><circle cx="172.7" cy="845.1" r="0.5" fill="#9a9ab0"/><circle cx="195.8" cy="865.6" r="0.5" fill="#a8a8b8"/><circle cx="201.9" cy="877.1" r="0.5" fill="#b4b8d0"/><circle cx="197.2" cy="870.0" r="0.5" fill="#a0a8d0"/><circle cx="193.0" cy="853.2" r="0.5" fill="#9a9ab0"/><circle cx="194.1" cy="849.3" r="0.5" fill="#a8a8b8"/><circle cx="191.6" cy="850.3" r="0.5" fill="#a8a8b8"/><circle cx="190.8" cy="879.4" r="0.5" fill="#8088b8"/><circle cx="201.9" cy="883.4" r="0.5" fill="#a0a8d0"/><circle cx="164.8" cy="860.6" r="0.5" fill="#8088b8"/><circle cx="175.9" cy="853.5" r="0.5" fill="#9a9ab0"/><circle cx="219.4" cy="839.0" r="0.5" fill="#a8a8b8"/><circle cx="176.5" cy="862.2" r="0.5" fill="#8c94c4"/><circle cx="192.6" cy="879.6" r="0.5" fill="#8c94c4"/><circle cx="187.1" cy="862.6" r="0.5" fill="#9a9ab0"/><circle cx="178.3" cy="857.1" r="0.5" fill="#a8a8b8"/><circle cx="189.4" cy="868.9" r="0.5" fill="#8088b8"/><circle cx="182.1" cy="864.5" r="0.5" fill="#8c94c4"/><circle cx="176.1" cy="859.5" r="0.5" fill="#9a9ab0"/><circle cx="186.3" cy="875.1" r="0.5" fill="#b4b8d0"/><circle cx="176.3" cy="841.4" r="0.5" fill="#8c94c4"/><circle cx="196.6" cy="850.0" r="0.5" fill="#b4b8d0"/><circle cx="171.6" cy="880.2" r="0.5" fill="#8c94c4"/><circle cx="205.5" cy="882.8" r="0.5" fill="#8088b8"/><circle cx="194.6" cy="876.4" r="0.5" fill="#9a9ab0"/><circle cx="201.2" cy="871.4" r="0.5" fill="#8c94c4"/><circle cx="197.8" cy="859.7" r="0.5" fill="#a0a8d0"/><circle cx="184.8" cy="850.4" r="0.5" fill="#9a9ab0"/><circle cx="171.9" cy="872.7" r="0.5" fill="#a0a8d0"/><circle cx="185.2" cy="854.3" r="0.5" fill="#8088b8"/><circle cx="192.7" cy="855.2" r="0.5" fill="#b4b8d0"/><circle cx="209.4" cy="862.1" r="0.5" fill="#8088b8"/><circle cx="219.9" cy="847.1" r="0.5" fill="#b4b8d0"/><circle cx="199.4" cy="857.9" r="0.5" fill="#b4b8d0"/><circle cx="188.0" cy="874.5" r="0.5" fill="#8c94c4"/><circle cx="201.7" cy="856.1" r="0.5" fill="#a8a8b8"/><circle cx="194.3" cy="843.5" r="0.5" fill="#8c94c4"/><circle cx="205.6" cy="870.5" r="0.5" fill="#b4b8d0"/><circle cx="187.1" cy="897.4" r="0.5" fill="#9a9ab0"/><circle cx="183.3" cy="868.5" r="0.5" fill="#a0a8d0"/><circle cx="181.8" cy="859.4" r="0.5" fill="#8088b8"/><circle cx="199.3" cy="848.1" r="0.5" fill="#a8a8b8"/><circle cx="201.2" cy="858.1" r="0.5" fill="#a8a8b8"/><circle cx="182.2" cy="864.5" r="0.5" fill="#b4b8d0"/><circle cx="183.4" cy="841.4" r="0.5" fill="#9a9ab0"/><circle cx="184.5" cy="852.4" r="0.5" fill="#8088b8"/><circle cx="199.1" cy="854.2" r="0.5" fill="#b4b8d0"/><circle cx="195.5" cy="859.9" r="0.5" fill="#8088b8"/><circle cx="172.3" cy="878.4" r="0.5" fill="#a0a8d0"/><circle cx="194.3" cy="874.9" r="0.5" fill="#b4b8d0"/><circle cx="201.0" cy="857.7" r="0.5" fill="#9a9ab0"/><circle cx="174.2" cy="879.7" r="0.5" fill="#8c94c4"/><circle cx="185.3" cy="866.0" r="0.5" fill="#a0a8d0"/><circle cx="198.1" cy="854.3" r="0.5" fill="#8088b8"/><circle cx="188.8" cy="883.9" r="0.5" fill="#9a9ab0"/><circle cx="205.6" cy="839.8" r="0.5" fill="#a8a8b8"/><circle cx="202.0" cy="861.0" r="0.5" fill="#b4b8d0"/><circle cx="189.0" cy="863.3" r="0.5" fill="#9a9ab0"/><circle cx="197.6" cy="866.1" r="0.5" fill="#8088b8"/><circle cx="186.4" cy="846.2" r="0.5" fill="#a0a8d0"/><circle cx="180.1" cy="865.6" r="0.5" fill="#b4b8d0"/><circle cx="184.6" cy="862.0" r="0.5" fill="#8c94c4"/><circle cx="210.5" cy="891.2" r="0.5" fill="#8c94c4"/><circle cx="204.1" cy="869.8" r="0.5" fill="#b4b8d0"/><circle cx="226.6" cy="884.0" r="0.5" fill="#9a9ab0"/><circle cx="176.4" cy="851.1" r="0.5" fill="#9a9ab0"/><circle cx="185.2" cy="862.7" r="0.5" fill="#9a9ab0"/><circle cx="178.6" cy="898.4" r="0.5" fill="#9a9ab0"/><circle cx="189.2" cy="868.4" r="0.5" fill="#8c94c4"/><circle cx="196.4" cy="850.5" r="0.5" fill="#8088b8"/><circle cx="189.8" cy="861.9" r="0.5" fill="#b4b8d0"/><circle cx="189.5" cy="862.9" r="0.5" fill="#b4b8d0"/><circle cx="200.8" cy="862.4" r="0.5" fill="#a0a8d0"/><circle cx="194.5" cy="881.0" r="0.5" fill="#a8a8b8"/><circle cx="169.7" cy="847.5" r="0.5" fill="#8088b8"/><circle cx="164.6" cy="866.4" r="0.5" fill="#9a9ab0"/><circle cx="182.0" cy="869.2" r="0.5" fill="#a8a8b8"/><circle cx="177.0" cy="858.1" r="0.5" fill="#8088b8"/><circle cx="187.1" cy="896.1" r="0.5" fill="#b4b8d0"/><circle cx="166.8" cy="881.2" r="0.5" fill="#8c94c4"/><circle cx="165.1" cy="875.5" r="0.5" fill="#9a9ab0"/><circle cx="182.2" cy="859.9" r="0.5" fill="#8088b8"/><circle cx="172.3" cy="858.1" r="0.5" fill="#9a9ab0"/><circle cx="198.6" cy="860.7" r="0.5" fill="#a8a8b8"/><circle cx="181.5" cy="860.8" r="0.5" fill="#b4b8d0"/><circle cx="207.8" cy="854.7" r="0.5" fill="#8c94c4"/><circle cx="207.1" cy="860.8" r="0.5" fill="#8c94c4"/><circle cx="169.5" cy="886.0" r="0.5" fill="#a8a8b8"/><circle cx="197.7" cy="870.9" r="0.5" fill="#9a9ab0"/><circle cx="209.3" cy="864.1" r="0.5" fill="#8088b8"/><circle cx="191.3" cy="857.9" r="0.5" fill="#8088b8"/><circle cx="176.7" cy="869.6" r="0.5" fill="#8c94c4"/><circle cx="185.4" cy="883.1" r="0.5" fill="#8c94c4"/><circle cx="171.4" cy="871.1" r="0.5" fill="#8088b8"/><circle cx="176.5" cy="880.0" r="0.5" fill="#8088b8"/><circle cx="216.3" cy="855.9" r="0.5" fill="#9a9ab0"/><circle cx="213.1" cy="869.8" r="0.5" fill="#b4b8d0"/><circle cx="202.8" cy="863.1" r="0.5" fill="#8c94c4"/><circle cx="216.9" cy="874.9" r="0.5" fill="#8c94c4"/><circle cx="226.9" cy="876.1" r="0.5" fill="#b4b8d0"/><circle cx="221.9" cy="864.9" r="0.5" fill="#9a9ab0"/><circle cx="217.2" cy="853.3" r="0.5" fill="#9a9ab0"/><circle cx="190.9" cy="866.1" r="0.5" fill="#8088b8"/><circle cx="167.7" cy="849.1" r="0.5" fill="#8c94c4"/><circle cx="196.8" cy="865.8" r="0.5" fill="#b4b8d0"/><circle cx="199.0" cy="875.8" r="0.5" fill="#b4b8d0"/><circle cx="190.6" cy="864.3" r="0.5" fill="#8c94c4"/><circle cx="174.3" cy="872.6" r="0.5" fill="#a8a8b8"/><circle cx="175.3" cy="847.8" r="0.5" fill="#8c94c4"/><circle cx="178.3" cy="857.4" r="0.5" fill="#8088b8"/><circle cx="184.8" cy="882.0" r="0.5" fill="#a0a8d0"/><circle cx="197.1" cy="857.7" r="0.5" fill="#a8a8b8"/><circle cx="173.7" cy="858.9" r="0.5" fill="#a0a8d0"/><circle cx="178.3" cy="872.4" r="0.5" fill="#a0a8d0"/><circle cx="201.1" cy="872.9" r="0.5" fill="#8c94c4"/><circle cx="184.6" cy="852.9" r="0.5" fill="#a8a8b8"/><circle cx="192.1" cy="858.0" r="0.5" fill="#8c94c4"/><circle cx="176.3" cy="862.2" r="0.5" fill="#8c94c4"/><circle cx="199.1" cy="873.0" r="0.5" fill="#b4b8d0"/><circle cx="184.4" cy="867.2" r="0.5" fill="#8c94c4"/><circle cx="196.5" cy="841.0" r="0.5" fill="#a0a8d0"/><circle cx="185.6" cy="858.7" r="0.5" fill="#a0a8d0"/><circle cx="162.5" cy="869.2" r="0.5" fill="#a0a8d0"/><circle cx="204.8" cy="846.3" r="0.5" fill="#a8a8b8"/><circle cx="195.5" cy="867.1" r="0.5" fill="#a0a8d0"/>
<circle cx="201.6" cy="918.0" r="0.5" fill="#9a9ab0"/><circle cx="178.3" cy="901.9" r="0.5" fill="#9a9ab0"/><circle cx="171.3" cy="907.8" r="0.5" fill="#9a9ab0"/><circle cx="196.9" cy="903.3" r="0.5" fill="#8088b8"/><circle cx="170.4" cy="891.9" r="0.5" fill="#a0a8d0"/><circle cx="195.2" cy="911.3" r="0.5" fill="#9a9ab0"/><circle cx="174.9" cy="903.2" r="0.5" fill="#a8a8b8"/><circle cx="216.7" cy="896.5" r="0.5" fill="#b4b8d0"/><circle cx="191.9" cy="913.4" r="0.5" fill="#8c94c4"/><circle cx="175.7" cy="913.7" r="0.5" fill="#a8a8b8"/><circle cx="171.2" cy="910.6" r="0.5" fill="#8088b8"/><circle cx="172.9" cy="901.5" r="0.5" fill="#8c94c4"/><circle cx="182.4" cy="917.4" r="0.5" fill="#8088b8"/><circle cx="208.4" cy="916.8" r="0.5" fill="#a8a8b8"/><circle cx="191.8" cy="900.4" r="0.5" fill="#a8a8b8"/><circle cx="178.8" cy="897.1" r="0.5" fill="#b4b8d0"/><circle cx="159.4" cy="905.0" r="0.5" fill="#a8a8b8"/><circle cx="193.1" cy="912.7" r="0.5" fill="#9a9ab0"/><circle cx="198.5" cy="889.5" r="0.5" fill="#a8a8b8"/><circle cx="178.9" cy="904.9" r="0.5" fill="#a0a8d0"/><circle cx="162.7" cy="907.5" r="0.5" fill="#a0a8d0"/><circle cx="171.6" cy="897.0" r="0.5" fill="#a0a8d0"/><circle cx="223.1" cy="899.5" r="0.5" fill="#b4b8d0"/><circle cx="198.6" cy="890.0" r="0.5" fill="#a8a8b8"/><circle cx="188.1" cy="905.0" r="0.5" fill="#a0a8d0"/><circle cx="194.1" cy="888.7" r="0.5" fill="#8c94c4"/><circle cx="197.5" cy="914.5" r="0.5" fill="#9a9ab0"/><circle cx="179.2" cy="892.9" r="0.5" fill="#9a9ab0"/><circle cx="200.4" cy="912.4" r="0.5" fill="#8088b8"/><circle cx="184.4" cy="910.4" r="0.5" fill="#a8a8b8"/><circle cx="183.9" cy="905.6" r="0.5" fill="#8088b8"/><circle cx="158.1" cy="895.2" r="0.5" fill="#b4b8d0"/><circle cx="216.0" cy="906.4" r="0.5" fill="#b4b8d0"/><circle cx="185.2" cy="905.6" r="0.5" fill="#8088b8"/><circle cx="190.9" cy="896.7" r="0.5" fill="#b4b8d0"/><circle cx="160.1" cy="907.5" r="0.5" fill="#b4b8d0"/><circle cx="209.7" cy="891.3" r="0.5" fill="#a0a8d0"/><circle cx="197.5" cy="913.7" r="0.5" fill="#a8a8b8"/><circle cx="185.8" cy="909.0" r="0.5" fill="#8c94c4"/><circle cx="221.6" cy="899.6" r="0.5" fill="#a8a8b8"/><circle cx="196.8" cy="911.0" r="0.5" fill="#8c94c4"/><circle cx="202.9" cy="916.0" r="0.5" fill="#a0a8d0"/><circle cx="200.7" cy="911.6" r="0.5" fill="#8088b8"/><circle cx="173.5" cy="912.0" r="0.5" fill="#8c94c4"/><circle cx="183.8" cy="897.1" r="0.5" fill="#b4b8d0"/><circle cx="198.7" cy="897.9" r="0.5" fill="#8088b8"/><circle cx="191.3" cy="906.0" r="0.5" fill="#b4b8d0"/><circle cx="190.2" cy="903.4" r="0.5" fill="#9a9ab0"/><circle cx="180.2" cy="908.2" r="0.5" fill="#9a9ab0"/><circle cx="194.2" cy="910.2" r="0.5" fill="#a8a8b8"/><circle cx="182.3" cy="902.9" r="0.5" fill="#9a9ab0"/><circle cx="196.7" cy="900.0" r="0.5" fill="#8088b8"/><circle cx="192.4" cy="895.1" r="0.5" fill="#8c94c4"/><circle cx="189.7" cy="909.5" r="0.5" fill="#b4b8d0"/><circle cx="228.8" cy="891.6" r="0.5" fill="#a0a8d0"/><circle cx="190.1" cy="891.6" r="0.5" fill="#a0a8d0"/><circle cx="170.1" cy="914.5" r="0.5" fill="#a8a8b8"/><circle cx="166.5" cy="905.6" r="0.5" fill="#b4b8d0"/><circle cx="177.2" cy="897.1" r="0.5" fill="#8c94c4"/><circle cx="204.2" cy="894.6" r="0.5" fill="#a0a8d0"/><circle cx="210.0" cy="907.0" r="0.5" fill="#9a9ab0"/><circle cx="181.4" cy="894.5" r="0.5" fill="#9a9ab0"/><circle cx="194.2" cy="916.9" r="0.5" fill="#a8a8b8"/><circle cx="185.4" cy="904.6" r="0.5" fill="#a0a8d0"/><circle cx="192.3" cy="920.0" r="0.5" fill="#9a9ab0"/><circle cx="211.0" cy="907.0" r="0.5" fill="#a8a8b8"/><circle cx="170.6" cy="905.5" r="0.5" fill="#a0a8d0"/><circle cx="211.5" cy="898.2" r="0.5" fill="#8088b8"/><circle cx="186.8" cy="909.2" r="0.5" fill="#8088b8"/><circle cx="182.4" cy="898.0" r="0.5" fill="#8c94c4"/><circle cx="174.1" cy="901.2" r="0.5" fill="#a8a8b8"/><circle cx="220.2" cy="907.2" r="0.5" fill="#8088b8"/><circle cx="174.1" cy="903.4" r="0.5" fill="#a0a8d0"/><circle cx="206.1" cy="904.5" r="0.5" fill="#a0a8d0"/><circle cx="191.1" cy="909.1" r="0.5" fill="#8088b8"/><circle cx="191.6" cy="904.4" r="0.5" fill="#8088b8"/><circle cx="170.8" cy="898.9" r="0.5" fill="#a8a8b8"/><circle cx="179.0" cy="896.3" r="0.5" fill="#a0a8d0"/><circle cx="197.0" cy="915.0" r="0.5" fill="#a8a8b8"/><circle cx="186.4" cy="913.6" r="0.5" fill="#a0a8d0"/><circle cx="165.6" cy="914.8" r="0.5" fill="#a8a8b8"/><circle cx="218.6" cy="900.3" r="0.5" fill="#8088b8"/><circle cx="195.2" cy="918.9" r="0.5" fill="#a8a8b8"/><circle cx="234.5" cy="914.0" r="0.5" fill="#a0a8d0"/><circle cx="180.6" cy="908.5" r="0.5" fill="#9a9ab0"/><circle cx="179.1" cy="911.1" r="0.5" fill="#8c94c4"/><circle cx="221.7" cy="893.9" r="0.5" fill="#a0a8d0"/><circle cx="186.0" cy="907.3" r="0.5" fill="#9a9ab0"/><circle cx="192.0" cy="912.4" r="0.5" fill="#a0a8d0"/><circle cx="172.8" cy="900.5" r="0.5" fill="#a8a8b8"/><circle cx="196.6" cy="917.5" r="0.5" fill="#a0a8d0"/><circle cx="182.4" cy="910.6" r="0.5" fill="#a0a8d0"/><circle cx="170.9" cy="893.3" r="0.5" fill="#9a9ab0"/><circle cx="178.7" cy="916.8" r="0.5" fill="#8088b8"/><circle cx="176.4" cy="915.8" r="0.5" fill="#8088b8"/><circle cx="179.6" cy="912.1" r="0.5" fill="#9a9ab0"/><circle cx="190.5" cy="916.1" r="0.5" fill="#b4b8d0"/><circle cx="191.8" cy="899.0" r="0.5" fill="#a0a8d0"/><circle cx="168.0" cy="890.5" r="0.5" fill="#b4b8d0"/><circle cx="172.1" cy="913.8" r="0.5" fill="#a0a8d0"/><circle cx="171.1" cy="907.0" r="0.5" fill="#b4b8d0"/><circle cx="180.6" cy="898.3" r="0.5" fill="#9a9ab0"/><circle cx="210.6" cy="901.0" r="0.5" fill="#a0a8d0"/><circle cx="186.7" cy="907.8" r="0.5" fill="#b4b8d0"/><circle cx="203.9" cy="905.8" r="0.5" fill="#a8a8b8"/><circle cx="209.3" cy="903.8" r="0.5" fill="#8088b8"/><circle cx="164.7" cy="918.1" r="0.5" fill="#b4b8d0"/><circle cx="189.4" cy="889.0" r="0.5" fill="#8c94c4"/><circle cx="161.6" cy="912.3" r="0.5" fill="#a8a8b8"/><circle cx="232.7" cy="899.8" r="0.5" fill="#b4b8d0"/><circle cx="172.2" cy="915.5" r="0.5" fill="#a8a8b8"/><circle cx="171.2" cy="909.4" r="0.5" fill="#b4b8d0"/><circle cx="173.3" cy="903.0" r="0.5" fill="#8088b8"/><circle cx="195.4" cy="907.6" r="0.5" fill="#8088b8"/><circle cx="168.0" cy="905.2" r="0.5" fill="#9a9ab0"/><circle cx="158.7" cy="912.3" r="0.5" fill="#8088b8"/><circle cx="209.0" cy="898.1" r="0.5" fill="#a8a8b8"/><circle cx="176.1" cy="903.0" r="0.5" fill="#a0a8d0"/><circle cx="192.4" cy="906.4" r="0.5" fill="#a0a8d0"/><circle cx="175.8" cy="910.5" r="0.5" fill="#8088b8"/><circle cx="197.9" cy="904.5" r="0.5" fill="#9a9ab0"/><circle cx="206.6" cy="890.9" r="0.5" fill="#a8a8b8"/><circle cx="201.8" cy="909.1" r="0.5" fill="#9a9ab0"/><circle cx="193.9" cy="919.8" r="0.5" fill="#b4b8d0"/><circle cx="191.0" cy="910.4" r="0.5" fill="#9a9ab0"/><circle cx="172.0" cy="920.4" r="0.5" fill="#a0a8d0"/><circle cx="180.5" cy="887.7" r="0.5" fill="#8c94c4"/><circle cx="195.3" cy="892.8" r="0.5" fill="#8088b8"/><circle cx="178.2" cy="902.5" r="0.5" fill="#a8a8b8"/><circle cx="215.8" cy="906.6" r="0.5" fill="#b4b8d0"/><circle cx="194.2" cy="902.1" r="0.5" fill="#a0a8d0"/><circle cx="203.8" cy="895.4" r="0.5" fill="#b4b8d0"/><circle cx="171.4" cy="910.6" r="0.5" fill="#a8a8b8"/><circle cx="169.2" cy="901.5" r="0.5" fill="#8c94c4"/><circle cx="215.9" cy="898.4" r="0.5" fill="#b4b8d0"/><circle cx="197.0" cy="907.4" r="0.5" fill="#8088b8"/><circle cx="177.4" cy="903.1" r="0.5" fill="#a8a8b8"/><circle cx="186.7" cy="891.3" r="0.5" fill="#8088b8"/><circle cx="211.5" cy="897.1" r="0.5" fill="#9a9ab0"/><circle cx="198.7" cy="905.9" r="0.5" fill="#a8a8b8"/><circle cx="190.4" cy="904.1" r="0.5" fill="#9a9ab0"/><circle cx="161.6" cy="909.0" r="0.5" fill="#9a9ab0"/><circle cx="173.8" cy="910.6" r="0.5" fill="#8c94c4"/><circle cx="212.9" cy="910.2" r="0.5" fill="#b4b8d0"/><circle cx="185.5" cy="919.3" r="0.5" fill="#9a9ab0"/><circle cx="188.1" cy="908.6" r="0.5" fill="#8088b8"/><circle cx="222.6" cy="899.3" r="0.5" fill="#b4b8d0"/><circle cx="174.0" cy="899.3" r="0.5" fill="#8c94c4"/><circle cx="186.1" cy="911.7" r="0.5" fill="#a8a8b8"/><circle cx="225.3" cy="910.9" r="0.5" fill="#8088b8"/><circle cx="180.8" cy="915.0" r="0.5" fill="#a0a8d0"/><circle cx="205.0" cy="886.0" r="0.5" fill="#b4b8d0"/><circle cx="162.6" cy="908.5" r="0.5" fill="#a8a8b8"/><circle cx="200.5" cy="905.8" r="0.5" fill="#9a9ab0"/><circle cx="205.6" cy="905.4" r="0.5" fill="#a8a8b8"/><circle cx="157.8" cy="905.8" r="0.5" fill="#b4b8d0"/><circle cx="167.4" cy="904.7" r="0.5" fill="#a8a8b8"/><circle cx="175.8" cy="914.9" r="0.5" fill="#b4b8d0"/><circle cx="163.2" cy="920.0" r="0.5" fill="#b4b8d0"/><circle cx="167.6" cy="907.6" r="0.5" fill="#8088b8"/><circle cx="169.9" cy="898.5" r="0.5" fill="#9a9ab0"/><circle cx="173.5" cy="908.9" r="0.5" fill="#9a9ab0"/><circle cx="187.3" cy="905.1" r="0.5" fill="#a8a8b8"/><circle cx="202.1" cy="909.5" r="0.5" fill="#b4b8d0"/><circle cx="206.2" cy="910.5" r="0.5" fill="#9a9ab0"/><circle cx="224.0" cy="902.2" r="0.5" fill="#8c94c4"/><circle cx="178.1" cy="913.2" r="0.5" fill="#a0a8d0"/><circle cx="156.9" cy="901.9" r="0.5" fill="#a8a8b8"/><circle cx="196.1" cy="894.5" r="0.5" fill="#a0a8d0"/><circle cx="199.8" cy="901.4" r="0.5" fill="#9a9ab0"/><circle cx="219.6" cy="894.1" r="0.5" fill="#8088b8"/><circle cx="198.5" cy="898.1" r="0.5" fill="#b4b8d0"/><circle cx="219.3" cy="903.4" r="0.5" fill="#a0a8d0"/><circle cx="193.4" cy="909.0" r="0.5" fill="#b4b8d0"/><circle cx="162.4" cy="899.0" r="0.5" fill="#9a9ab0"/><circle cx="162.2" cy="898.8" r="0.5" fill="#8c94c4"/><circle cx="193.3" cy="912.6" r="0.5" fill="#b4b8d0"/><circle cx="170.7" cy="904.1" r="0.5" fill="#b4b8d0"/><circle cx="167.0" cy="911.1" r="0.5" fill="#b4b8d0"/><circle cx="187.1" cy="895.3" r="0.5" fill="#8088b8"/><circle cx="201.1" cy="907.4" r="0.5" fill="#8088b8"/><circle cx="161.5" cy="896.8" r="0.5" fill="#9a9ab0"/><circle cx="186.0" cy="903.3" r="0.5" fill="#b4b8d0"/><circle cx="178.9" cy="885.6" r="0.5" fill="#8c94c4"/><circle cx="227.3" cy="903.5" r="0.5" fill="#a8a8b8"/><circle cx="232.8" cy="900.1" r="0.5" fill="#9a9ab0"/><circle cx="190.5" cy="907.7" r="0.5" fill="#a0a8d0"/><circle cx="208.1" cy="891.0" r="0.5" fill="#8088b8"/><circle cx="171.7" cy="907.3" r="0.5" fill="#b4b8d0"/><circle cx="201.6" cy="906.4" r="0.5" fill="#a0a8d0"/><circle cx="192.1" cy="887.9" r="0.5" fill="#8088b8"/><circle cx="203.5" cy="899.0" r="0.5" fill="#a0a8d0"/><circle cx="209.6" cy="896.3" r="0.5" fill="#8088b8"/><circle cx="212.5" cy="893.1" r="0.5" fill="#9a9ab0"/><circle cx="173.9" cy="908.5" r="0.5" fill="#8088b8"/><circle cx="196.2" cy="899.8" r="0.5" fill="#b4b8d0"/><circle cx="201.7" cy="901.4" r="0.5" fill="#9a9ab0"/><circle cx="170.4" cy="917.4" r="0.5" fill="#8c94c4"/><circle cx="214.9" cy="909.0" r="0.5" fill="#b4b8d0"/><circle cx="215.3" cy="910.0" r="0.5" fill="#8088b8"/>
<ellipse cx="191.6" cy="855.9" rx="17" ry="17.85" fill="url(#gE2)" />
<path d="M202.09,855.90 C202.13,857.55 202.24,859.56 201.53,860.92 C200.81,862.28 199.08,863.15 197.80,864.07 C196.53,864.98 195.33,865.87 193.88,866.41 C192.44,866.94 190.62,867.57 189.12,867.29 C187.63,867.01 186.00,865.86 184.90,864.72 C183.80,863.59 183.14,861.96 182.53,860.49 C181.92,859.02 181.39,857.50 181.25,855.90 C181.11,854.30 181.03,852.31 181.67,850.88 C182.31,849.45 183.79,848.17 185.08,847.31 C186.36,846.45 187.89,846.17 189.39,845.72 C190.88,845.27 192.64,844.28 194.06,844.60 C195.47,844.92 196.68,846.56 197.88,847.63 C199.08,848.70 200.56,849.64 201.26,851.02 C201.96,852.39 202.04,854.25 202.09,855.90 Z" fill="none" stroke="#7888c8" stroke-width="0.6" opacity="0.6"/>
<path d="M203.67,856.50 C203.62,858.32 203.06,860.29 202.27,861.90 C201.48,863.50 200.23,864.85 198.93,866.15 C197.62,867.44 196.14,869.15 194.46,869.65 C192.78,870.15 190.63,869.63 188.85,869.15 C187.07,868.67 185.19,867.95 183.79,866.78 C182.40,865.60 181.21,863.82 180.50,862.11 C179.79,860.40 179.57,858.39 179.53,856.50 C179.49,854.61 179.54,852.46 180.27,850.77 C180.99,849.08 182.48,847.56 183.90,846.36 C185.32,845.16 187.04,843.99 188.78,843.55 C190.53,843.11 192.58,843.31 194.38,843.73 C196.17,844.14 198.18,844.84 199.54,846.04 C200.90,847.25 201.86,849.22 202.55,850.96 C203.23,852.71 203.71,854.68 203.67,856.50 Z" fill="none" stroke="#7888c8" stroke-width="0.6" opacity="0.6"/>
<path d="M205.77,857.10 C205.73,859.12 204.40,861.23 203.44,863.09 C202.49,864.94 201.53,866.93 200.06,868.23 C198.58,869.54 196.54,870.31 194.60,870.90 C192.66,871.49 190.39,872.13 188.41,871.77 C186.43,871.42 184.38,870.12 182.72,868.79 C181.06,867.45 179.18,865.70 178.45,863.75 C177.72,861.80 178.23,859.26 178.35,857.10 C178.47,854.94 178.32,852.61 179.16,850.81 C180.00,849.01 181.82,847.55 183.40,846.30 C184.97,845.05 186.72,843.89 188.60,843.31 C190.49,842.73 192.84,842.32 194.70,842.82 C196.57,843.32 198.30,844.95 199.80,846.31 C201.30,847.67 202.71,849.18 203.71,850.98 C204.70,852.78 205.82,855.08 205.77,857.10 Z" fill="none" stroke="#7888c8" stroke-width="0.6" opacity="0.6"/>
<path d="M206.37,857.70 C206.36,860.14 206.93,862.94 206.02,864.99 C205.12,867.04 202.76,868.55 200.93,869.99 C199.11,871.43 197.21,872.96 195.06,873.64 C192.92,874.31 190.31,874.48 188.05,874.04 C185.79,873.60 183.25,872.53 181.51,870.99 C179.76,869.45 178.51,867.00 177.59,864.79 C176.66,862.57 175.84,860.00 175.96,857.70 C176.09,855.40 177.33,853.11 178.32,850.99 C179.32,848.86 180.29,846.47 181.93,844.96 C183.57,843.46 185.96,842.59 188.17,841.93 C190.39,841.28 193.02,840.54 195.23,841.01 C197.43,841.49 199.59,843.23 201.41,844.79 C203.22,846.35 205.29,848.20 206.12,850.36 C206.95,852.51 206.39,855.26 206.37,857.70 Z" fill="none" stroke="#7888c8" stroke-width="0.6" opacity="0.6"/>
<path d="M208.75,858.30 C208.79,860.92 208.28,863.76 207.30,866.24 C206.32,868.72 204.88,871.63 202.88,873.15 C200.88,874.67 197.81,874.98 195.31,875.36 C192.81,875.75 190.19,876.07 187.87,875.47 C185.55,874.86 183.26,873.34 181.40,871.73 C179.54,870.13 177.72,868.07 176.70,865.84 C175.68,863.60 175.29,860.82 175.28,858.30 C175.27,855.78 175.71,853.10 176.62,850.73 C177.54,848.35 178.96,845.91 180.77,844.04 C182.59,842.17 185.05,840.16 187.51,839.51 C189.98,838.86 193.09,839.34 195.55,840.14 C198.00,840.93 200.34,842.55 202.25,844.27 C204.17,846.00 205.96,848.15 207.04,850.49 C208.13,852.83 208.71,855.68 208.75,858.30 Z" fill="none" stroke="#7888c8" stroke-width="0.6" opacity="0.6"/>
<path d="M180,868 C176,880 186,886 198,886 C208,885 212,876 208,868" fill="none" stroke="#8890c0" stroke-width="0.7"/>
<path d="M176,864 C170,878 180,890 196,890 C210,889 215,878 212,866" fill="none" stroke="#8890c0" stroke-width="0.7"/>
<g transform="translate(175,906) rotate(-36)">
<ellipse cx="0" cy="0" rx="24" ry="11" fill="url(#gEc)" />
</g>
<path d="M193.32,892.69 C194.25,894.12 194.13,896.47 193.50,898.79 C192.88,901.10 191.70,904.03 189.58,906.56 C187.46,909.09 183.88,911.72 180.79,913.97 C177.70,916.22 173.95,919.01 171.02,920.08 C168.09,921.15 165.69,920.47 163.21,920.40 C160.74,920.34 157.47,920.81 156.18,919.68 C154.89,918.54 154.72,915.98 155.47,913.61 C156.23,911.24 158.44,908.08 160.71,905.45 C162.98,902.82 166.09,899.87 169.07,897.84 C172.05,895.81 175.46,894.54 178.60,893.27 C181.74,892.00 185.46,890.31 187.92,890.21 C190.37,890.12 192.39,891.26 193.32,892.69 Z" fill="none" stroke="#8090d0" stroke-width="0.65" opacity="0.85"/>
<path d="M189.33,895.59 C190.22,896.59 190.59,898.32 190.07,900.13 C189.54,901.93 187.96,904.44 186.18,906.43 C184.40,908.42 181.76,910.37 179.40,912.06 C177.04,913.74 174.30,915.66 172.02,916.55 C169.73,917.43 167.62,917.37 165.69,917.38 C163.76,917.38 161.29,917.53 160.45,916.57 C159.61,915.61 160.19,913.44 160.62,911.60 C161.06,909.76 161.46,907.56 163.06,905.54 C164.67,903.52 167.73,901.25 170.25,899.46 C172.77,897.67 175.75,895.71 178.16,894.82 C180.58,893.93 182.87,893.97 184.74,894.10 C186.60,894.23 188.45,894.58 189.33,895.59 Z" fill="none" stroke="#8090d0" stroke-width="0.65" opacity="0.85"/>
<path d="M186.12,897.92 C186.78,898.64 186.47,900.31 185.99,901.71 C185.51,903.11 184.49,904.81 183.24,906.32 C181.98,907.83 180.22,909.54 178.48,910.79 C176.74,912.03 174.57,913.12 172.80,913.79 C171.02,914.45 169.25,914.76 167.83,914.76 C166.41,914.76 164.98,914.51 164.28,913.79 C163.58,913.07 163.31,911.79 163.63,910.43 C163.96,909.08 164.90,907.20 166.21,905.66 C167.52,904.12 169.64,902.59 171.51,901.20 C173.39,899.81 175.70,897.96 177.45,897.33 C179.21,896.69 180.61,897.28 182.06,897.38 C183.50,897.48 185.46,897.20 186.12,897.92 Z" fill="none" stroke="#8090d0" stroke-width="0.65" opacity="0.85"/>
<path d="M182.08,900.86 C182.51,901.36 182.63,902.21 182.42,903.11 C182.22,904.00 181.70,905.18 180.87,906.23 C180.04,907.27 178.67,908.55 177.45,909.37 C176.23,910.18 174.74,910.72 173.55,911.12 C172.36,911.52 171.28,911.72 170.29,911.76 C169.30,911.80 168.08,911.84 167.60,911.38 C167.13,910.91 167.16,909.88 167.44,908.95 C167.72,908.01 168.46,906.85 169.30,905.78 C170.14,904.71 171.26,903.38 172.47,902.52 C173.67,901.65 175.31,900.97 176.53,900.57 C177.76,900.17 178.91,900.05 179.83,900.10 C180.75,900.15 181.64,900.36 182.08,900.86 Z" fill="none" stroke="#8090d0" stroke-width="0.65" opacity="0.85"/>
<path d="M211.93,900.00 C211.84,902.38 211.15,904.78 210.27,906.84 C209.40,908.89 208.11,911.59 206.67,912.31 C205.22,913.03 203.05,912.09 201.58,911.16 C200.11,910.22 198.88,908.57 197.84,906.71 C196.81,904.85 195.47,902.33 195.39,900.00 C195.30,897.67 196.34,894.75 197.34,892.74 C198.34,890.73 199.89,888.52 201.39,887.94 C202.89,887.35 204.76,888.46 206.33,889.23 C207.91,890.00 209.90,890.76 210.83,892.56 C211.76,894.35 212.02,897.62 211.93,900.00 Z" fill="none" stroke="#7c88c4" stroke-width="0.7" opacity="0.9"/>
<path d="M209.78,900.00 C209.88,901.66 209.57,904.07 208.88,905.32 C208.18,906.56 206.72,907.09 205.62,907.49 C204.53,907.90 203.40,908.12 202.32,907.75 C201.25,907.38 199.88,906.55 199.18,905.25 C198.48,903.96 198.09,901.70 198.14,900.00 C198.19,898.30 198.80,896.50 199.47,895.06 C200.13,893.63 201.08,891.92 202.13,891.38 C203.18,890.83 204.76,891.11 205.78,891.78 C206.80,892.44 207.59,893.99 208.26,895.36 C208.92,896.73 209.67,898.34 209.78,900.00 Z" fill="none" stroke="#7c88c4" stroke-width="0.7" opacity="0.9"/>
<path d="M206.98,900.00 C207.00,900.97 207.08,902.21 206.76,903.01 C206.44,903.80 205.65,904.52 205.03,904.76 C204.41,905.01 203.65,904.78 203.03,904.47 C202.42,904.16 201.71,903.65 201.33,902.91 C200.96,902.16 200.77,900.97 200.76,900.00 C200.76,899.03 200.95,897.89 201.31,897.07 C201.68,896.26 202.33,895.36 202.94,895.12 C203.55,894.87 204.35,895.24 204.96,895.58 C205.56,895.93 206.25,896.44 206.59,897.18 C206.93,897.91 206.95,899.03 206.98,900.00 Z" fill="none" stroke="#7c88c4" stroke-width="0.7" opacity="0.9"/>
<line x1="348.45" y1="187.0615" x2="348.45" y2="185.79399999999998" stroke="#111" stroke-width="1.5" />
<line x1="341.65" y1="185.79399999999998" x2="355.25" y2="185.79399999999998" stroke="#111" stroke-width="1.7" />
<rect x="335.4" y="187.0615" width="26.100000000000023" height="28.138499999999993" fill="#b2042c" />
<line x1="335.4" y1="187.3615" x2="361.5" y2="187.3615" stroke="#000" stroke-width="0.6" opacity="0.35"/>
<line x1="382.1" y1="142.69899999999998" x2="382.1" y2="138.13599999999997" stroke="#111" stroke-width="1.5" />
<line x1="375.3" y1="138.13599999999997" x2="388.90000000000003" y2="138.13599999999997" stroke="#111" stroke-width="1.7" />
<rect x="368.6" y="142.69899999999998" width="27.0" height="72.501" fill="#2c4a86" />
<line x1="368.6" y1="142.999" x2="395.6" y2="142.999" stroke="#000" stroke-width="0.6" opacity="0.35"/>
<line x1="326.7" y1="215.2" x2="331.7" y2="215.2" stroke="#000" stroke-width="1.6" />
<text x="322" y="219.1" font-size="12.5" text-anchor="end" fill="#333" font-weight="normal" stroke="#333" stroke-width="0.1">0</text>
<line x1="326.7" y1="189.85" x2="331.7" y2="189.85" stroke="#000" stroke-width="1.6" />
<text x="322" y="193.75" font-size="12.5" text-anchor="end" fill="#333" font-weight="normal" stroke="#333" stroke-width="0.1">10</text>
<line x1="326.7" y1="164.5" x2="331.7" y2="164.5" stroke="#000" stroke-width="1.6" />
<text x="322" y="168.4" font-size="12.5" text-anchor="end" fill="#333" font-weight="normal" stroke="#333" stroke-width="0.1">20</text>
<line x1="326.7" y1="139.14999999999998" x2="331.7" y2="139.14999999999998" stroke="#000" stroke-width="1.6" />
<text x="322" y="143.04999999999998" font-size="12.5" text-anchor="end" fill="#333" font-weight="normal" stroke="#333" stroke-width="0.1">30</text>
<line x1="326.7" y1="113.79999999999998" x2="331.7" y2="113.79999999999998" stroke="#000" stroke-width="1.6" />
<text x="322" y="117.69999999999999" font-size="12.5" text-anchor="end" fill="#333" font-weight="normal" stroke="#333" stroke-width="0.1">40</text>
<line x1="331.7" y1="109.6" x2="331.7" y2="216.2" stroke="#000" stroke-width="2" />
<line x1="326.7" y1="215.2" x2="396" y2="215.2" stroke="#000" stroke-width="2" />
<line x1="348.5" y1="215.2" x2="348.5" y2="220.0" stroke="#000" stroke-width="1.6" />
<line x1="382" y1="215.2" x2="382" y2="220.0" stroke="#000" stroke-width="1.6" />
<text x="348.2" y="234.6" font-size="11.5" text-anchor="middle" fill="#333" font-weight="normal" >Y</text>
<text x="381.6" y="234.6" font-size="11.5" text-anchor="middle" fill="#333" font-weight="normal" textLength="10.4" lengthAdjust="spacingAndGlyphs">O</text>
<line x1="348.8" y1="134.8" x2="382.2" y2="134.8" stroke="#111" stroke-width="1.7" />
<polygon points="357.70,127.90 358.31,129.36 359.89,129.49 358.68,130.52 359.05,132.06 357.70,131.24 356.35,132.06 356.72,130.52 355.51,129.49 357.09,129.36" fill="#111"/>
<polygon points="362.90,127.90 363.51,129.36 365.09,129.49 363.88,130.52 364.25,132.06 362.90,131.24 361.55,132.06 361.92,130.52 360.71,129.49 362.29,129.36" fill="#111"/>
<polygon points="368.10,127.90 368.71,129.36 370.29,129.49 369.08,130.52 369.45,132.06 368.10,131.24 366.75,132.06 367.12,130.52 365.91,129.49 367.49,129.36" fill="#111"/>
<polygon points="373.30,127.90 373.91,129.36 375.49,129.49 374.28,130.52 374.65,132.06 373.30,131.24 371.95,132.06 372.32,130.52 371.11,129.49 372.69,129.36" fill="#111"/>
<line x1="450.4" y1="156.91" x2="450.4" y2="151.85" stroke="#111" stroke-width="1.5" />
<line x1="443.59999999999997" y1="151.85" x2="457.2" y2="151.85" stroke="#111" stroke-width="1.7" />
<rect x="436.6" y="156.91" width="27.599999999999966" height="58.19" fill="#6ca83e" />
<line x1="436.6" y1="157.21" x2="464.2" y2="157.21" stroke="#000" stroke-width="0.6" opacity="0.35"/>
<line x1="484.05" y1="138.69400000000002" x2="484.05" y2="132.369" stroke="#111" stroke-width="1.5" />
<line x1="477.25" y1="132.369" x2="490.85" y2="132.369" stroke="#111" stroke-width="1.7" />
<rect x="470.8" y="138.69400000000002" width="26.5" height="76.40599999999998" fill="#522466" />
<line x1="470.8" y1="138.99400000000003" x2="497.3" y2="138.99400000000003" stroke="#000" stroke-width="0.6" opacity="0.35"/>
<line x1="428.8" y1="215.1" x2="433.8" y2="215.1" stroke="#000" stroke-width="1.6" />
<text x="423.8" y="219.0" font-size="12.5" text-anchor="end" fill="#333" font-weight="normal" stroke="#333" stroke-width="0.1">0</text>
<line x1="428.8" y1="189.8" x2="433.8" y2="189.8" stroke="#000" stroke-width="1.6" />
<text x="423.8" y="193.70000000000002" font-size="12.5" text-anchor="end" fill="#333" font-weight="normal" stroke="#333" stroke-width="0.1">10</text>
<line x1="428.8" y1="164.5" x2="433.8" y2="164.5" stroke="#000" stroke-width="1.6" />
<text x="423.8" y="168.4" font-size="12.5" text-anchor="end" fill="#333" font-weight="normal" stroke="#333" stroke-width="0.1">20</text>
<line x1="428.8" y1="139.2" x2="433.8" y2="139.2" stroke="#000" stroke-width="1.6" />
<text x="423.8" y="143.1" font-size="12.5" text-anchor="end" fill="#333" font-weight="normal" stroke="#333" stroke-width="0.1">30</text>
<line x1="428.8" y1="113.9" x2="433.8" y2="113.9" stroke="#000" stroke-width="1.6" />
<text x="423.8" y="117.80000000000001" font-size="12.5" text-anchor="end" fill="#333" font-weight="normal" stroke="#333" stroke-width="0.1">40</text>
<line x1="433.8" y1="109.6" x2="433.8" y2="216.1" stroke="#000" stroke-width="2" />
<line x1="428.8" y1="215.1" x2="501.9" y2="215.1" stroke="#000" stroke-width="2" />
<line x1="450" y1="215.1" x2="450" y2="219.9" stroke="#000" stroke-width="1.6" />
<line x1="483.6" y1="215.1" x2="483.6" y2="219.9" stroke="#000" stroke-width="1.6" />
<text x="450.4" y="234.6" font-size="11.5" text-anchor="middle" fill="#333" font-weight="normal" textLength="17.4" lengthAdjust="spacingAndGlyphs">DY</text>
<text x="483.8" y="234.6" font-size="11.5" text-anchor="middle" fill="#333" font-weight="normal" textLength="20" lengthAdjust="spacingAndGlyphs">DO</text>
<line x1="450.8" y1="129.2" x2="483.6" y2="129.2" stroke="#111" stroke-width="1.7" />
<polygon points="467.20,122.30 467.81,123.76 469.39,123.89 468.18,124.92 468.55,126.46 467.20,125.63 465.85,126.46 466.22,124.92 465.01,123.89 466.59,123.76" fill="#111"/>
<text transform="translate(281,164) rotate(-90)" x="0" y="0" font-size="13.5" text-anchor="middle" fill="#333" stroke="#333" stroke-width="0.25" textLength="50.5" lengthAdjust="spacingAndGlyphs"><tspan>% FoxP3</tspan><tspan font-size="9.5" dx="0.9" dy="-4.2" stroke-width="0.7">+</tspan></text>
<text transform="translate(298.6,162.5) rotate(-90)" x="0" y="0" font-size="13.5" text-anchor="middle" fill="#333" stroke="#333" stroke-width="0.25" textLength="92.6" lengthAdjust="spacingAndGlyphs"><tspan>CD3</tspan><tspan font-size="9.5" dx="0.9" dy="-4.2" stroke-width="0.7">+</tspan><tspan dx="0.7" dy="4.2">CD4</tspan><tspan font-size="9.5" dx="0.9" dy="-4.2" stroke-width="0.7">+</tspan><tspan dx="0.7" dy="4.2"> T cells</tspan></text>
<g transform="translate(346.7,100.5) scale(1.0)" fill="none" stroke="#111" stroke-width="1.4" stroke-linecap="round" stroke-linejoin="round"><path d="M0,0 C3,1 7,2.6 11.5,2.4 C15,2.2 18.5,-3.4 22.5,-3.9 C25.5,-4.3 27.8,-3.4 29.6,-2.8 C29.8,-4 31,-5.1 32.3,-5 C33.6,-4.9 34.2,-3.8 33.7,-2.5 C34.8,-1.6 36,-0.4 36.2,0.6 C35.8,1.8 33.6,3 31.6,3.5"/><path d="M30.2,-2.4 C30.6,-1.4 31.2,-0.7 31.9,-0.4"/></g>
<g transform="translate(449.3,85.6) rotate(43) scale(1.0)"><rect x="-0.3" y="-2.2" width="1.7" height="4.4" fill="#111"/><rect x="1.2" y="-0.7" width="1.8" height="1.4" fill="#111"/><rect x="3.0" y="-1.75" width="10.2" height="3.5" fill="#111"/><rect x="4.6" y="-0.5" width="7.2" height="1.0" fill="#8a8a8a"/><path d="M13,-1 L14.2,-0.45 L14.2,0.45 L13,1 Z" fill="#111"/><line x1="14" y1="0" x2="18.6" y2="0" stroke="#111" stroke-width="1"/></g>
<g transform="translate(448.7,100.1) scale(1.0)" fill="none" stroke="#111" stroke-width="1.4" stroke-linecap="round" stroke-linejoin="round"><path d="M0,0 C3,1 7,2.6 11.5,2.4 C15,2.2 18.5,-3.4 22.5,-3.9 C25.5,-4.3 27.8,-3.4 29.6,-2.8 C29.8,-4 31,-5.1 32.3,-5 C33.6,-4.9 34.2,-3.8 33.7,-2.5 C34.8,-1.6 36,-0.4 36.2,0.6 C35.8,1.8 33.6,3 31.6,3.5"/><path d="M30.2,-2.4 C30.6,-1.4 31.2,-0.7 31.9,-0.4"/></g>
<line x1="350.2" y1="488.93000000000006" x2="350.2" y2="488.32700000000006" stroke="#111" stroke-width="1.5" />
<line x1="343.4" y1="488.32700000000006" x2="357.0" y2="488.32700000000006" stroke="#111" stroke-width="1.7" />
<rect x="336.9" y="488.93000000000006" width="26.600000000000023" height="54.26999999999998" fill="#b2042c" />
<line x1="336.9" y1="489.2300000000001" x2="363.5" y2="489.2300000000001" stroke="#000" stroke-width="0.6" opacity="0.35"/>
<line x1="383.95000000000005" y1="459.2825" x2="383.95000000000005" y2="457.47350000000006" stroke="#111" stroke-width="1.5" />
<line x1="377.15000000000003" y1="457.47350000000006" x2="390.75000000000006" y2="457.47350000000006" stroke="#111" stroke-width="1.7" />
<rect x="370.8" y="459.2825" width="26.30000000000001" height="83.91750000000002" fill="#2c4a86" />
<line x1="370.8" y1="459.58250000000004" x2="397.1" y2="459.58250000000004" stroke="#000" stroke-width="0.6" opacity="0.35"/>
<line x1="328.5" y1="543.2" x2="333.5" y2="543.2" stroke="#000" stroke-width="1.6" />
<text x="323.4" y="547.1" font-size="12.5" text-anchor="end" fill="#333" font-weight="normal" stroke="#333" stroke-width="0.1">0</text>
<line x1="328.5" y1="523.1" x2="333.5" y2="523.1" stroke="#000" stroke-width="1.6" />
<text x="323.4" y="527.0" font-size="12.5" text-anchor="end" fill="#333" font-weight="normal" stroke="#333" stroke-width="0.1">20</text>
<line x1="328.5" y1="503.00000000000006" x2="333.5" y2="503.00000000000006" stroke="#000" stroke-width="1.6" />
<text x="323.4" y="506.90000000000003" font-size="12.5" text-anchor="end" fill="#333" font-weight="normal" stroke="#333" stroke-width="0.1">40</text>
<line x1="328.5" y1="482.90000000000003" x2="333.5" y2="482.90000000000003" stroke="#000" stroke-width="1.6" />
<text x="323.4" y="486.8" font-size="12.5" text-anchor="end" fill="#333" font-weight="normal" stroke="#333" stroke-width="0.1">60</text>
<line x1="328.5" y1="462.80000000000007" x2="333.5" y2="462.80000000000007" stroke="#000" stroke-width="1.6" />
<text x="323.4" y="466.70000000000005" font-size="12.5" text-anchor="end" fill="#333" font-weight="normal" stroke="#333" stroke-width="0.1">80</text>
<line x1="328.5" y1="442.70000000000005" x2="333.5" y2="442.70000000000005" stroke="#000" stroke-width="1.6" />
<text x="323.4" y="446.6" font-size="12.5" text-anchor="end" fill="#333" font-weight="normal" stroke="#333" stroke-width="0.1">100</text>
<line x1="333.5" y1="437.6" x2="333.5" y2="544.2" stroke="#000" stroke-width="2" />
<line x1="328.5" y1="543.2" x2="398" y2="543.2" stroke="#000" stroke-width="2" />
<line x1="350.2" y1="543.2" x2="350.2" y2="548.0" stroke="#000" stroke-width="1.6" />
<line x1="384" y1="543.2" x2="384" y2="548.0" stroke="#000" stroke-width="1.6" />
<text x="350.2" y="563.8" font-size="11.5" text-anchor="middle" fill="#333" font-weight="normal" >Y</text>
<text x="383.8" y="563.8" font-size="11.5" text-anchor="middle" fill="#333" font-weight="normal" textLength="10.4" lengthAdjust="spacingAndGlyphs">O</text>
<line x1="350.4" y1="452.9" x2="383.8" y2="452.9" stroke="#111" stroke-width="1.7" />
<polygon points="359.30,446.00 359.91,447.46 361.49,447.59 360.28,448.62 360.65,450.16 359.30,449.33 357.95,450.16 358.32,448.62 357.11,447.59 358.69,447.46" fill="#111"/>
<polygon points="364.50,446.00 365.11,447.46 366.69,447.59 365.48,448.62 365.85,450.16 364.50,449.33 363.15,450.16 363.52,448.62 362.31,447.59 363.89,447.46" fill="#111"/>
<polygon points="369.70,446.00 370.31,447.46 371.89,447.59 370.68,448.62 371.05,450.16 369.70,449.33 368.35,450.16 368.72,448.62 367.51,447.59 369.09,447.46" fill="#111"/>
<polygon points="374.90,446.00 375.51,447.46 377.09,447.59 375.88,448.62 376.25,450.16 374.90,449.33 373.55,450.16 373.92,448.62 372.71,447.59 374.29,447.46" fill="#111"/>
<line x1="458.3" y1="477.6123" x2="458.3" y2="475.0898" stroke="#111" stroke-width="1.5" />
<line x1="451.5" y1="475.0898" x2="465.1" y2="475.0898" stroke="#111" stroke-width="1.7" />
<rect x="445" y="477.6123" width="26.600000000000023" height="65.8877" fill="#6ca83e" />
<line x1="445" y1="477.9123" x2="471.6" y2="477.9123" stroke="#000" stroke-width="0.6" opacity="0.35"/>
<line x1="491.5" y1="464.2935" x2="491.5" y2="463.2845" stroke="#111" stroke-width="1.5" />
<line x1="484.7" y1="463.2845" x2="498.3" y2="463.2845" stroke="#111" stroke-width="1.7" />
<rect x="478" y="464.2935" width="27" height="79.2065" fill="#522466" />
<line x1="478" y1="464.5935" x2="505" y2="464.5935" stroke="#000" stroke-width="0.6" opacity="0.35"/>
<line x1="436.5" y1="543.5" x2="441.5" y2="543.5" stroke="#000" stroke-width="1.6" />
<text x="431.4" y="547.4" font-size="12.5" text-anchor="end" fill="#333" font-weight="normal" stroke="#333" stroke-width="0.1">0</text>
<line x1="436.5" y1="523.32" x2="441.5" y2="523.32" stroke="#000" stroke-width="1.6" />
<text x="431.4" y="527.22" font-size="12.5" text-anchor="end" fill="#333" font-weight="normal" stroke="#333" stroke-width="0.1">20</text>
<line x1="436.5" y1="503.14" x2="441.5" y2="503.14" stroke="#000" stroke-width="1.6" />
<text x="431.4" y="507.03999999999996" font-size="12.5" text-anchor="end" fill="#333" font-weight="normal" stroke="#333" stroke-width="0.1">40</text>
<line x1="436.5" y1="482.96000000000004" x2="441.5" y2="482.96000000000004" stroke="#000" stroke-width="1.6" />
<text x="431.4" y="486.86" font-size="12.5" text-anchor="end" fill="#333" font-weight="normal" stroke="#333" stroke-width="0.1">60</text>
<line x1="436.5" y1="462.78" x2="441.5" y2="462.78" stroke="#000" stroke-width="1.6" />
<text x="431.4" y="466.67999999999995" font-size="12.5" text-anchor="end" fill="#333" font-weight="normal" stroke="#333" stroke-width="0.1">80</text>
<line x1="436.5" y1="442.6" x2="441.5" y2="442.6" stroke="#000" stroke-width="1.6" />
<text x="431.4" y="446.5" font-size="12.5" text-anchor="end" fill="#333" font-weight="normal" stroke="#333" stroke-width="0.1">100</text>
<line x1="441.5" y1="438" x2="441.5" y2="544.5" stroke="#000" stroke-width="2" />
<line x1="436.5" y1="543.5" x2="508.7" y2="543.5" stroke="#000" stroke-width="2" />
<line x1="458.4" y1="543.5" x2="458.4" y2="548.3" stroke="#000" stroke-width="1.6" />
<line x1="491.5" y1="543.5" x2="491.5" y2="548.3" stroke="#000" stroke-width="1.6" />
<text x="458.4" y="563.8" font-size="11.5" text-anchor="middle" fill="#333" font-weight="normal" textLength="17.4" lengthAdjust="spacingAndGlyphs">DY</text>
<text x="491.2" y="563.8" font-size="11.5" text-anchor="middle" fill="#333" font-weight="normal" textLength="20" lengthAdjust="spacingAndGlyphs">DO</text>
<line x1="459" y1="458.7" x2="491.7" y2="458.7" stroke="#111" stroke-width="1.7" />
<polygon points="472.75,451.80 473.36,453.26 474.94,453.39 473.73,454.42 474.10,455.96 472.75,455.13 471.40,455.96 471.77,454.42 470.56,453.39 472.14,453.26" fill="#111"/>
<polygon points="477.95,451.80 478.56,453.26 480.14,453.39 478.93,454.42 479.30,455.96 477.95,455.13 476.60,455.96 476.97,454.42 475.76,453.39 477.34,453.26" fill="#111"/>
<text transform="translate(276.8,491.8) rotate(-90)" x="0" y="0" font-size="13.5" text-anchor="middle" fill="#333" stroke="#333" stroke-width="0.25" textLength="92.8" lengthAdjust="spacingAndGlyphs"><tspan>% Helios</tspan><tspan font-size="9.5" dx="0.9" dy="-4.2" stroke-width="0.7">+</tspan><tspan dx="0.7" dy="4.2"> FoxP3</tspan><tspan font-size="9.5" dx="0.9" dy="-4.2" stroke-width="0.7">+</tspan></text>
<text transform="translate(295.6,490.9) rotate(-90)" x="0" y="0" font-size="13.5" text-anchor="middle" fill="#333" stroke="#333" stroke-width="0.25" textLength="92.3" lengthAdjust="spacingAndGlyphs"><tspan>CD3</tspan><tspan font-size="9.5" dx="0.9" dy="-4.2" stroke-width="0.7">+</tspan><tspan dx="0.7" dy="4.2">CD4</tspan><tspan font-size="9.5" dx="0.9" dy="-4.2" stroke-width="0.7">+</tspan><tspan dx="0.7" dy="4.2"> T cells</tspan></text>
<g transform="translate(348,429.2) scale(1.0)" fill="none" stroke="#111" stroke-width="1.4" stroke-linecap="round" stroke-linejoin="round"><path d="M0,0 C3,1 7,2.6 11.5,2.4 C15,2.2 18.5,-3.4 22.5,-3.9 C25.5,-4.3 27.8,-3.4 29.6,-2.8 C29.8,-4 31,-5.1 32.3,-5 C33.6,-4.9 34.2,-3.8 33.7,-2.5 C34.8,-1.6 36,-0.4 36.2,0.6 C35.8,1.8 33.6,3 31.6,3.5"/><path d="M30.2,-2.4 C30.6,-1.4 31.2,-0.7 31.9,-0.4"/></g>
<g transform="translate(457.40000000000003,414.5) rotate(43) scale(1.0)"><rect x="-0.3" y="-2.2" width="1.7" height="4.4" fill="#111"/><rect x="1.2" y="-0.7" width="1.8" height="1.4" fill="#111"/><rect x="3.0" y="-1.75" width="10.2" height="3.5" fill="#111"/><rect x="4.6" y="-0.5" width="7.2" height="1.0" fill="#8a8a8a"/><path d="M13,-1 L14.2,-0.45 L14.2,0.45 L13,1 Z" fill="#111"/><line x1="14" y1="0" x2="18.6" y2="0" stroke="#111" stroke-width="1"/></g>
<g transform="translate(456.8,429) scale(1.0)" fill="none" stroke="#111" stroke-width="1.4" stroke-linecap="round" stroke-linejoin="round"><path d="M0,0 C3,1 7,2.6 11.5,2.4 C15,2.2 18.5,-3.4 22.5,-3.9 C25.5,-4.3 27.8,-3.4 29.6,-2.8 C29.8,-4 31,-5.1 32.3,-5 C33.6,-4.9 34.2,-3.8 33.7,-2.5 C34.8,-1.6 36,-0.4 36.2,0.6 C35.8,1.8 33.6,3 31.6,3.5"/><path d="M30.2,-2.4 C30.6,-1.4 31.2,-0.7 31.9,-0.4"/></g>
<line x1="349.9" y1="688.90625" x2="349.9" y2="688.075" stroke="#111" stroke-width="1.5" />
<line x1="345.29999999999995" y1="688.075" x2="354.5" y2="688.075" stroke="#111" stroke-width="1.7" />
<rect x="344.4" y="688.90625" width="11.0" height="95.59375" fill="#b2042c" />
<line x1="344.4" y1="689.20625" x2="355.4" y2="689.20625" stroke="#000" stroke-width="0.6" opacity="0.35"/>
<line x1="361.15" y1="709.09375" x2="361.15" y2="705.53125" stroke="#111" stroke-width="1.5" />
<line x1="356.54999999999995" y1="705.53125" x2="365.75" y2="705.53125" stroke="#111" stroke-width="1.7" />
<rect x="355.4" y="709.09375" width="11.5" height="75.40625" fill="#2c4a86" />
<line x1="355.4" y1="709.39375" x2="366.9" y2="709.39375" stroke="#000" stroke-width="0.6" opacity="0.35"/>
<line x1="383.45" y1="772.26875" x2="383.45" y2="771.31875" stroke="#111" stroke-width="1.5" />
<line x1="378.84999999999997" y1="771.31875" x2="388.05" y2="771.31875" stroke="#111" stroke-width="1.7" />
<rect x="378" y="772.26875" width="10.899999999999977" height="12.231250000000045" fill="#b2042c" />
<line x1="378" y1="772.5687499999999" x2="388.9" y2="772.5687499999999" stroke="#000" stroke-width="0.6" opacity="0.35"/>
<line x1="394.65" y1="772.625" x2="394.65" y2="771.79375" stroke="#111" stroke-width="1.5" />
<line x1="390.04999999999995" y1="771.79375" x2="399.25" y2="771.79375" stroke="#111" stroke-width="1.7" />
<rect x="388.9" y="772.625" width="11.5" height="11.875" fill="#2c4a86" />
<line x1="388.9" y1="772.925" x2="400.4" y2="772.925" stroke="#000" stroke-width="0.6" opacity="0.35"/>
<line x1="417.05" y1="772.15" x2="417.05" y2="771.2" stroke="#111" stroke-width="1.5" />
<line x1="412.45" y1="771.2" x2="421.65000000000003" y2="771.2" stroke="#111" stroke-width="1.7" />
<rect x="411.5" y="772.15" width="11.100000000000023" height="12.350000000000023" fill="#b2042c" />
<line x1="411.5" y1="772.4499999999999" x2="422.6" y2="772.4499999999999" stroke="#000" stroke-width="0.6" opacity="0.35"/>
<line x1="428.4" y1="751.84375" x2="428.4" y2="748.99375" stroke="#111" stroke-width="1.5" />
<line x1="423.79999999999995" y1="748.99375" x2="433.0" y2="748.99375" stroke="#111" stroke-width="1.7" />
<rect x="422.6" y="751.84375" width="11.599999999999966" height="32.65625" fill="#2c4a86" />
<line x1="422.6" y1="752.14375" x2="434.2" y2="752.14375" stroke="#000" stroke-width="0.6" opacity="0.35"/>
<line x1="334.4" y1="784.5" x2="339.4" y2="784.5" stroke="#000" stroke-width="1.6" />
<text x="328.6" y="788.4" font-size="12.5" text-anchor="end" fill="#333" font-weight="normal" stroke="#333" stroke-width="0.1">0</text>
<line x1="334.4" y1="760.75" x2="339.4" y2="760.75" stroke="#000" stroke-width="1.6" />
<text x="328.6" y="764.65" font-size="12.5" text-anchor="end" fill="#333" font-weight="normal" stroke="#333" stroke-width="0.1">20</text>
<line x1="334.4" y1="737.0" x2="339.4" y2="737.0" stroke="#000" stroke-width="1.6" />
<text x="328.6" y="740.9" font-size="12.5" text-anchor="end" fill="#333" font-weight="normal" stroke="#333" stroke-width="0.1">40</text>
<line x1="334.4" y1="713.25" x2="339.4" y2="713.25" stroke="#000" stroke-width="1.6" />
<text x="328.6" y="717.15" font-size="12.5" text-anchor="end" fill="#333" font-weight="normal" stroke="#333" stroke-width="0.1">60</text>
<line x1="334.4" y1="689.5" x2="339.4" y2="689.5" stroke="#000" stroke-width="1.6" />
<text x="328.6" y="693.4" font-size="12.5" text-anchor="end" fill="#333" font-weight="normal" stroke="#333" stroke-width="0.1">80</text>
<line x1="339.4" y1="685.2" x2="339.4" y2="785.5" stroke="#000" stroke-width="2" />
<line x1="334.4" y1="784.5" x2="439.4" y2="784.5" stroke="#000" stroke-width="2" />
<text x="355.4" y="799.6" font-size="11.5" text-anchor="middle" fill="#333" font-weight="normal" textLength="26.4" lengthAdjust="spacingAndGlyphs">FOB</text>
<text x="389.4" y="799.6" font-size="11.5" text-anchor="middle" fill="#333" font-weight="normal" textLength="20" lengthAdjust="spacingAndGlyphs">MZ</text>
<text x="423.4" y="799.6" font-size="11.5" text-anchor="middle" fill="#333" font-weight="normal" textLength="26" lengthAdjust="spacingAndGlyphs">ABC</text>
<line x1="349.2" y1="686" x2="362.6" y2="686" stroke="#111" stroke-width="1.7" />
<polygon points="351.30,679.10 351.91,680.56 353.49,680.69 352.28,681.72 352.65,683.26 351.30,682.43 349.95,683.26 350.32,681.72 349.11,680.69 350.69,680.56" fill="#111"/>
<polygon points="355.90,679.10 356.51,680.56 358.09,680.69 356.88,681.72 357.25,683.26 355.90,682.43 354.55,683.26 354.92,681.72 353.71,680.69 355.29,680.56" fill="#111"/>
<polygon points="360.50,679.10 361.11,680.56 362.69,680.69 361.48,681.72 361.85,683.26 360.50,682.43 359.15,683.26 359.52,681.72 358.31,680.69 359.89,680.56" fill="#111"/>
<line x1="417.3" y1="746.5" x2="428.9" y2="746.5" stroke="#111" stroke-width="1.7" />
<polygon points="418.50,739.60 419.11,741.06 420.69,741.19 419.48,742.22 419.85,743.76 418.50,742.93 417.15,743.76 417.52,742.22 416.31,741.19 417.89,741.06" fill="#111"/>
<polygon points="423.10,739.60 423.71,741.06 425.29,741.19 424.08,742.22 424.45,743.76 423.10,742.93 421.75,743.76 422.12,742.22 420.91,741.19 422.49,741.06" fill="#111"/>
<polygon points="427.70,739.60 428.31,741.06 429.89,741.19 428.68,742.22 429.05,743.76 427.70,742.93 426.35,743.76 426.72,742.22 425.51,741.19 427.09,741.06" fill="#111"/>
<line x1="350.15" y1="854.953" x2="350.15" y2="853.8063999999999" stroke="#111" stroke-width="1.5" />
<line x1="345.54999999999995" y1="853.8063999999999" x2="354.75" y2="853.8063999999999" stroke="#111" stroke-width="1.7" />
<rect x="344.6" y="854.953" width="11.099999999999966" height="83.447" fill="#6ca83e" />
<line x1="344.6" y1="855.2529999999999" x2="355.7" y2="855.2529999999999" stroke="#000" stroke-width="0.6" opacity="0.35"/>
<line x1="361.45" y1="868.967" x2="361.45" y2="866.6738" stroke="#111" stroke-width="1.5" />
<line x1="356.84999999999997" y1="866.6738" x2="366.05" y2="866.6738" stroke="#111" stroke-width="1.7" />
<rect x="355.7" y="868.967" width="11.5" height="69.43299999999999" fill="#522466" />
<line x1="355.7" y1="869.2669999999999" x2="367.2" y2="869.2669999999999" stroke="#000" stroke-width="0.6" opacity="0.35"/>
<line x1="383.5" y1="913.9392" x2="383.5" y2="913.0473999999999" stroke="#111" stroke-width="1.5" />
<line x1="378.9" y1="913.0473999999999" x2="388.1" y2="913.0473999999999" stroke="#111" stroke-width="1.7" />
<rect x="378" y="913.9392" width="11" height="24.46079999999995" fill="#6ca83e" />
<line x1="378" y1="914.2392" x2="389" y2="914.2392" stroke="#000" stroke-width="0.6" opacity="0.35"/>
<line x1="394.7" y1="910.372" x2="394.7" y2="907.824" stroke="#111" stroke-width="1.5" />
<line x1="390.09999999999997" y1="907.824" x2="399.3" y2="907.824" stroke="#111" stroke-width="1.7" />
<rect x="389" y="910.372" width="11.399999999999977" height="28.02800000000002" fill="#522466" />
<line x1="389" y1="910.6719999999999" x2="400.4" y2="910.6719999999999" stroke="#000" stroke-width="0.6" opacity="0.35"/>
<line x1="417.05" y1="924.386" x2="417.05" y2="923.6216" stroke="#111" stroke-width="1.5" />
<line x1="412.45" y1="923.6216" x2="421.65000000000003" y2="923.6216" stroke="#111" stroke-width="1.7" />
<rect x="411.5" y="924.386" width="11.100000000000023" height="14.01400000000001" fill="#6ca83e" />
<line x1="411.5" y1="924.6859999999999" x2="422.6" y2="924.6859999999999" stroke="#000" stroke-width="0.6" opacity="0.35"/>
<line x1="428.4" y1="916.742" x2="428.4" y2="915.2132" stroke="#111" stroke-width="1.5" />
<line x1="423.79999999999995" y1="915.2132" x2="433.0" y2="915.2132" stroke="#111" stroke-width="1.7" />
<rect x="422.6" y="916.742" width="11.599999999999966" height="21.658000000000015" fill="#522466" />
<line x1="422.6" y1="917.0419999999999" x2="434.2" y2="917.0419999999999" stroke="#000" stroke-width="0.6" opacity="0.35"/>
<line x1="334.4" y1="938.4" x2="339.4" y2="938.4" stroke="#000" stroke-width="1.6" />
<text x="328.6" y="942.3" font-size="12.5" text-anchor="end" fill="#333" font-weight="normal" stroke="#333" stroke-width="0.1">0</text>
<line x1="334.4" y1="912.92" x2="339.4" y2="912.92" stroke="#000" stroke-width="1.6" />
<text x="328.6" y="916.8199999999999" font-size="12.5" text-anchor="end" fill="#333" font-weight="normal" stroke="#333" stroke-width="0.1">20</text>
<line x1="334.4" y1="887.4399999999999" x2="339.4" y2="887.4399999999999" stroke="#000" stroke-width="1.6" />
<text x="328.6" y="891.3399999999999" font-size="12.5" text-anchor="end" fill="#333" font-weight="normal" stroke="#333" stroke-width="0.1">40</text>
<line x1="334.4" y1="861.96" x2="339.4" y2="861.96" stroke="#000" stroke-width="1.6" />
<text x="328.6" y="865.86" font-size="12.5" text-anchor="end" fill="#333" font-weight="normal" stroke="#333" stroke-width="0.1">60</text>
<line x1="334.4" y1="836.48" x2="339.4" y2="836.48" stroke="#000" stroke-width="1.6" />
<text x="328.6" y="840.38" font-size="12.5" text-anchor="end" fill="#333" font-weight="normal" stroke="#333" stroke-width="0.1">80</text>
<line x1="339.4" y1="832.6" x2="339.4" y2="939.4" stroke="#000" stroke-width="2" />
<line x1="334.4" y1="938.4" x2="439.6" y2="938.4" stroke="#000" stroke-width="2" />
<line x1="355.4" y1="938.4" x2="355.4" y2="943.1999999999999" stroke="#000" stroke-width="1.6" />
<line x1="389.5" y1="938.4" x2="389.5" y2="943.1999999999999" stroke="#000" stroke-width="1.6" />
<line x1="422.8" y1="938.4" x2="422.8" y2="943.1999999999999" stroke="#000" stroke-width="1.6" />
<text x="355.6" y="958.3" font-size="11.5" text-anchor="middle" fill="#333" font-weight="normal" textLength="26.4" lengthAdjust="spacingAndGlyphs">FOB</text>
<text x="389.4" y="958.3" font-size="11.5" text-anchor="middle" fill="#333" font-weight="normal" textLength="20" lengthAdjust="spacingAndGlyphs">MZ</text>
<text x="423.2" y="958.3" font-size="11.5" text-anchor="middle" fill="#333" font-weight="normal" textLength="26" lengthAdjust="spacingAndGlyphs">ABC</text>
<line x1="350.4" y1="850.8" x2="362" y2="850.8" stroke="#111" stroke-width="1.7" />
<polygon points="353.90,843.90 354.51,845.36 356.09,845.49 354.88,846.52 355.25,848.06 353.90,847.23 352.55,848.06 352.92,846.52 351.71,845.49 353.29,845.36" fill="#111"/>
<polygon points="358.50,843.90 359.11,845.36 360.69,845.49 359.48,846.52 359.85,848.06 358.50,847.23 357.15,848.06 357.52,846.52 356.31,845.49 357.89,845.36" fill="#111"/>
<line x1="417.3" y1="913" x2="429.5" y2="913" stroke="#111" stroke-width="1.7" />
<polygon points="421.10,906.10 421.71,907.56 423.29,907.69 422.08,908.72 422.45,910.26 421.10,909.43 419.75,910.26 420.12,908.72 418.91,907.69 420.49,907.56" fill="#111"/>
<polygon points="425.70,906.10 426.31,907.56 427.89,907.69 426.68,908.72 427.05,910.26 425.70,909.43 424.35,910.26 424.72,908.72 423.51,907.69 425.09,907.56" fill="#111"/>
<text transform="translate(307.2,734.7) rotate(-90)" x="0" y="0" font-size="13.5" text-anchor="middle" fill="#333" stroke="#333" stroke-width="0.25" textLength="98" lengthAdjust="spacingAndGlyphs"><tspan>% of CD19</tspan><tspan font-size="9.5" dx="0.9" dy="-4.2" stroke-width="0.7">+</tspan><tspan dx="0.7" dy="4.2"> B cells</tspan></text>
<text transform="translate(307.2,885.5) rotate(-90)" x="0" y="0" font-size="13.5" text-anchor="middle" fill="#333" stroke="#333" stroke-width="0.25" textLength="97" lengthAdjust="spacingAndGlyphs"><tspan>% of CD19</tspan><tspan font-size="9.5" dx="0.9" dy="-4.2" stroke-width="0.7">+</tspan><tspan dx="0.7" dy="4.2"> B cells</tspan></text>
<g transform="translate(371,677.3) scale(1.0)" fill="none" stroke="#111" stroke-width="1.4" stroke-linecap="round" stroke-linejoin="round"><path d="M0,0 C3,1 7,2.6 11.5,2.4 C15,2.2 18.5,-3.4 22.5,-3.9 C25.5,-4.3 27.8,-3.4 29.6,-2.8 C29.8,-4 31,-5.1 32.3,-5 C33.6,-4.9 34.2,-3.8 33.7,-2.5 C34.8,-1.6 36,-0.4 36.2,0.6 C35.8,1.8 33.6,3 31.6,3.5"/><path d="M30.2,-2.4 C30.6,-1.4 31.2,-0.7 31.9,-0.4"/></g>
<g transform="translate(371.8,814.3) rotate(43) scale(1.0)"><rect x="-0.3" y="-2.2" width="1.7" height="4.4" fill="#111"/><rect x="1.2" y="-0.7" width="1.8" height="1.4" fill="#111"/><rect x="3.0" y="-1.75" width="10.2" height="3.5" fill="#111"/><rect x="4.6" y="-0.5" width="7.2" height="1.0" fill="#8a8a8a"/><path d="M13,-1 L14.2,-0.45 L14.2,0.45 L13,1 Z" fill="#111"/><line x1="14" y1="0" x2="18.6" y2="0" stroke="#111" stroke-width="1"/></g>
<g transform="translate(371.2,828.8) scale(1.0)" fill="none" stroke="#111" stroke-width="1.4" stroke-linecap="round" stroke-linejoin="round"><path d="M0,0 C3,1 7,2.6 11.5,2.4 C15,2.2 18.5,-3.4 22.5,-3.9 C25.5,-4.3 27.8,-3.4 29.6,-2.8 C29.8,-4 31,-5.1 32.3,-5 C33.6,-4.9 34.2,-3.8 33.7,-2.5 C34.8,-1.6 36,-0.4 36.2,0.6 C35.8,1.8 33.6,3 31.6,3.5"/><path d="M30.2,-2.4 C30.6,-1.4 31.2,-0.7 31.9,-0.4"/></g>
<rect x="447.3" y="683" width="7.6" height="12.8" fill="#b2042c" />
<rect x="447.3" y="700.4" width="7.6" height="12.2" fill="#2c4a86" />
<text x="459.6" y="693.6" font-size="11.5" text-anchor="start" fill="#333" font-weight="normal" >Y</text>
<text x="459.4" y="710.4" font-size="11.5" text-anchor="start" fill="#333" font-weight="normal" >O</text>
<rect x="442" y="836.5" width="7.6" height="12" fill="#6ca83e" />
<rect x="442" y="853.5" width="7.6" height="12" fill="#522466" />
<text x="454.6" y="846.4" font-size="11.5" text-anchor="start" fill="#333" font-weight="normal" >DY</text>
<text x="454.6" y="863.2" font-size="11.5" text-anchor="start" fill="#333" font-weight="normal" >DO</text>
<text x="95" y="41.5" font-size="12.5" text-anchor="start" fill="#222" textLength="95.4" lengthAdjust="spacingAndGlyphs"><tspan>gate: CD3</tspan><tspan font-size="10.5" dy="-4.2">+</tspan><tspan dy="4.2">CD4</tspan><tspan font-size="10.5" dy="-4.2">+</tspan></text>
<line x1="44.8" y1="50" x2="239.8" y2="50" stroke="#000" stroke-width="2" />
<g transform="translate(48.8,71.3) scale(1.0)" fill="none" stroke="#111" stroke-width="1.4" stroke-linecap="round" stroke-linejoin="round"><path d="M0,0 C3,1 7,2.6 11.5,2.4 C15,2.2 18.5,-3.4 22.5,-3.9 C25.5,-4.3 27.8,-3.4 29.6,-2.8 C29.8,-4 31,-5.1 32.3,-5 C33.6,-4.9 34.2,-3.8 33.7,-2.5 C34.8,-1.6 36,-0.4 36.2,0.6 C35.8,1.8 33.6,3 31.6,3.5"/><path d="M30.2,-2.4 C30.6,-1.4 31.2,-0.7 31.9,-0.4"/></g>
<text x="100.8" y="72" font-size="12" text-anchor="start" fill="#333" font-weight="normal" >Y</text>
<g transform="translate(145.7,56.599999999999994) rotate(43) scale(1.0)"><rect x="-0.3" y="-2.2" width="1.7" height="4.4" fill="#111"/><rect x="1.2" y="-0.7" width="1.8" height="1.4" fill="#111"/><rect x="3.0" y="-1.75" width="10.2" height="3.5" fill="#111"/><rect x="4.6" y="-0.5" width="7.2" height="1.0" fill="#8a8a8a"/><path d="M13,-1 L14.2,-0.45 L14.2,0.45 L13,1 Z" fill="#111"/><line x1="14" y1="0" x2="18.6" y2="0" stroke="#111" stroke-width="1"/></g>
<g transform="translate(145.1,71.1) scale(1.0)" fill="none" stroke="#111" stroke-width="1.4" stroke-linecap="round" stroke-linejoin="round"><path d="M0,0 C3,1 7,2.6 11.5,2.4 C15,2.2 18.5,-3.4 22.5,-3.9 C25.5,-4.3 27.8,-3.4 29.6,-2.8 C29.8,-4 31,-5.1 32.3,-5 C33.6,-4.9 34.2,-3.8 33.7,-2.5 C34.8,-1.6 36,-0.4 36.2,0.6 C35.8,1.8 33.6,3 31.6,3.5"/><path d="M30.2,-2.4 C30.6,-1.4 31.2,-0.7 31.9,-0.4"/></g>
<text x="188.8" y="72.3" font-size="12" text-anchor="start" fill="#333" font-weight="normal" textLength="18.2" lengthAdjust="spacingAndGlyphs">DY</text>
<text x="103.8" y="179.3" font-size="12" text-anchor="middle" fill="#333" font-weight="normal" textLength="10.4" lengthAdjust="spacingAndGlyphs">O</text>
<text x="197.2" y="179.3" font-size="12" text-anchor="middle" fill="#333" font-weight="normal" textLength="20" lengthAdjust="spacingAndGlyphs">DO</text>
<line x1="61.9" y1="80.2" x2="145.7" y2="80.2" stroke="#999999" stroke-width="1.3" />
<line x1="145.7" y1="80.2" x2="145.7" y2="165.6" stroke="#999999" stroke-width="1.3" />
<line x1="61.9" y1="80.2" x2="61.9" y2="165.6" stroke="#4a4a4a" stroke-width="1.7" />
<line x1="61.9" y1="165.6" x2="145.7" y2="165.6" stroke="#4a4a4a" stroke-width="1.7" />
<line x1="85" y1="80.2" x2="85" y2="165.6" stroke="#8c8c8c" stroke-width="1.3" />
<line x1="61.9" y1="128.5" x2="145.7" y2="128.5" stroke="#8c8c8c" stroke-width="1.3" />
<line x1="152.8" y1="81" x2="152.8" y2="165.9" stroke="#4a4a4a" stroke-width="1.7" />
<line x1="152.8" y1="165.9" x2="236.5" y2="165.9" stroke="#4a4a4a" stroke-width="1.7" />
<line x1="152.8" y1="121.8" x2="236" y2="121.8" stroke="#8c8c8c" stroke-width="1.3" />
<line x1="62.5" y1="184.3" x2="145.6" y2="184.3" stroke="#999999" stroke-width="1.3" />
<line x1="145.6" y1="184.3" x2="145.6" y2="270.5" stroke="#999999" stroke-width="1.3" />
<line x1="62.5" y1="184.3" x2="62.5" y2="270.5" stroke="#4a4a4a" stroke-width="1.7" />
<line x1="62.5" y1="270.5" x2="145.6" y2="270.5" stroke="#4a4a4a" stroke-width="1.7" />
<line x1="62.5" y1="232.9" x2="145.6" y2="232.9" stroke="#8c8c8c" stroke-width="1.3" />
<line x1="152.7" y1="184.2" x2="237.9" y2="184.2" stroke="#999999" stroke-width="1.3" />
<line x1="237.9" y1="184.2" x2="237.9" y2="270.4" stroke="#999999" stroke-width="1.3" />
<line x1="152.7" y1="184.2" x2="152.7" y2="270.4" stroke="#4a4a4a" stroke-width="1.7" />
<line x1="152.7" y1="270.4" x2="237.9" y2="270.4" stroke="#4a4a4a" stroke-width="1.7" />
<line x1="177.5" y1="184.2" x2="177.5" y2="270.4" stroke="#8c8c8c" stroke-width="1.3" />
<line x1="152.7" y1="233.6" x2="237.9" y2="233.6" stroke="#8c8c8c" stroke-width="1.3" />
<text x="141.6" y="93.6" font-size="12.5" text-anchor="end" fill="#222" font-weight="normal" stroke="#222" stroke-width="0.08" transform="translate(0.8,0.7)">11</text>
<text x="232" y="94.2" font-size="12.5" text-anchor="end" fill="#222" font-weight="normal" stroke="#222" stroke-width="0.08" transform="translate(0.8,0.7)">22</text>
<text x="142.4" y="198" font-size="12.5" text-anchor="end" fill="#222" font-weight="normal" stroke="#222" stroke-width="0.08" transform="translate(0.8,0.7)">34</text>
<text x="231.5" y="197.2" font-size="12.5" text-anchor="end" fill="#222" font-weight="normal" stroke="#222" stroke-width="0.08" transform="translate(0.8,0.7)">33</text>
<text x="38.5" y="187.9" font-size="12.3" text-anchor="start" fill="#333" font-weight="normal" stroke="#333" stroke-width="0.25">10</text>
<text x="51.7" y="183.0" font-size="8.2" text-anchor="start" fill="#333" font-weight="normal" stroke="#333" stroke-width="0.2">4</text>
<text x="38.5" y="209.5" font-size="12.3" text-anchor="start" fill="#333" font-weight="normal" stroke="#333" stroke-width="0.25">10</text>
<text x="51.7" y="204.6" font-size="8.2" text-anchor="start" fill="#333" font-weight="normal" stroke="#333" stroke-width="0.2">3</text>
<text x="38.5" y="231" font-size="12.3" text-anchor="start" fill="#333" font-weight="normal" stroke="#333" stroke-width="0.25">10</text>
<text x="51.7" y="226.1" font-size="8.2" text-anchor="start" fill="#333" font-weight="normal" stroke="#333" stroke-width="0.2">2</text>
<text x="38.5" y="252.4" font-size="12.3" text-anchor="start" fill="#333" font-weight="normal" stroke="#333" stroke-width="0.25">10</text>
<text x="51.7" y="247.5" font-size="8.2" text-anchor="start" fill="#333" font-weight="normal" stroke="#333" stroke-width="0.2">1</text>
<text x="38.5" y="274.3" font-size="12.3" text-anchor="start" fill="#333" font-weight="normal" stroke="#333" stroke-width="0.25">10</text>
<text x="51.7" y="269.40000000000003" font-size="8.2" text-anchor="start" fill="#333" font-weight="normal" stroke="#333" stroke-width="0.2">0</text>
<text x="54.2" y="287.2" font-size="12.3" text-anchor="start" fill="#333" font-weight="normal" stroke="#333" stroke-width="0.25">10</text>
<text x="67.4" y="282.3" font-size="8.2" text-anchor="start" fill="#333" font-weight="normal" stroke="#333" stroke-width="0.2">0</text>
<text x="74.9" y="287.2" font-size="12.3" text-anchor="start" fill="#333" font-weight="normal" stroke="#333" stroke-width="0.25">10</text>
<text x="88.10000000000001" y="282.3" font-size="8.2" text-anchor="start" fill="#333" font-weight="normal" stroke="#333" stroke-width="0.2">1</text>
<text x="95.6" y="287.2" font-size="12.3" text-anchor="start" fill="#333" font-weight="normal" stroke="#333" stroke-width="0.25">10</text>
<text x="108.8" y="282.3" font-size="8.2" text-anchor="start" fill="#333" font-weight="normal" stroke="#333" stroke-width="0.2">2</text>
<text x="116.3" y="287.2" font-size="12.3" text-anchor="start" fill="#333" font-weight="normal" stroke="#333" stroke-width="0.25">10</text>
<text x="129.5" y="282.3" font-size="8.2" text-anchor="start" fill="#333" font-weight="normal" stroke="#333" stroke-width="0.2">3</text>
<text x="137" y="287.2" font-size="12.3" text-anchor="start" fill="#333" font-weight="normal" stroke="#333" stroke-width="0.25">10</text>
<text x="150.2" y="282.3" font-size="8.2" text-anchor="start" fill="#333" font-weight="normal" stroke="#333" stroke-width="0.2">4</text>
<line x1="26" y1="87.8" x2="26" y2="215.6" stroke="#000" stroke-width="2.0" />
<path d="M26,81.8 L22.3,90.8 L26,89.2 L29.7,90.8 Z" fill="#000"/>
<text transform="translate(29.8,243.1) rotate(-90)" x="0" y="0" font-size="15" text-anchor="middle" fill="#222" stroke="#222" stroke-width="0.2" textLength="46.5" lengthAdjust="spacingAndGlyphs">CD4 APC</text>
<text x="68" y="306.3" font-size="15" fill="#222" stroke="#222" stroke-width="0.2" textLength="54.3" lengthAdjust="spacingAndGlyphs">FoxP3 FITC</text>
<line x1="128" y1="302.3" x2="234" y2="302.3" stroke="#000" stroke-width="2.0" />
<path d="M240,302.3 L231,298.6 L232.6,302.3 L231,306.0 Z" fill="#000"/>
<text x="66" y="365" font-size="12.5" text-anchor="start" fill="#222" textLength="136.8" lengthAdjust="spacingAndGlyphs"><tspan>gate: CD3</tspan><tspan font-size="10.5" dy="-4.2">+</tspan><tspan dy="4.2">CD4</tspan><tspan font-size="10.5" dy="-4.2">+</tspan><tspan dy="4.2">FoxP3</tspan><tspan font-size="10.5" dy="-4.2">+</tspan></text>
<line x1="37.4" y1="372.2" x2="231" y2="372.2" stroke="#000" stroke-width="2" />
<g transform="translate(40.8,393.5) scale(1.0)" fill="none" stroke="#111" stroke-width="1.4" stroke-linecap="round" stroke-linejoin="round"><path d="M0,0 C3,1 7,2.6 11.5,2.4 C15,2.2 18.5,-3.4 22.5,-3.9 C25.5,-4.3 27.8,-3.4 29.6,-2.8 C29.8,-4 31,-5.1 32.3,-5 C33.6,-4.9 34.2,-3.8 33.7,-2.5 C34.8,-1.6 36,-0.4 36.2,0.6 C35.8,1.8 33.6,3 31.6,3.5"/><path d="M30.2,-2.4 C30.6,-1.4 31.2,-0.7 31.9,-0.4"/></g>
<text x="92.5" y="394.5" font-size="12" text-anchor="start" fill="#333" font-weight="normal" >Y</text>
<g transform="translate(138.79999999999998,379.1) rotate(43) scale(1.0)"><rect x="-0.3" y="-2.2" width="1.7" height="4.4" fill="#111"/><rect x="1.2" y="-0.7" width="1.8" height="1.4" fill="#111"/><rect x="3.0" y="-1.75" width="10.2" height="3.5" fill="#111"/><rect x="4.6" y="-0.5" width="7.2" height="1.0" fill="#8a8a8a"/><path d="M13,-1 L14.2,-0.45 L14.2,0.45 L13,1 Z" fill="#111"/><line x1="14" y1="0" x2="18.6" y2="0" stroke="#111" stroke-width="1"/></g>
<g transform="translate(138.2,393.6) scale(1.0)" fill="none" stroke="#111" stroke-width="1.4" stroke-linecap="round" stroke-linejoin="round"><path d="M0,0 C3,1 7,2.6 11.5,2.4 C15,2.2 18.5,-3.4 22.5,-3.9 C25.5,-4.3 27.8,-3.4 29.6,-2.8 C29.8,-4 31,-5.1 32.3,-5 C33.6,-4.9 34.2,-3.8 33.7,-2.5 C34.8,-1.6 36,-0.4 36.2,0.6 C35.8,1.8 33.6,3 31.6,3.5"/><path d="M30.2,-2.4 C30.6,-1.4 31.2,-0.7 31.9,-0.4"/></g>
<text x="180.4" y="394.4" font-size="12" text-anchor="start" fill="#333" font-weight="normal" textLength="18.2" lengthAdjust="spacingAndGlyphs">DY</text>
<text x="95.2" y="501.6" font-size="12" text-anchor="middle" fill="#333" font-weight="normal" textLength="10.4" lengthAdjust="spacingAndGlyphs">O</text>
<text x="188.8" y="501.6" font-size="12" text-anchor="middle" fill="#333" font-weight="normal" textLength="20" lengthAdjust="spacingAndGlyphs">DO</text>
<line x1="55.2" y1="402.7" x2="137.9" y2="402.7" stroke="#999999" stroke-width="1.3" />
<line x1="137.9" y1="402.7" x2="137.9" y2="488.8" stroke="#999999" stroke-width="1.3" />
<line x1="55.2" y1="402.7" x2="55.2" y2="488.8" stroke="#4a4a4a" stroke-width="1.7" />
<line x1="55.2" y1="488.8" x2="137.9" y2="488.8" stroke="#4a4a4a" stroke-width="1.7" />
<line x1="86.5" y1="402.7" x2="86.5" y2="488.8" stroke="#8c8c8c" stroke-width="1.3" />
<line x1="55.2" y1="446.1" x2="137.9" y2="446.1" stroke="#8c8c8c" stroke-width="1.3" />
<line x1="144.6" y1="403.3" x2="226.9" y2="403.3" stroke="#999999" stroke-width="1.3" />
<line x1="226.9" y1="403.3" x2="226.9" y2="488.8" stroke="#999999" stroke-width="1.3" />
<line x1="144.6" y1="403.3" x2="144.6" y2="488.8" stroke="#4a4a4a" stroke-width="1.7" />
<line x1="144.6" y1="488.8" x2="226.9" y2="488.8" stroke="#4a4a4a" stroke-width="1.7" />
<line x1="172.5" y1="403.3" x2="172.5" y2="488.8" stroke="#8c8c8c" stroke-width="1.3" />
<line x1="144.6" y1="444.6" x2="226.9" y2="444.6" stroke="#8c8c8c" stroke-width="1.3" />
<line x1="55.4" y1="503.1" x2="139" y2="503.1" stroke="#999999" stroke-width="1.3" />
<line x1="139" y1="503.1" x2="139" y2="591.4" stroke="#999999" stroke-width="1.3" />
<line x1="55.4" y1="503.1" x2="55.4" y2="591.4" stroke="#4a4a4a" stroke-width="1.7" />
<line x1="55.4" y1="591.4" x2="139" y2="591.4" stroke="#4a4a4a" stroke-width="1.7" />
<line x1="86.9" y1="503.1" x2="86.9" y2="591.4" stroke="#8c8c8c" stroke-width="1.3" />
<line x1="55.4" y1="547.3" x2="139" y2="547.3" stroke="#8c8c8c" stroke-width="1.3" />
<line x1="144.6" y1="503.7" x2="228.3" y2="503.7" stroke="#999999" stroke-width="1.3" />
<line x1="228.3" y1="503.7" x2="228.3" y2="590.8" stroke="#999999" stroke-width="1.3" />
<line x1="144.6" y1="503.7" x2="144.6" y2="590.8" stroke="#4a4a4a" stroke-width="1.7" />
<line x1="144.6" y1="590.8" x2="228.3" y2="590.8" stroke="#4a4a4a" stroke-width="1.7" />
<line x1="173.5" y1="503.7" x2="173.5" y2="590.8" stroke="#8c8c8c" stroke-width="1.3" />
<line x1="144.6" y1="545.6" x2="228.3" y2="545.6" stroke="#8c8c8c" stroke-width="1.3" />
<text x="134.6" y="416.2" font-size="12.5" text-anchor="end" fill="#222" font-weight="normal" stroke="#222" stroke-width="0.08" transform="translate(0.8,0.7)">56</text>
<text x="221.6" y="415.8" font-size="12.5" text-anchor="end" fill="#222" font-weight="normal" stroke="#222" stroke-width="0.08" transform="translate(0.8,0.7)">61</text>
<text x="134.6" y="516.6" font-size="12.5" text-anchor="end" fill="#222" font-weight="normal" stroke="#222" stroke-width="0.08" transform="translate(0.8,0.7)">86</text>
<text x="223.2" y="516.3" font-size="12.5" text-anchor="end" fill="#222" font-weight="normal" stroke="#222" stroke-width="0.08" transform="translate(0.8,0.7)">85</text>
<text x="30.2" y="510.8" font-size="12.3" text-anchor="start" fill="#333" font-weight="normal" stroke="#333" stroke-width="0.25">10</text>
<text x="43.4" y="505.90000000000003" font-size="8.2" text-anchor="start" fill="#333" font-weight="normal" stroke="#333" stroke-width="0.2">4</text>
<text x="30.2" y="531.8" font-size="12.3" text-anchor="start" fill="#333" font-weight="normal" stroke="#333" stroke-width="0.25">10</text>
<text x="43.4" y="526.9" font-size="8.2" text-anchor="start" fill="#333" font-weight="normal" stroke="#333" stroke-width="0.2">3</text>
<text x="30.2" y="553.6" font-size="12.3" text-anchor="start" fill="#333" font-weight="normal" stroke="#333" stroke-width="0.25">10</text>
<text x="43.4" y="548.7" font-size="8.2" text-anchor="start" fill="#333" font-weight="normal" stroke="#333" stroke-width="0.2">2</text>
<text x="30.2" y="574.6" font-size="12.3" text-anchor="start" fill="#333" font-weight="normal" stroke="#333" stroke-width="0.25">10</text>
<text x="43.4" y="569.7" font-size="8.2" text-anchor="start" fill="#333" font-weight="normal" stroke="#333" stroke-width="0.2">1</text>
<text x="30.2" y="596.6" font-size="12.3" text-anchor="start" fill="#333" font-weight="normal" stroke="#333" stroke-width="0.25">10</text>
<text x="43.4" y="591.7" font-size="8.2" text-anchor="start" fill="#333" font-weight="normal" stroke="#333" stroke-width="0.2">0</text>
<text x="45.9" y="608" font-size="12.3" text-anchor="start" fill="#333" font-weight="normal" stroke="#333" stroke-width="0.25">10</text>
<text x="59.099999999999994" y="603.1" font-size="8.2" text-anchor="start" fill="#333" font-weight="normal" stroke="#333" stroke-width="0.2">0</text>
<text x="66.4" y="608" font-size="12.3" text-anchor="start" fill="#333" font-weight="normal" stroke="#333" stroke-width="0.25">10</text>
<text x="79.60000000000001" y="603.1" font-size="8.2" text-anchor="start" fill="#333" font-weight="normal" stroke="#333" stroke-width="0.2">1</text>
<text x="87" y="608" font-size="12.3" text-anchor="start" fill="#333" font-weight="normal" stroke="#333" stroke-width="0.25">10</text>
<text x="100.2" y="603.1" font-size="8.2" text-anchor="start" fill="#333" font-weight="normal" stroke="#333" stroke-width="0.2">2</text>
<text x="108" y="608" font-size="12.3" text-anchor="start" fill="#333" font-weight="normal" stroke="#333" stroke-width="0.25">10</text>
<text x="121.2" y="603.1" font-size="8.2" text-anchor="start" fill="#333" font-weight="normal" stroke="#333" stroke-width="0.2">3</text>
<text x="128.4" y="608" font-size="12.3" text-anchor="start" fill="#333" font-weight="normal" stroke="#333" stroke-width="0.25">10</text>
<text x="141.6" y="603.1" font-size="8.2" text-anchor="start" fill="#333" font-weight="normal" stroke="#333" stroke-width="0.2">4</text>
<line x1="17.7" y1="404.2" x2="17.7" y2="538.5" stroke="#000" stroke-width="2.0" />
<path d="M17.7,398.2 L14.0,407.2 L17.7,405.59999999999997 L21.4,407.2 Z" fill="#000"/>
<text transform="translate(21.5,566.1) rotate(-90)" x="0" y="0" font-size="15" text-anchor="middle" fill="#222" stroke="#222" stroke-width="0.2" textLength="45.3" lengthAdjust="spacingAndGlyphs">CD4 APC</text>
<text x="63.3" y="626.2" font-size="15" fill="#222" stroke="#222" stroke-width="0.2" textLength="93.6" lengthAdjust="spacingAndGlyphs">Helios Pacific Blue</text>
<line x1="162.8" y1="622.2" x2="228.3" y2="622.2" stroke="#000" stroke-width="2.0" />
<path d="M234.3,622.2 L225.3,618.5 L226.9,622.2 L225.3,625.9000000000001 Z" fill="#000"/>
<text x="111.1" y="695" font-size="12.5" text-anchor="start" fill="#222" textLength="71.2" lengthAdjust="spacingAndGlyphs"><tspan>gate: CD19</tspan><tspan font-size="10.5" dy="-4.2">+</tspan></text>
<line x1="49.2" y1="701.8" x2="243.6" y2="701.8" stroke="#000" stroke-width="2" />
<g transform="translate(48.8,723.1) scale(1.0)" fill="none" stroke="#111" stroke-width="1.4" stroke-linecap="round" stroke-linejoin="round"><path d="M0,0 C3,1 7,2.6 11.5,2.4 C15,2.2 18.5,-3.4 22.5,-3.9 C25.5,-4.3 27.8,-3.4 29.6,-2.8 C29.8,-4 31,-5.1 32.3,-5 C33.6,-4.9 34.2,-3.8 33.7,-2.5 C34.8,-1.6 36,-0.4 36.2,0.6 C35.8,1.8 33.6,3 31.6,3.5"/><path d="M30.2,-2.4 C30.6,-1.4 31.2,-0.7 31.9,-0.4"/></g>
<text x="101" y="723.9" font-size="12" text-anchor="start" fill="#333" font-weight="normal" >Y</text>
<g transform="translate(146.79999999999998,708.8) rotate(43) scale(1.0)"><rect x="-0.3" y="-2.2" width="1.7" height="4.4" fill="#111"/><rect x="1.2" y="-0.7" width="1.8" height="1.4" fill="#111"/><rect x="3.0" y="-1.75" width="10.2" height="3.5" fill="#111"/><rect x="4.6" y="-0.5" width="7.2" height="1.0" fill="#8a8a8a"/><path d="M13,-1 L14.2,-0.45 L14.2,0.45 L13,1 Z" fill="#111"/><line x1="14" y1="0" x2="18.6" y2="0" stroke="#111" stroke-width="1"/></g>
<g transform="translate(146.2,723.3) scale(1.0)" fill="none" stroke="#111" stroke-width="1.4" stroke-linecap="round" stroke-linejoin="round"><path d="M0,0 C3,1 7,2.6 11.5,2.4 C15,2.2 18.5,-3.4 22.5,-3.9 C25.5,-4.3 27.8,-3.4 29.6,-2.8 C29.8,-4 31,-5.1 32.3,-5 C33.6,-4.9 34.2,-3.8 33.7,-2.5 C34.8,-1.6 36,-0.4 36.2,0.6 C35.8,1.8 33.6,3 31.6,3.5"/><path d="M30.2,-2.4 C30.6,-1.4 31.2,-0.7 31.9,-0.4"/></g>
<text x="188.6" y="724.7" font-size="12" text-anchor="start" fill="#333" font-weight="normal" textLength="18.2" lengthAdjust="spacingAndGlyphs">DY</text>
<text x="104.2" y="831.8" font-size="12" text-anchor="middle" fill="#333" font-weight="normal" textLength="10.4" lengthAdjust="spacingAndGlyphs">O</text>
<text x="197" y="831.8" font-size="12" text-anchor="middle" fill="#333" font-weight="normal" textLength="20" lengthAdjust="spacingAndGlyphs">DO</text>
<line x1="61.7" y1="732.3" x2="145" y2="732.3" stroke="#999999" stroke-width="1.3" />
<line x1="145" y1="732.3" x2="145" y2="818.2" stroke="#999999" stroke-width="1.3" />
<line x1="61.7" y1="732.3" x2="61.7" y2="818.2" stroke="#4a4a4a" stroke-width="1.7" />
<line x1="61.7" y1="818.2" x2="145" y2="818.2" stroke="#4a4a4a" stroke-width="1.7" />
<path d="M65.8,755.7 L76.2,744.4 L104.7,744.4 L121.2,759.2 L121.2,780.8 L99.5,796.4 L72.2,796.4 L65.8,780.0 Z" fill="none" stroke="#6e6e6e" stroke-width="1.2"/>
<path d="M61.7,796.4 L99.5,796.4 L99.5,818.2" fill="none" stroke="#6e6e6e" stroke-width="1.2"/>
<path d="M99.5,818.2 L99.5,796.4 L116.8,785.1 L125.5,793.8 L125.5,818.2" fill="none" stroke="#6e6e6e" stroke-width="1.2"/>
<text x="142" y="750.5" font-size="12.5" text-anchor="end" fill="#222" font-weight="normal" stroke="#222" stroke-width="0.08" transform="translate(0.8,0.7)">77</text>
<text x="77.5" y="812.8" font-size="12.5" text-anchor="end" fill="#222" font-weight="normal" stroke="#222" stroke-width="0.08" transform="translate(0.8,0.7)">11</text>
<text x="142.8" y="812.8" font-size="12.5" text-anchor="end" fill="#222" font-weight="normal" stroke="#222" stroke-width="0.08" transform="translate(0.8,0.7)">12</text>
<line x1="155" y1="732.2" x2="237.6" y2="732.2" stroke="#999999" stroke-width="1.3" />
<line x1="237.6" y1="732.2" x2="237.6" y2="817.8" stroke="#999999" stroke-width="1.3" />
<line x1="155" y1="732.2" x2="155" y2="817.8" stroke="#4a4a4a" stroke-width="1.7" />
<line x1="155" y1="817.8" x2="237.6" y2="817.8" stroke="#4a4a4a" stroke-width="1.7" />
<path d="M168.6,742.8 L178.3,734.0 L206.6,733.4 L223.4,747.2 L223.4,772.0 L196.9,785.5 L173.9,785.5 L168.6,772.0 Z" fill="none" stroke="#6e6e6e" stroke-width="1.2"/>
<path d="M155.0,786.2 L195.1,786.2 L195.1,817.8" fill="none" stroke="#6e6e6e" stroke-width="1.2"/>
<path d="M195.1,817.8 L195.1,786.2 L216.3,775.5 L222.5,782.6 L222.5,817.8" fill="none" stroke="#6e6e6e" stroke-width="1.2"/>
<text x="231.4" y="743.7" font-size="12.5" text-anchor="end" fill="#222" font-weight="normal" stroke="#222" stroke-width="0.08" transform="translate(0.8,0.7)">69</text>
<text x="172.3" y="813.6" font-size="12.5" text-anchor="end" fill="#222" font-weight="normal" stroke="#222" stroke-width="0.08" transform="translate(0.8,0.7)">12</text>
<text x="231.4" y="813.6" font-size="12.5" text-anchor="end" fill="#222" font-weight="normal" stroke="#222" stroke-width="0.08" transform="translate(0.8,0.7)">17</text>
<line x1="62.3" y1="835.6" x2="145" y2="835.6" stroke="#999999" stroke-width="1.3" />
<line x1="145" y1="835.6" x2="145" y2="922.3" stroke="#999999" stroke-width="1.3" />
<line x1="62.3" y1="835.6" x2="62.3" y2="922.3" stroke="#4a4a4a" stroke-width="1.7" />
<line x1="62.3" y1="922.3" x2="145" y2="922.3" stroke="#4a4a4a" stroke-width="1.7" />
<path d="M66.7,856.2 L78.8,847.6 L108.2,847.6 L121.2,859.7 L121.2,885.7 L101.3,899.8 L71.8,899.8 L66.7,884.0 Z" fill="none" stroke="#6e6e6e" stroke-width="1.2"/>
<path d="M62.3,900.4 L99.5,900.4 L99.5,922.3" fill="none" stroke="#6e6e6e" stroke-width="1.2"/>
<path d="M99.5,922.3 L99.5,900.4 L117.7,888.2 L126.4,897.8 L126.4,922.3" fill="none" stroke="#6e6e6e" stroke-width="1.2"/>
<text x="142" y="850.2" font-size="12.5" text-anchor="end" fill="#222" font-weight="normal" stroke="#222" stroke-width="0.08" transform="translate(0.8,0.7)">64</text>
<text x="78" y="917.7" font-size="12.5" text-anchor="end" fill="#222" font-weight="normal" stroke="#222" stroke-width="0.08" transform="translate(0.8,0.7)">29</text>
<text x="142.2" y="917.7" font-size="12.5" text-anchor="end" fill="#222" font-weight="normal" stroke="#222" stroke-width="0.08" transform="translate(0.8,0.7)">6</text>
<line x1="155" y1="836.2" x2="237.6" y2="836.2" stroke="#999999" stroke-width="1.3" />
<line x1="237.6" y1="836.2" x2="237.6" y2="922.4" stroke="#999999" stroke-width="1.3" />
<line x1="155" y1="836.2" x2="155" y2="922.4" stroke="#4a4a4a" stroke-width="1.7" />
<line x1="155" y1="922.4" x2="237.6" y2="922.4" stroke="#4a4a4a" stroke-width="1.7" />
<path d="M169.5,846.8 L179.2,837.3 L207.5,837.3 L223.4,851.2 L223.4,871.6 L196.0,889.3 L174.8,889.3 L169.5,875.1 Z" fill="none" stroke="#6e6e6e" stroke-width="1.2"/>
<path d="M155.0,890.2 L194.6,890.2 L194.6,922.4" fill="none" stroke="#6e6e6e" stroke-width="1.2"/>
<path d="M195.1,922.4 L195.1,890.2 L216.3,879.5 L222.5,884.8 L222.5,922.4" fill="none" stroke="#6e6e6e" stroke-width="1.2"/>
<text x="231.4" y="849.6" font-size="12.5" text-anchor="end" fill="#222" font-weight="normal" stroke="#222" stroke-width="0.08" transform="translate(0.8,0.7)">56</text>
<text x="172.3" y="917.6" font-size="12.5" text-anchor="end" fill="#222" font-weight="normal" stroke="#222" stroke-width="0.08" transform="translate(0.8,0.7)">27</text>
<text x="231.4" y="917.6" font-size="12.5" text-anchor="end" fill="#222" font-weight="normal" stroke="#222" stroke-width="0.08" transform="translate(0.8,0.7)">13</text>
<text x="38.6" y="849.8" font-size="12.3" text-anchor="start" fill="#333" font-weight="normal" stroke="#333" stroke-width="0.25">10</text>
<text x="51.8" y="844.9" font-size="8.2" text-anchor="start" fill="#333" font-weight="normal" stroke="#333" stroke-width="0.2">3</text>
<text x="38.6" y="875.3" font-size="12.3" text-anchor="start" fill="#333" font-weight="normal" stroke="#333" stroke-width="0.25">10</text>
<text x="51.8" y="870.4" font-size="8.2" text-anchor="start" fill="#333" font-weight="normal" stroke="#333" stroke-width="0.2">2</text>
<text x="38.6" y="900.8" font-size="12.3" text-anchor="start" fill="#333" font-weight="normal" stroke="#333" stroke-width="0.25">10</text>
<text x="51.8" y="895.9" font-size="8.2" text-anchor="start" fill="#333" font-weight="normal" stroke="#333" stroke-width="0.2">1</text>
<text x="38.6" y="925.6" font-size="12.3" text-anchor="start" fill="#333" font-weight="normal" stroke="#333" stroke-width="0.25">10</text>
<text x="51.8" y="920.7" font-size="8.2" text-anchor="start" fill="#333" font-weight="normal" stroke="#333" stroke-width="0.2">0</text>
<text x="54.2" y="939.6" font-size="12.3" text-anchor="start" fill="#333" font-weight="normal" stroke="#333" stroke-width="0.25">10</text>
<text x="67.4" y="934.7" font-size="8.2" text-anchor="start" fill="#333" font-weight="normal" stroke="#333" stroke-width="0.2">0</text>
<text x="78.8" y="939.6" font-size="12.3" text-anchor="start" fill="#333" font-weight="normal" stroke="#333" stroke-width="0.25">10</text>
<text x="92.0" y="934.7" font-size="8.2" text-anchor="start" fill="#333" font-weight="normal" stroke="#333" stroke-width="0.2">1</text>
<text x="102.9" y="939.6" font-size="12.3" text-anchor="start" fill="#333" font-weight="normal" stroke="#333" stroke-width="0.25">10</text>
<text x="116.10000000000001" y="934.7" font-size="8.2" text-anchor="start" fill="#333" font-weight="normal" stroke="#333" stroke-width="0.2">2</text>
<text x="126.9" y="939.6" font-size="12.3" text-anchor="start" fill="#333" font-weight="normal" stroke="#333" stroke-width="0.25">10</text>
<text x="140.1" y="934.7" font-size="8.2" text-anchor="start" fill="#333" font-weight="normal" stroke="#333" stroke-width="0.2">3</text>
<line x1="26" y1="733.2" x2="26" y2="848.6" stroke="#000" stroke-width="2.0" />
<path d="M26,727.2 L22.3,736.2 L26,734.6 L29.7,736.2 Z" fill="#000"/>
<text transform="translate(30.1,886.8) rotate(-90)" x="0" y="0" font-size="15" text-anchor="middle" fill="#222" stroke="#222" stroke-width="0.2" textLength="67.2" lengthAdjust="spacingAndGlyphs">CD23 PE-Cy7</text>
<text x="59.6" y="957.5" font-size="15" fill="#222" stroke="#222" stroke-width="0.2" textLength="109" lengthAdjust="spacingAndGlyphs">CD21/35 Pacific Blue</text>
<line x1="174.3" y1="954.3" x2="240.8" y2="954.3" stroke="#000" stroke-width="2.0" />
<path d="M246.8,954.3 L237.8,950.5999999999999 L239.4,954.3 L237.8,958.0 Z" fill="#000"/>
</svg></body></html>
